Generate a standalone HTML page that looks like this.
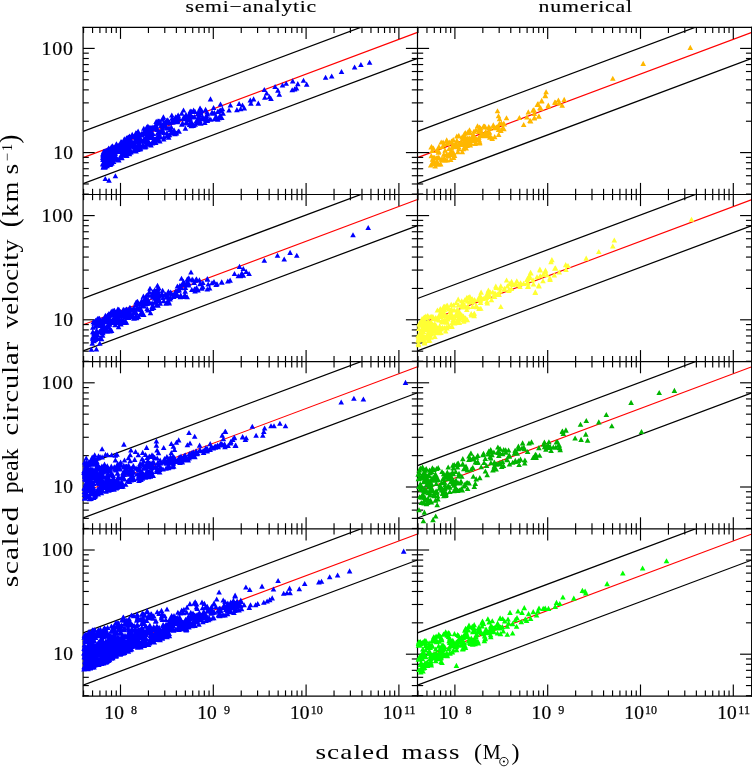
<!DOCTYPE html>
<html><head><meta charset="utf-8"><title>plot</title>
<style>html,body{margin:0;padding:0;background:#fff}svg{display:block;will-change:transform}</style></head>
<body>
<svg width="752" height="767" viewBox="0 0 752 767">
<rect width="752" height="767" fill="#fff"/>
<clipPath id="c00"><rect x="83.1" y="27.3" width="334.4" height="167.2"/></clipPath>
<g clip-path="url(#c00)">
<line x1="83.10" y1="131.30" x2="417.50" y2="6.07" stroke="#000" stroke-width="1.25"/>
<line x1="83.10" y1="183.60" x2="417.50" y2="58.37" stroke="#000" stroke-width="1.25"/>
<line x1="83.10" y1="157.60" x2="417.50" y2="32.37" stroke="#f00" stroke-width="1.15"/>
</g>
<clipPath id="c01"><rect x="417.5" y="27.3" width="334.4" height="167.2"/></clipPath>
<g clip-path="url(#c01)">
<line x1="417.50" y1="131.30" x2="751.90" y2="6.07" stroke="#000" stroke-width="1.25"/>
<line x1="417.50" y1="183.60" x2="751.90" y2="58.37" stroke="#000" stroke-width="1.25"/>
<line x1="417.50" y1="157.60" x2="751.90" y2="32.37" stroke="#f00" stroke-width="1.15"/>
</g>
<clipPath id="c10"><rect x="83.1" y="194.5" width="334.4" height="167.2"/></clipPath>
<g clip-path="url(#c10)">
<line x1="83.10" y1="298.50" x2="417.50" y2="173.27" stroke="#000" stroke-width="1.25"/>
<line x1="83.10" y1="350.80" x2="417.50" y2="225.57" stroke="#000" stroke-width="1.25"/>
<line x1="83.10" y1="324.80" x2="417.50" y2="199.57" stroke="#f00" stroke-width="1.15"/>
</g>
<clipPath id="c11"><rect x="417.5" y="194.5" width="334.4" height="167.2"/></clipPath>
<g clip-path="url(#c11)">
<line x1="417.50" y1="298.50" x2="751.90" y2="173.27" stroke="#000" stroke-width="1.25"/>
<line x1="417.50" y1="350.80" x2="751.90" y2="225.57" stroke="#000" stroke-width="1.25"/>
<line x1="417.50" y1="324.80" x2="751.90" y2="199.57" stroke="#f00" stroke-width="1.15"/>
</g>
<clipPath id="c20"><rect x="83.1" y="361.7" width="334.4" height="167.2"/></clipPath>
<g clip-path="url(#c20)">
<line x1="83.10" y1="465.70" x2="417.50" y2="340.47" stroke="#000" stroke-width="1.25"/>
<line x1="83.10" y1="518.00" x2="417.50" y2="392.77" stroke="#000" stroke-width="1.25"/>
<line x1="83.10" y1="492.00" x2="417.50" y2="366.77" stroke="#f00" stroke-width="1.15"/>
</g>
<clipPath id="c21"><rect x="417.5" y="361.7" width="334.4" height="167.2"/></clipPath>
<g clip-path="url(#c21)">
<line x1="417.50" y1="465.70" x2="751.90" y2="340.47" stroke="#000" stroke-width="1.25"/>
<line x1="417.50" y1="518.00" x2="751.90" y2="392.77" stroke="#000" stroke-width="1.25"/>
<line x1="417.50" y1="492.00" x2="751.90" y2="366.77" stroke="#f00" stroke-width="1.15"/>
</g>
<clipPath id="c30"><rect x="83.1" y="528.9" width="334.4" height="167.2"/></clipPath>
<g clip-path="url(#c30)">
<line x1="83.10" y1="632.90" x2="417.50" y2="507.67" stroke="#000" stroke-width="1.25"/>
<line x1="83.10" y1="685.20" x2="417.50" y2="559.97" stroke="#000" stroke-width="1.25"/>
<line x1="83.10" y1="659.20" x2="417.50" y2="533.97" stroke="#f00" stroke-width="1.15"/>
</g>
<clipPath id="c31"><rect x="417.5" y="528.9" width="334.4" height="167.2"/></clipPath>
<g clip-path="url(#c31)">
<line x1="417.50" y1="632.90" x2="751.90" y2="507.67" stroke="#000" stroke-width="1.25"/>
<line x1="417.50" y1="685.20" x2="751.90" y2="559.97" stroke="#000" stroke-width="1.25"/>
<line x1="417.50" y1="659.20" x2="751.90" y2="533.97" stroke="#f00" stroke-width="1.15"/>
</g>
<g stroke="#000" fill="none">
<line x1="82.50" y1="27.30" x2="752.00" y2="27.30" stroke="#000" stroke-width="1.2"/>
<line x1="82.50" y1="194.50" x2="752.00" y2="194.50" stroke="#000" stroke-width="1.2"/>
<line x1="82.50" y1="361.70" x2="752.00" y2="361.70" stroke="#000" stroke-width="1.2"/>
<line x1="82.50" y1="528.90" x2="752.00" y2="528.90" stroke="#000" stroke-width="1.2"/>
<line x1="82.50" y1="696.10" x2="752.00" y2="696.10" stroke="#000" stroke-width="1.2"/>
<line x1="83.10" y1="26.70" x2="83.10" y2="696.70" stroke="#000" stroke-width="1.2"/>
<line x1="417.50" y1="26.70" x2="417.50" y2="696.70" stroke="#000" stroke-width="1.2"/>
<line x1="751.65" y1="26.70" x2="751.65" y2="696.70" stroke="#000" stroke-width="1.2"/>
<line x1="120.50" y1="27.30" x2="120.50" y2="38.90" stroke="#000" stroke-width="1.15"/>
<line x1="213.30" y1="27.30" x2="213.30" y2="38.90" stroke="#000" stroke-width="1.15"/>
<line x1="306.10" y1="27.30" x2="306.10" y2="38.90" stroke="#000" stroke-width="1.15"/>
<line x1="398.90" y1="27.30" x2="398.90" y2="38.90" stroke="#000" stroke-width="1.15"/>
<line x1="83.57" y1="27.30" x2="83.57" y2="33.00" stroke="#000" stroke-width="1.15"/>
<line x1="92.56" y1="27.30" x2="92.56" y2="33.00" stroke="#000" stroke-width="1.15"/>
<line x1="99.91" y1="27.30" x2="99.91" y2="33.00" stroke="#000" stroke-width="1.15"/>
<line x1="106.13" y1="27.30" x2="106.13" y2="33.00" stroke="#000" stroke-width="1.15"/>
<line x1="111.51" y1="27.30" x2="111.51" y2="33.00" stroke="#000" stroke-width="1.15"/>
<line x1="116.25" y1="27.30" x2="116.25" y2="33.00" stroke="#000" stroke-width="1.15"/>
<line x1="148.44" y1="27.30" x2="148.44" y2="33.00" stroke="#000" stroke-width="1.15"/>
<line x1="164.78" y1="27.30" x2="164.78" y2="33.00" stroke="#000" stroke-width="1.15"/>
<line x1="176.37" y1="27.30" x2="176.37" y2="33.00" stroke="#000" stroke-width="1.15"/>
<line x1="185.36" y1="27.30" x2="185.36" y2="33.00" stroke="#000" stroke-width="1.15"/>
<line x1="192.71" y1="27.30" x2="192.71" y2="33.00" stroke="#000" stroke-width="1.15"/>
<line x1="198.93" y1="27.30" x2="198.93" y2="33.00" stroke="#000" stroke-width="1.15"/>
<line x1="204.31" y1="27.30" x2="204.31" y2="33.00" stroke="#000" stroke-width="1.15"/>
<line x1="209.05" y1="27.30" x2="209.05" y2="33.00" stroke="#000" stroke-width="1.15"/>
<line x1="241.24" y1="27.30" x2="241.24" y2="33.00" stroke="#000" stroke-width="1.15"/>
<line x1="257.58" y1="27.30" x2="257.58" y2="33.00" stroke="#000" stroke-width="1.15"/>
<line x1="269.17" y1="27.30" x2="269.17" y2="33.00" stroke="#000" stroke-width="1.15"/>
<line x1="278.16" y1="27.30" x2="278.16" y2="33.00" stroke="#000" stroke-width="1.15"/>
<line x1="285.51" y1="27.30" x2="285.51" y2="33.00" stroke="#000" stroke-width="1.15"/>
<line x1="291.73" y1="27.30" x2="291.73" y2="33.00" stroke="#000" stroke-width="1.15"/>
<line x1="297.11" y1="27.30" x2="297.11" y2="33.00" stroke="#000" stroke-width="1.15"/>
<line x1="301.85" y1="27.30" x2="301.85" y2="33.00" stroke="#000" stroke-width="1.15"/>
<line x1="334.04" y1="27.30" x2="334.04" y2="33.00" stroke="#000" stroke-width="1.15"/>
<line x1="350.38" y1="27.30" x2="350.38" y2="33.00" stroke="#000" stroke-width="1.15"/>
<line x1="361.97" y1="27.30" x2="361.97" y2="33.00" stroke="#000" stroke-width="1.15"/>
<line x1="370.96" y1="27.30" x2="370.96" y2="33.00" stroke="#000" stroke-width="1.15"/>
<line x1="378.31" y1="27.30" x2="378.31" y2="33.00" stroke="#000" stroke-width="1.15"/>
<line x1="384.53" y1="27.30" x2="384.53" y2="33.00" stroke="#000" stroke-width="1.15"/>
<line x1="389.91" y1="27.30" x2="389.91" y2="33.00" stroke="#000" stroke-width="1.15"/>
<line x1="394.65" y1="27.30" x2="394.65" y2="33.00" stroke="#000" stroke-width="1.15"/>
<line x1="454.90" y1="27.30" x2="454.90" y2="38.90" stroke="#000" stroke-width="1.15"/>
<line x1="547.70" y1="27.30" x2="547.70" y2="38.90" stroke="#000" stroke-width="1.15"/>
<line x1="640.50" y1="27.30" x2="640.50" y2="38.90" stroke="#000" stroke-width="1.15"/>
<line x1="733.30" y1="27.30" x2="733.30" y2="38.90" stroke="#000" stroke-width="1.15"/>
<line x1="417.97" y1="27.30" x2="417.97" y2="33.00" stroke="#000" stroke-width="1.15"/>
<line x1="426.96" y1="27.30" x2="426.96" y2="33.00" stroke="#000" stroke-width="1.15"/>
<line x1="434.31" y1="27.30" x2="434.31" y2="33.00" stroke="#000" stroke-width="1.15"/>
<line x1="440.53" y1="27.30" x2="440.53" y2="33.00" stroke="#000" stroke-width="1.15"/>
<line x1="445.91" y1="27.30" x2="445.91" y2="33.00" stroke="#000" stroke-width="1.15"/>
<line x1="450.65" y1="27.30" x2="450.65" y2="33.00" stroke="#000" stroke-width="1.15"/>
<line x1="482.84" y1="27.30" x2="482.84" y2="33.00" stroke="#000" stroke-width="1.15"/>
<line x1="499.18" y1="27.30" x2="499.18" y2="33.00" stroke="#000" stroke-width="1.15"/>
<line x1="510.77" y1="27.30" x2="510.77" y2="33.00" stroke="#000" stroke-width="1.15"/>
<line x1="519.76" y1="27.30" x2="519.76" y2="33.00" stroke="#000" stroke-width="1.15"/>
<line x1="527.11" y1="27.30" x2="527.11" y2="33.00" stroke="#000" stroke-width="1.15"/>
<line x1="533.33" y1="27.30" x2="533.33" y2="33.00" stroke="#000" stroke-width="1.15"/>
<line x1="538.71" y1="27.30" x2="538.71" y2="33.00" stroke="#000" stroke-width="1.15"/>
<line x1="543.45" y1="27.30" x2="543.45" y2="33.00" stroke="#000" stroke-width="1.15"/>
<line x1="575.64" y1="27.30" x2="575.64" y2="33.00" stroke="#000" stroke-width="1.15"/>
<line x1="591.98" y1="27.30" x2="591.98" y2="33.00" stroke="#000" stroke-width="1.15"/>
<line x1="603.57" y1="27.30" x2="603.57" y2="33.00" stroke="#000" stroke-width="1.15"/>
<line x1="612.56" y1="27.30" x2="612.56" y2="33.00" stroke="#000" stroke-width="1.15"/>
<line x1="619.91" y1="27.30" x2="619.91" y2="33.00" stroke="#000" stroke-width="1.15"/>
<line x1="626.13" y1="27.30" x2="626.13" y2="33.00" stroke="#000" stroke-width="1.15"/>
<line x1="631.51" y1="27.30" x2="631.51" y2="33.00" stroke="#000" stroke-width="1.15"/>
<line x1="636.25" y1="27.30" x2="636.25" y2="33.00" stroke="#000" stroke-width="1.15"/>
<line x1="668.44" y1="27.30" x2="668.44" y2="33.00" stroke="#000" stroke-width="1.15"/>
<line x1="684.78" y1="27.30" x2="684.78" y2="33.00" stroke="#000" stroke-width="1.15"/>
<line x1="696.37" y1="27.30" x2="696.37" y2="33.00" stroke="#000" stroke-width="1.15"/>
<line x1="705.36" y1="27.30" x2="705.36" y2="33.00" stroke="#000" stroke-width="1.15"/>
<line x1="712.71" y1="27.30" x2="712.71" y2="33.00" stroke="#000" stroke-width="1.15"/>
<line x1="718.93" y1="27.30" x2="718.93" y2="33.00" stroke="#000" stroke-width="1.15"/>
<line x1="724.31" y1="27.30" x2="724.31" y2="33.00" stroke="#000" stroke-width="1.15"/>
<line x1="729.05" y1="27.30" x2="729.05" y2="33.00" stroke="#000" stroke-width="1.15"/>
<line x1="120.50" y1="182.90" x2="120.50" y2="206.10" stroke="#000" stroke-width="1.15"/>
<line x1="213.30" y1="182.90" x2="213.30" y2="206.10" stroke="#000" stroke-width="1.15"/>
<line x1="306.10" y1="182.90" x2="306.10" y2="206.10" stroke="#000" stroke-width="1.15"/>
<line x1="398.90" y1="182.90" x2="398.90" y2="206.10" stroke="#000" stroke-width="1.15"/>
<line x1="83.57" y1="188.80" x2="83.57" y2="200.20" stroke="#000" stroke-width="1.15"/>
<line x1="92.56" y1="188.80" x2="92.56" y2="200.20" stroke="#000" stroke-width="1.15"/>
<line x1="99.91" y1="188.80" x2="99.91" y2="200.20" stroke="#000" stroke-width="1.15"/>
<line x1="106.13" y1="188.80" x2="106.13" y2="200.20" stroke="#000" stroke-width="1.15"/>
<line x1="111.51" y1="188.80" x2="111.51" y2="200.20" stroke="#000" stroke-width="1.15"/>
<line x1="116.25" y1="188.80" x2="116.25" y2="200.20" stroke="#000" stroke-width="1.15"/>
<line x1="148.44" y1="188.80" x2="148.44" y2="200.20" stroke="#000" stroke-width="1.15"/>
<line x1="164.78" y1="188.80" x2="164.78" y2="200.20" stroke="#000" stroke-width="1.15"/>
<line x1="176.37" y1="188.80" x2="176.37" y2="200.20" stroke="#000" stroke-width="1.15"/>
<line x1="185.36" y1="188.80" x2="185.36" y2="200.20" stroke="#000" stroke-width="1.15"/>
<line x1="192.71" y1="188.80" x2="192.71" y2="200.20" stroke="#000" stroke-width="1.15"/>
<line x1="198.93" y1="188.80" x2="198.93" y2="200.20" stroke="#000" stroke-width="1.15"/>
<line x1="204.31" y1="188.80" x2="204.31" y2="200.20" stroke="#000" stroke-width="1.15"/>
<line x1="209.05" y1="188.80" x2="209.05" y2="200.20" stroke="#000" stroke-width="1.15"/>
<line x1="241.24" y1="188.80" x2="241.24" y2="200.20" stroke="#000" stroke-width="1.15"/>
<line x1="257.58" y1="188.80" x2="257.58" y2="200.20" stroke="#000" stroke-width="1.15"/>
<line x1="269.17" y1="188.80" x2="269.17" y2="200.20" stroke="#000" stroke-width="1.15"/>
<line x1="278.16" y1="188.80" x2="278.16" y2="200.20" stroke="#000" stroke-width="1.15"/>
<line x1="285.51" y1="188.80" x2="285.51" y2="200.20" stroke="#000" stroke-width="1.15"/>
<line x1="291.73" y1="188.80" x2="291.73" y2="200.20" stroke="#000" stroke-width="1.15"/>
<line x1="297.11" y1="188.80" x2="297.11" y2="200.20" stroke="#000" stroke-width="1.15"/>
<line x1="301.85" y1="188.80" x2="301.85" y2="200.20" stroke="#000" stroke-width="1.15"/>
<line x1="334.04" y1="188.80" x2="334.04" y2="200.20" stroke="#000" stroke-width="1.15"/>
<line x1="350.38" y1="188.80" x2="350.38" y2="200.20" stroke="#000" stroke-width="1.15"/>
<line x1="361.97" y1="188.80" x2="361.97" y2="200.20" stroke="#000" stroke-width="1.15"/>
<line x1="370.96" y1="188.80" x2="370.96" y2="200.20" stroke="#000" stroke-width="1.15"/>
<line x1="378.31" y1="188.80" x2="378.31" y2="200.20" stroke="#000" stroke-width="1.15"/>
<line x1="384.53" y1="188.80" x2="384.53" y2="200.20" stroke="#000" stroke-width="1.15"/>
<line x1="389.91" y1="188.80" x2="389.91" y2="200.20" stroke="#000" stroke-width="1.15"/>
<line x1="394.65" y1="188.80" x2="394.65" y2="200.20" stroke="#000" stroke-width="1.15"/>
<line x1="454.90" y1="182.90" x2="454.90" y2="206.10" stroke="#000" stroke-width="1.15"/>
<line x1="547.70" y1="182.90" x2="547.70" y2="206.10" stroke="#000" stroke-width="1.15"/>
<line x1="640.50" y1="182.90" x2="640.50" y2="206.10" stroke="#000" stroke-width="1.15"/>
<line x1="733.30" y1="182.90" x2="733.30" y2="206.10" stroke="#000" stroke-width="1.15"/>
<line x1="417.97" y1="188.80" x2="417.97" y2="200.20" stroke="#000" stroke-width="1.15"/>
<line x1="426.96" y1="188.80" x2="426.96" y2="200.20" stroke="#000" stroke-width="1.15"/>
<line x1="434.31" y1="188.80" x2="434.31" y2="200.20" stroke="#000" stroke-width="1.15"/>
<line x1="440.53" y1="188.80" x2="440.53" y2="200.20" stroke="#000" stroke-width="1.15"/>
<line x1="445.91" y1="188.80" x2="445.91" y2="200.20" stroke="#000" stroke-width="1.15"/>
<line x1="450.65" y1="188.80" x2="450.65" y2="200.20" stroke="#000" stroke-width="1.15"/>
<line x1="482.84" y1="188.80" x2="482.84" y2="200.20" stroke="#000" stroke-width="1.15"/>
<line x1="499.18" y1="188.80" x2="499.18" y2="200.20" stroke="#000" stroke-width="1.15"/>
<line x1="510.77" y1="188.80" x2="510.77" y2="200.20" stroke="#000" stroke-width="1.15"/>
<line x1="519.76" y1="188.80" x2="519.76" y2="200.20" stroke="#000" stroke-width="1.15"/>
<line x1="527.11" y1="188.80" x2="527.11" y2="200.20" stroke="#000" stroke-width="1.15"/>
<line x1="533.33" y1="188.80" x2="533.33" y2="200.20" stroke="#000" stroke-width="1.15"/>
<line x1="538.71" y1="188.80" x2="538.71" y2="200.20" stroke="#000" stroke-width="1.15"/>
<line x1="543.45" y1="188.80" x2="543.45" y2="200.20" stroke="#000" stroke-width="1.15"/>
<line x1="575.64" y1="188.80" x2="575.64" y2="200.20" stroke="#000" stroke-width="1.15"/>
<line x1="591.98" y1="188.80" x2="591.98" y2="200.20" stroke="#000" stroke-width="1.15"/>
<line x1="603.57" y1="188.80" x2="603.57" y2="200.20" stroke="#000" stroke-width="1.15"/>
<line x1="612.56" y1="188.80" x2="612.56" y2="200.20" stroke="#000" stroke-width="1.15"/>
<line x1="619.91" y1="188.80" x2="619.91" y2="200.20" stroke="#000" stroke-width="1.15"/>
<line x1="626.13" y1="188.80" x2="626.13" y2="200.20" stroke="#000" stroke-width="1.15"/>
<line x1="631.51" y1="188.80" x2="631.51" y2="200.20" stroke="#000" stroke-width="1.15"/>
<line x1="636.25" y1="188.80" x2="636.25" y2="200.20" stroke="#000" stroke-width="1.15"/>
<line x1="668.44" y1="188.80" x2="668.44" y2="200.20" stroke="#000" stroke-width="1.15"/>
<line x1="684.78" y1="188.80" x2="684.78" y2="200.20" stroke="#000" stroke-width="1.15"/>
<line x1="696.37" y1="188.80" x2="696.37" y2="200.20" stroke="#000" stroke-width="1.15"/>
<line x1="705.36" y1="188.80" x2="705.36" y2="200.20" stroke="#000" stroke-width="1.15"/>
<line x1="712.71" y1="188.80" x2="712.71" y2="200.20" stroke="#000" stroke-width="1.15"/>
<line x1="718.93" y1="188.80" x2="718.93" y2="200.20" stroke="#000" stroke-width="1.15"/>
<line x1="724.31" y1="188.80" x2="724.31" y2="200.20" stroke="#000" stroke-width="1.15"/>
<line x1="729.05" y1="188.80" x2="729.05" y2="200.20" stroke="#000" stroke-width="1.15"/>
<line x1="120.50" y1="350.10" x2="120.50" y2="373.30" stroke="#000" stroke-width="1.15"/>
<line x1="213.30" y1="350.10" x2="213.30" y2="373.30" stroke="#000" stroke-width="1.15"/>
<line x1="306.10" y1="350.10" x2="306.10" y2="373.30" stroke="#000" stroke-width="1.15"/>
<line x1="398.90" y1="350.10" x2="398.90" y2="373.30" stroke="#000" stroke-width="1.15"/>
<line x1="83.57" y1="356.00" x2="83.57" y2="367.40" stroke="#000" stroke-width="1.15"/>
<line x1="92.56" y1="356.00" x2="92.56" y2="367.40" stroke="#000" stroke-width="1.15"/>
<line x1="99.91" y1="356.00" x2="99.91" y2="367.40" stroke="#000" stroke-width="1.15"/>
<line x1="106.13" y1="356.00" x2="106.13" y2="367.40" stroke="#000" stroke-width="1.15"/>
<line x1="111.51" y1="356.00" x2="111.51" y2="367.40" stroke="#000" stroke-width="1.15"/>
<line x1="116.25" y1="356.00" x2="116.25" y2="367.40" stroke="#000" stroke-width="1.15"/>
<line x1="148.44" y1="356.00" x2="148.44" y2="367.40" stroke="#000" stroke-width="1.15"/>
<line x1="164.78" y1="356.00" x2="164.78" y2="367.40" stroke="#000" stroke-width="1.15"/>
<line x1="176.37" y1="356.00" x2="176.37" y2="367.40" stroke="#000" stroke-width="1.15"/>
<line x1="185.36" y1="356.00" x2="185.36" y2="367.40" stroke="#000" stroke-width="1.15"/>
<line x1="192.71" y1="356.00" x2="192.71" y2="367.40" stroke="#000" stroke-width="1.15"/>
<line x1="198.93" y1="356.00" x2="198.93" y2="367.40" stroke="#000" stroke-width="1.15"/>
<line x1="204.31" y1="356.00" x2="204.31" y2="367.40" stroke="#000" stroke-width="1.15"/>
<line x1="209.05" y1="356.00" x2="209.05" y2="367.40" stroke="#000" stroke-width="1.15"/>
<line x1="241.24" y1="356.00" x2="241.24" y2="367.40" stroke="#000" stroke-width="1.15"/>
<line x1="257.58" y1="356.00" x2="257.58" y2="367.40" stroke="#000" stroke-width="1.15"/>
<line x1="269.17" y1="356.00" x2="269.17" y2="367.40" stroke="#000" stroke-width="1.15"/>
<line x1="278.16" y1="356.00" x2="278.16" y2="367.40" stroke="#000" stroke-width="1.15"/>
<line x1="285.51" y1="356.00" x2="285.51" y2="367.40" stroke="#000" stroke-width="1.15"/>
<line x1="291.73" y1="356.00" x2="291.73" y2="367.40" stroke="#000" stroke-width="1.15"/>
<line x1="297.11" y1="356.00" x2="297.11" y2="367.40" stroke="#000" stroke-width="1.15"/>
<line x1="301.85" y1="356.00" x2="301.85" y2="367.40" stroke="#000" stroke-width="1.15"/>
<line x1="334.04" y1="356.00" x2="334.04" y2="367.40" stroke="#000" stroke-width="1.15"/>
<line x1="350.38" y1="356.00" x2="350.38" y2="367.40" stroke="#000" stroke-width="1.15"/>
<line x1="361.97" y1="356.00" x2="361.97" y2="367.40" stroke="#000" stroke-width="1.15"/>
<line x1="370.96" y1="356.00" x2="370.96" y2="367.40" stroke="#000" stroke-width="1.15"/>
<line x1="378.31" y1="356.00" x2="378.31" y2="367.40" stroke="#000" stroke-width="1.15"/>
<line x1="384.53" y1="356.00" x2="384.53" y2="367.40" stroke="#000" stroke-width="1.15"/>
<line x1="389.91" y1="356.00" x2="389.91" y2="367.40" stroke="#000" stroke-width="1.15"/>
<line x1="394.65" y1="356.00" x2="394.65" y2="367.40" stroke="#000" stroke-width="1.15"/>
<line x1="454.90" y1="350.10" x2="454.90" y2="373.30" stroke="#000" stroke-width="1.15"/>
<line x1="547.70" y1="350.10" x2="547.70" y2="373.30" stroke="#000" stroke-width="1.15"/>
<line x1="640.50" y1="350.10" x2="640.50" y2="373.30" stroke="#000" stroke-width="1.15"/>
<line x1="733.30" y1="350.10" x2="733.30" y2="373.30" stroke="#000" stroke-width="1.15"/>
<line x1="417.97" y1="356.00" x2="417.97" y2="367.40" stroke="#000" stroke-width="1.15"/>
<line x1="426.96" y1="356.00" x2="426.96" y2="367.40" stroke="#000" stroke-width="1.15"/>
<line x1="434.31" y1="356.00" x2="434.31" y2="367.40" stroke="#000" stroke-width="1.15"/>
<line x1="440.53" y1="356.00" x2="440.53" y2="367.40" stroke="#000" stroke-width="1.15"/>
<line x1="445.91" y1="356.00" x2="445.91" y2="367.40" stroke="#000" stroke-width="1.15"/>
<line x1="450.65" y1="356.00" x2="450.65" y2="367.40" stroke="#000" stroke-width="1.15"/>
<line x1="482.84" y1="356.00" x2="482.84" y2="367.40" stroke="#000" stroke-width="1.15"/>
<line x1="499.18" y1="356.00" x2="499.18" y2="367.40" stroke="#000" stroke-width="1.15"/>
<line x1="510.77" y1="356.00" x2="510.77" y2="367.40" stroke="#000" stroke-width="1.15"/>
<line x1="519.76" y1="356.00" x2="519.76" y2="367.40" stroke="#000" stroke-width="1.15"/>
<line x1="527.11" y1="356.00" x2="527.11" y2="367.40" stroke="#000" stroke-width="1.15"/>
<line x1="533.33" y1="356.00" x2="533.33" y2="367.40" stroke="#000" stroke-width="1.15"/>
<line x1="538.71" y1="356.00" x2="538.71" y2="367.40" stroke="#000" stroke-width="1.15"/>
<line x1="543.45" y1="356.00" x2="543.45" y2="367.40" stroke="#000" stroke-width="1.15"/>
<line x1="575.64" y1="356.00" x2="575.64" y2="367.40" stroke="#000" stroke-width="1.15"/>
<line x1="591.98" y1="356.00" x2="591.98" y2="367.40" stroke="#000" stroke-width="1.15"/>
<line x1="603.57" y1="356.00" x2="603.57" y2="367.40" stroke="#000" stroke-width="1.15"/>
<line x1="612.56" y1="356.00" x2="612.56" y2="367.40" stroke="#000" stroke-width="1.15"/>
<line x1="619.91" y1="356.00" x2="619.91" y2="367.40" stroke="#000" stroke-width="1.15"/>
<line x1="626.13" y1="356.00" x2="626.13" y2="367.40" stroke="#000" stroke-width="1.15"/>
<line x1="631.51" y1="356.00" x2="631.51" y2="367.40" stroke="#000" stroke-width="1.15"/>
<line x1="636.25" y1="356.00" x2="636.25" y2="367.40" stroke="#000" stroke-width="1.15"/>
<line x1="668.44" y1="356.00" x2="668.44" y2="367.40" stroke="#000" stroke-width="1.15"/>
<line x1="684.78" y1="356.00" x2="684.78" y2="367.40" stroke="#000" stroke-width="1.15"/>
<line x1="696.37" y1="356.00" x2="696.37" y2="367.40" stroke="#000" stroke-width="1.15"/>
<line x1="705.36" y1="356.00" x2="705.36" y2="367.40" stroke="#000" stroke-width="1.15"/>
<line x1="712.71" y1="356.00" x2="712.71" y2="367.40" stroke="#000" stroke-width="1.15"/>
<line x1="718.93" y1="356.00" x2="718.93" y2="367.40" stroke="#000" stroke-width="1.15"/>
<line x1="724.31" y1="356.00" x2="724.31" y2="367.40" stroke="#000" stroke-width="1.15"/>
<line x1="729.05" y1="356.00" x2="729.05" y2="367.40" stroke="#000" stroke-width="1.15"/>
<line x1="120.50" y1="517.30" x2="120.50" y2="540.50" stroke="#000" stroke-width="1.15"/>
<line x1="213.30" y1="517.30" x2="213.30" y2="540.50" stroke="#000" stroke-width="1.15"/>
<line x1="306.10" y1="517.30" x2="306.10" y2="540.50" stroke="#000" stroke-width="1.15"/>
<line x1="398.90" y1="517.30" x2="398.90" y2="540.50" stroke="#000" stroke-width="1.15"/>
<line x1="83.57" y1="523.20" x2="83.57" y2="534.60" stroke="#000" stroke-width="1.15"/>
<line x1="92.56" y1="523.20" x2="92.56" y2="534.60" stroke="#000" stroke-width="1.15"/>
<line x1="99.91" y1="523.20" x2="99.91" y2="534.60" stroke="#000" stroke-width="1.15"/>
<line x1="106.13" y1="523.20" x2="106.13" y2="534.60" stroke="#000" stroke-width="1.15"/>
<line x1="111.51" y1="523.20" x2="111.51" y2="534.60" stroke="#000" stroke-width="1.15"/>
<line x1="116.25" y1="523.20" x2="116.25" y2="534.60" stroke="#000" stroke-width="1.15"/>
<line x1="148.44" y1="523.20" x2="148.44" y2="534.60" stroke="#000" stroke-width="1.15"/>
<line x1="164.78" y1="523.20" x2="164.78" y2="534.60" stroke="#000" stroke-width="1.15"/>
<line x1="176.37" y1="523.20" x2="176.37" y2="534.60" stroke="#000" stroke-width="1.15"/>
<line x1="185.36" y1="523.20" x2="185.36" y2="534.60" stroke="#000" stroke-width="1.15"/>
<line x1="192.71" y1="523.20" x2="192.71" y2="534.60" stroke="#000" stroke-width="1.15"/>
<line x1="198.93" y1="523.20" x2="198.93" y2="534.60" stroke="#000" stroke-width="1.15"/>
<line x1="204.31" y1="523.20" x2="204.31" y2="534.60" stroke="#000" stroke-width="1.15"/>
<line x1="209.05" y1="523.20" x2="209.05" y2="534.60" stroke="#000" stroke-width="1.15"/>
<line x1="241.24" y1="523.20" x2="241.24" y2="534.60" stroke="#000" stroke-width="1.15"/>
<line x1="257.58" y1="523.20" x2="257.58" y2="534.60" stroke="#000" stroke-width="1.15"/>
<line x1="269.17" y1="523.20" x2="269.17" y2="534.60" stroke="#000" stroke-width="1.15"/>
<line x1="278.16" y1="523.20" x2="278.16" y2="534.60" stroke="#000" stroke-width="1.15"/>
<line x1="285.51" y1="523.20" x2="285.51" y2="534.60" stroke="#000" stroke-width="1.15"/>
<line x1="291.73" y1="523.20" x2="291.73" y2="534.60" stroke="#000" stroke-width="1.15"/>
<line x1="297.11" y1="523.20" x2="297.11" y2="534.60" stroke="#000" stroke-width="1.15"/>
<line x1="301.85" y1="523.20" x2="301.85" y2="534.60" stroke="#000" stroke-width="1.15"/>
<line x1="334.04" y1="523.20" x2="334.04" y2="534.60" stroke="#000" stroke-width="1.15"/>
<line x1="350.38" y1="523.20" x2="350.38" y2="534.60" stroke="#000" stroke-width="1.15"/>
<line x1="361.97" y1="523.20" x2="361.97" y2="534.60" stroke="#000" stroke-width="1.15"/>
<line x1="370.96" y1="523.20" x2="370.96" y2="534.60" stroke="#000" stroke-width="1.15"/>
<line x1="378.31" y1="523.20" x2="378.31" y2="534.60" stroke="#000" stroke-width="1.15"/>
<line x1="384.53" y1="523.20" x2="384.53" y2="534.60" stroke="#000" stroke-width="1.15"/>
<line x1="389.91" y1="523.20" x2="389.91" y2="534.60" stroke="#000" stroke-width="1.15"/>
<line x1="394.65" y1="523.20" x2="394.65" y2="534.60" stroke="#000" stroke-width="1.15"/>
<line x1="454.90" y1="517.30" x2="454.90" y2="540.50" stroke="#000" stroke-width="1.15"/>
<line x1="547.70" y1="517.30" x2="547.70" y2="540.50" stroke="#000" stroke-width="1.15"/>
<line x1="640.50" y1="517.30" x2="640.50" y2="540.50" stroke="#000" stroke-width="1.15"/>
<line x1="733.30" y1="517.30" x2="733.30" y2="540.50" stroke="#000" stroke-width="1.15"/>
<line x1="417.97" y1="523.20" x2="417.97" y2="534.60" stroke="#000" stroke-width="1.15"/>
<line x1="426.96" y1="523.20" x2="426.96" y2="534.60" stroke="#000" stroke-width="1.15"/>
<line x1="434.31" y1="523.20" x2="434.31" y2="534.60" stroke="#000" stroke-width="1.15"/>
<line x1="440.53" y1="523.20" x2="440.53" y2="534.60" stroke="#000" stroke-width="1.15"/>
<line x1="445.91" y1="523.20" x2="445.91" y2="534.60" stroke="#000" stroke-width="1.15"/>
<line x1="450.65" y1="523.20" x2="450.65" y2="534.60" stroke="#000" stroke-width="1.15"/>
<line x1="482.84" y1="523.20" x2="482.84" y2="534.60" stroke="#000" stroke-width="1.15"/>
<line x1="499.18" y1="523.20" x2="499.18" y2="534.60" stroke="#000" stroke-width="1.15"/>
<line x1="510.77" y1="523.20" x2="510.77" y2="534.60" stroke="#000" stroke-width="1.15"/>
<line x1="519.76" y1="523.20" x2="519.76" y2="534.60" stroke="#000" stroke-width="1.15"/>
<line x1="527.11" y1="523.20" x2="527.11" y2="534.60" stroke="#000" stroke-width="1.15"/>
<line x1="533.33" y1="523.20" x2="533.33" y2="534.60" stroke="#000" stroke-width="1.15"/>
<line x1="538.71" y1="523.20" x2="538.71" y2="534.60" stroke="#000" stroke-width="1.15"/>
<line x1="543.45" y1="523.20" x2="543.45" y2="534.60" stroke="#000" stroke-width="1.15"/>
<line x1="575.64" y1="523.20" x2="575.64" y2="534.60" stroke="#000" stroke-width="1.15"/>
<line x1="591.98" y1="523.20" x2="591.98" y2="534.60" stroke="#000" stroke-width="1.15"/>
<line x1="603.57" y1="523.20" x2="603.57" y2="534.60" stroke="#000" stroke-width="1.15"/>
<line x1="612.56" y1="523.20" x2="612.56" y2="534.60" stroke="#000" stroke-width="1.15"/>
<line x1="619.91" y1="523.20" x2="619.91" y2="534.60" stroke="#000" stroke-width="1.15"/>
<line x1="626.13" y1="523.20" x2="626.13" y2="534.60" stroke="#000" stroke-width="1.15"/>
<line x1="631.51" y1="523.20" x2="631.51" y2="534.60" stroke="#000" stroke-width="1.15"/>
<line x1="636.25" y1="523.20" x2="636.25" y2="534.60" stroke="#000" stroke-width="1.15"/>
<line x1="668.44" y1="523.20" x2="668.44" y2="534.60" stroke="#000" stroke-width="1.15"/>
<line x1="684.78" y1="523.20" x2="684.78" y2="534.60" stroke="#000" stroke-width="1.15"/>
<line x1="696.37" y1="523.20" x2="696.37" y2="534.60" stroke="#000" stroke-width="1.15"/>
<line x1="705.36" y1="523.20" x2="705.36" y2="534.60" stroke="#000" stroke-width="1.15"/>
<line x1="712.71" y1="523.20" x2="712.71" y2="534.60" stroke="#000" stroke-width="1.15"/>
<line x1="718.93" y1="523.20" x2="718.93" y2="534.60" stroke="#000" stroke-width="1.15"/>
<line x1="724.31" y1="523.20" x2="724.31" y2="534.60" stroke="#000" stroke-width="1.15"/>
<line x1="729.05" y1="523.20" x2="729.05" y2="534.60" stroke="#000" stroke-width="1.15"/>
<line x1="120.50" y1="684.50" x2="120.50" y2="696.10" stroke="#000" stroke-width="1.15"/>
<line x1="213.30" y1="684.50" x2="213.30" y2="696.10" stroke="#000" stroke-width="1.15"/>
<line x1="306.10" y1="684.50" x2="306.10" y2="696.10" stroke="#000" stroke-width="1.15"/>
<line x1="398.90" y1="684.50" x2="398.90" y2="696.10" stroke="#000" stroke-width="1.15"/>
<line x1="83.57" y1="690.40" x2="83.57" y2="696.10" stroke="#000" stroke-width="1.15"/>
<line x1="92.56" y1="690.40" x2="92.56" y2="696.10" stroke="#000" stroke-width="1.15"/>
<line x1="99.91" y1="690.40" x2="99.91" y2="696.10" stroke="#000" stroke-width="1.15"/>
<line x1="106.13" y1="690.40" x2="106.13" y2="696.10" stroke="#000" stroke-width="1.15"/>
<line x1="111.51" y1="690.40" x2="111.51" y2="696.10" stroke="#000" stroke-width="1.15"/>
<line x1="116.25" y1="690.40" x2="116.25" y2="696.10" stroke="#000" stroke-width="1.15"/>
<line x1="148.44" y1="690.40" x2="148.44" y2="696.10" stroke="#000" stroke-width="1.15"/>
<line x1="164.78" y1="690.40" x2="164.78" y2="696.10" stroke="#000" stroke-width="1.15"/>
<line x1="176.37" y1="690.40" x2="176.37" y2="696.10" stroke="#000" stroke-width="1.15"/>
<line x1="185.36" y1="690.40" x2="185.36" y2="696.10" stroke="#000" stroke-width="1.15"/>
<line x1="192.71" y1="690.40" x2="192.71" y2="696.10" stroke="#000" stroke-width="1.15"/>
<line x1="198.93" y1="690.40" x2="198.93" y2="696.10" stroke="#000" stroke-width="1.15"/>
<line x1="204.31" y1="690.40" x2="204.31" y2="696.10" stroke="#000" stroke-width="1.15"/>
<line x1="209.05" y1="690.40" x2="209.05" y2="696.10" stroke="#000" stroke-width="1.15"/>
<line x1="241.24" y1="690.40" x2="241.24" y2="696.10" stroke="#000" stroke-width="1.15"/>
<line x1="257.58" y1="690.40" x2="257.58" y2="696.10" stroke="#000" stroke-width="1.15"/>
<line x1="269.17" y1="690.40" x2="269.17" y2="696.10" stroke="#000" stroke-width="1.15"/>
<line x1="278.16" y1="690.40" x2="278.16" y2="696.10" stroke="#000" stroke-width="1.15"/>
<line x1="285.51" y1="690.40" x2="285.51" y2="696.10" stroke="#000" stroke-width="1.15"/>
<line x1="291.73" y1="690.40" x2="291.73" y2="696.10" stroke="#000" stroke-width="1.15"/>
<line x1="297.11" y1="690.40" x2="297.11" y2="696.10" stroke="#000" stroke-width="1.15"/>
<line x1="301.85" y1="690.40" x2="301.85" y2="696.10" stroke="#000" stroke-width="1.15"/>
<line x1="334.04" y1="690.40" x2="334.04" y2="696.10" stroke="#000" stroke-width="1.15"/>
<line x1="350.38" y1="690.40" x2="350.38" y2="696.10" stroke="#000" stroke-width="1.15"/>
<line x1="361.97" y1="690.40" x2="361.97" y2="696.10" stroke="#000" stroke-width="1.15"/>
<line x1="370.96" y1="690.40" x2="370.96" y2="696.10" stroke="#000" stroke-width="1.15"/>
<line x1="378.31" y1="690.40" x2="378.31" y2="696.10" stroke="#000" stroke-width="1.15"/>
<line x1="384.53" y1="690.40" x2="384.53" y2="696.10" stroke="#000" stroke-width="1.15"/>
<line x1="389.91" y1="690.40" x2="389.91" y2="696.10" stroke="#000" stroke-width="1.15"/>
<line x1="394.65" y1="690.40" x2="394.65" y2="696.10" stroke="#000" stroke-width="1.15"/>
<line x1="454.90" y1="684.50" x2="454.90" y2="696.10" stroke="#000" stroke-width="1.15"/>
<line x1="547.70" y1="684.50" x2="547.70" y2="696.10" stroke="#000" stroke-width="1.15"/>
<line x1="640.50" y1="684.50" x2="640.50" y2="696.10" stroke="#000" stroke-width="1.15"/>
<line x1="733.30" y1="684.50" x2="733.30" y2="696.10" stroke="#000" stroke-width="1.15"/>
<line x1="417.97" y1="690.40" x2="417.97" y2="696.10" stroke="#000" stroke-width="1.15"/>
<line x1="426.96" y1="690.40" x2="426.96" y2="696.10" stroke="#000" stroke-width="1.15"/>
<line x1="434.31" y1="690.40" x2="434.31" y2="696.10" stroke="#000" stroke-width="1.15"/>
<line x1="440.53" y1="690.40" x2="440.53" y2="696.10" stroke="#000" stroke-width="1.15"/>
<line x1="445.91" y1="690.40" x2="445.91" y2="696.10" stroke="#000" stroke-width="1.15"/>
<line x1="450.65" y1="690.40" x2="450.65" y2="696.10" stroke="#000" stroke-width="1.15"/>
<line x1="482.84" y1="690.40" x2="482.84" y2="696.10" stroke="#000" stroke-width="1.15"/>
<line x1="499.18" y1="690.40" x2="499.18" y2="696.10" stroke="#000" stroke-width="1.15"/>
<line x1="510.77" y1="690.40" x2="510.77" y2="696.10" stroke="#000" stroke-width="1.15"/>
<line x1="519.76" y1="690.40" x2="519.76" y2="696.10" stroke="#000" stroke-width="1.15"/>
<line x1="527.11" y1="690.40" x2="527.11" y2="696.10" stroke="#000" stroke-width="1.15"/>
<line x1="533.33" y1="690.40" x2="533.33" y2="696.10" stroke="#000" stroke-width="1.15"/>
<line x1="538.71" y1="690.40" x2="538.71" y2="696.10" stroke="#000" stroke-width="1.15"/>
<line x1="543.45" y1="690.40" x2="543.45" y2="696.10" stroke="#000" stroke-width="1.15"/>
<line x1="575.64" y1="690.40" x2="575.64" y2="696.10" stroke="#000" stroke-width="1.15"/>
<line x1="591.98" y1="690.40" x2="591.98" y2="696.10" stroke="#000" stroke-width="1.15"/>
<line x1="603.57" y1="690.40" x2="603.57" y2="696.10" stroke="#000" stroke-width="1.15"/>
<line x1="612.56" y1="690.40" x2="612.56" y2="696.10" stroke="#000" stroke-width="1.15"/>
<line x1="619.91" y1="690.40" x2="619.91" y2="696.10" stroke="#000" stroke-width="1.15"/>
<line x1="626.13" y1="690.40" x2="626.13" y2="696.10" stroke="#000" stroke-width="1.15"/>
<line x1="631.51" y1="690.40" x2="631.51" y2="696.10" stroke="#000" stroke-width="1.15"/>
<line x1="636.25" y1="690.40" x2="636.25" y2="696.10" stroke="#000" stroke-width="1.15"/>
<line x1="668.44" y1="690.40" x2="668.44" y2="696.10" stroke="#000" stroke-width="1.15"/>
<line x1="684.78" y1="690.40" x2="684.78" y2="696.10" stroke="#000" stroke-width="1.15"/>
<line x1="696.37" y1="690.40" x2="696.37" y2="696.10" stroke="#000" stroke-width="1.15"/>
<line x1="705.36" y1="690.40" x2="705.36" y2="696.10" stroke="#000" stroke-width="1.15"/>
<line x1="712.71" y1="690.40" x2="712.71" y2="696.10" stroke="#000" stroke-width="1.15"/>
<line x1="718.93" y1="690.40" x2="718.93" y2="696.10" stroke="#000" stroke-width="1.15"/>
<line x1="724.31" y1="690.40" x2="724.31" y2="696.10" stroke="#000" stroke-width="1.15"/>
<line x1="729.05" y1="690.40" x2="729.05" y2="696.10" stroke="#000" stroke-width="1.15"/>
<line x1="83.10" y1="152.60" x2="94.70" y2="152.60" stroke="#000" stroke-width="1.15"/>
<line x1="83.10" y1="48.40" x2="94.70" y2="48.40" stroke="#000" stroke-width="1.15"/>
<line x1="83.10" y1="194.07" x2="88.80" y2="194.07" stroke="#000" stroke-width="1.15"/>
<line x1="83.10" y1="183.97" x2="88.80" y2="183.97" stroke="#000" stroke-width="1.15"/>
<line x1="83.10" y1="175.72" x2="88.80" y2="175.72" stroke="#000" stroke-width="1.15"/>
<line x1="83.10" y1="168.74" x2="88.80" y2="168.74" stroke="#000" stroke-width="1.15"/>
<line x1="83.10" y1="162.70" x2="88.80" y2="162.70" stroke="#000" stroke-width="1.15"/>
<line x1="83.10" y1="157.37" x2="88.80" y2="157.37" stroke="#000" stroke-width="1.15"/>
<line x1="83.10" y1="121.23" x2="88.80" y2="121.23" stroke="#000" stroke-width="1.15"/>
<line x1="83.10" y1="102.88" x2="88.80" y2="102.88" stroke="#000" stroke-width="1.15"/>
<line x1="83.10" y1="89.87" x2="88.80" y2="89.87" stroke="#000" stroke-width="1.15"/>
<line x1="83.10" y1="79.77" x2="88.80" y2="79.77" stroke="#000" stroke-width="1.15"/>
<line x1="83.10" y1="71.52" x2="88.80" y2="71.52" stroke="#000" stroke-width="1.15"/>
<line x1="83.10" y1="64.54" x2="88.80" y2="64.54" stroke="#000" stroke-width="1.15"/>
<line x1="83.10" y1="58.50" x2="88.80" y2="58.50" stroke="#000" stroke-width="1.15"/>
<line x1="83.10" y1="53.17" x2="88.80" y2="53.17" stroke="#000" stroke-width="1.15"/>
<line x1="83.10" y1="319.80" x2="94.70" y2="319.80" stroke="#000" stroke-width="1.15"/>
<line x1="83.10" y1="215.60" x2="94.70" y2="215.60" stroke="#000" stroke-width="1.15"/>
<line x1="83.10" y1="361.27" x2="88.80" y2="361.27" stroke="#000" stroke-width="1.15"/>
<line x1="83.10" y1="351.17" x2="88.80" y2="351.17" stroke="#000" stroke-width="1.15"/>
<line x1="83.10" y1="342.92" x2="88.80" y2="342.92" stroke="#000" stroke-width="1.15"/>
<line x1="83.10" y1="335.94" x2="88.80" y2="335.94" stroke="#000" stroke-width="1.15"/>
<line x1="83.10" y1="329.90" x2="88.80" y2="329.90" stroke="#000" stroke-width="1.15"/>
<line x1="83.10" y1="324.57" x2="88.80" y2="324.57" stroke="#000" stroke-width="1.15"/>
<line x1="83.10" y1="288.43" x2="88.80" y2="288.43" stroke="#000" stroke-width="1.15"/>
<line x1="83.10" y1="270.08" x2="88.80" y2="270.08" stroke="#000" stroke-width="1.15"/>
<line x1="83.10" y1="257.07" x2="88.80" y2="257.07" stroke="#000" stroke-width="1.15"/>
<line x1="83.10" y1="246.97" x2="88.80" y2="246.97" stroke="#000" stroke-width="1.15"/>
<line x1="83.10" y1="238.72" x2="88.80" y2="238.72" stroke="#000" stroke-width="1.15"/>
<line x1="83.10" y1="231.74" x2="88.80" y2="231.74" stroke="#000" stroke-width="1.15"/>
<line x1="83.10" y1="225.70" x2="88.80" y2="225.70" stroke="#000" stroke-width="1.15"/>
<line x1="83.10" y1="220.37" x2="88.80" y2="220.37" stroke="#000" stroke-width="1.15"/>
<line x1="83.10" y1="487.00" x2="94.70" y2="487.00" stroke="#000" stroke-width="1.15"/>
<line x1="83.10" y1="382.80" x2="94.70" y2="382.80" stroke="#000" stroke-width="1.15"/>
<line x1="83.10" y1="528.47" x2="88.80" y2="528.47" stroke="#000" stroke-width="1.15"/>
<line x1="83.10" y1="518.37" x2="88.80" y2="518.37" stroke="#000" stroke-width="1.15"/>
<line x1="83.10" y1="510.12" x2="88.80" y2="510.12" stroke="#000" stroke-width="1.15"/>
<line x1="83.10" y1="503.14" x2="88.80" y2="503.14" stroke="#000" stroke-width="1.15"/>
<line x1="83.10" y1="497.10" x2="88.80" y2="497.10" stroke="#000" stroke-width="1.15"/>
<line x1="83.10" y1="491.77" x2="88.80" y2="491.77" stroke="#000" stroke-width="1.15"/>
<line x1="83.10" y1="455.63" x2="88.80" y2="455.63" stroke="#000" stroke-width="1.15"/>
<line x1="83.10" y1="437.28" x2="88.80" y2="437.28" stroke="#000" stroke-width="1.15"/>
<line x1="83.10" y1="424.27" x2="88.80" y2="424.27" stroke="#000" stroke-width="1.15"/>
<line x1="83.10" y1="414.17" x2="88.80" y2="414.17" stroke="#000" stroke-width="1.15"/>
<line x1="83.10" y1="405.92" x2="88.80" y2="405.92" stroke="#000" stroke-width="1.15"/>
<line x1="83.10" y1="398.94" x2="88.80" y2="398.94" stroke="#000" stroke-width="1.15"/>
<line x1="83.10" y1="392.90" x2="88.80" y2="392.90" stroke="#000" stroke-width="1.15"/>
<line x1="83.10" y1="387.57" x2="88.80" y2="387.57" stroke="#000" stroke-width="1.15"/>
<line x1="83.10" y1="654.20" x2="94.70" y2="654.20" stroke="#000" stroke-width="1.15"/>
<line x1="83.10" y1="550.00" x2="94.70" y2="550.00" stroke="#000" stroke-width="1.15"/>
<line x1="83.10" y1="695.67" x2="88.80" y2="695.67" stroke="#000" stroke-width="1.15"/>
<line x1="83.10" y1="685.57" x2="88.80" y2="685.57" stroke="#000" stroke-width="1.15"/>
<line x1="83.10" y1="677.32" x2="88.80" y2="677.32" stroke="#000" stroke-width="1.15"/>
<line x1="83.10" y1="670.34" x2="88.80" y2="670.34" stroke="#000" stroke-width="1.15"/>
<line x1="83.10" y1="664.30" x2="88.80" y2="664.30" stroke="#000" stroke-width="1.15"/>
<line x1="83.10" y1="658.97" x2="88.80" y2="658.97" stroke="#000" stroke-width="1.15"/>
<line x1="83.10" y1="622.83" x2="88.80" y2="622.83" stroke="#000" stroke-width="1.15"/>
<line x1="83.10" y1="604.48" x2="88.80" y2="604.48" stroke="#000" stroke-width="1.15"/>
<line x1="83.10" y1="591.47" x2="88.80" y2="591.47" stroke="#000" stroke-width="1.15"/>
<line x1="83.10" y1="581.37" x2="88.80" y2="581.37" stroke="#000" stroke-width="1.15"/>
<line x1="83.10" y1="573.12" x2="88.80" y2="573.12" stroke="#000" stroke-width="1.15"/>
<line x1="83.10" y1="566.14" x2="88.80" y2="566.14" stroke="#000" stroke-width="1.15"/>
<line x1="83.10" y1="560.10" x2="88.80" y2="560.10" stroke="#000" stroke-width="1.15"/>
<line x1="83.10" y1="554.77" x2="88.80" y2="554.77" stroke="#000" stroke-width="1.15"/>
<line x1="405.90" y1="152.60" x2="429.10" y2="152.60" stroke="#000" stroke-width="1.15"/>
<line x1="405.90" y1="48.40" x2="429.10" y2="48.40" stroke="#000" stroke-width="1.15"/>
<line x1="411.80" y1="194.07" x2="423.20" y2="194.07" stroke="#000" stroke-width="1.15"/>
<line x1="411.80" y1="183.97" x2="423.20" y2="183.97" stroke="#000" stroke-width="1.15"/>
<line x1="411.80" y1="175.72" x2="423.20" y2="175.72" stroke="#000" stroke-width="1.15"/>
<line x1="411.80" y1="168.74" x2="423.20" y2="168.74" stroke="#000" stroke-width="1.15"/>
<line x1="411.80" y1="162.70" x2="423.20" y2="162.70" stroke="#000" stroke-width="1.15"/>
<line x1="411.80" y1="157.37" x2="423.20" y2="157.37" stroke="#000" stroke-width="1.15"/>
<line x1="411.80" y1="121.23" x2="423.20" y2="121.23" stroke="#000" stroke-width="1.15"/>
<line x1="411.80" y1="102.88" x2="423.20" y2="102.88" stroke="#000" stroke-width="1.15"/>
<line x1="411.80" y1="89.87" x2="423.20" y2="89.87" stroke="#000" stroke-width="1.15"/>
<line x1="411.80" y1="79.77" x2="423.20" y2="79.77" stroke="#000" stroke-width="1.15"/>
<line x1="411.80" y1="71.52" x2="423.20" y2="71.52" stroke="#000" stroke-width="1.15"/>
<line x1="411.80" y1="64.54" x2="423.20" y2="64.54" stroke="#000" stroke-width="1.15"/>
<line x1="411.80" y1="58.50" x2="423.20" y2="58.50" stroke="#000" stroke-width="1.15"/>
<line x1="411.80" y1="53.17" x2="423.20" y2="53.17" stroke="#000" stroke-width="1.15"/>
<line x1="405.90" y1="319.80" x2="429.10" y2="319.80" stroke="#000" stroke-width="1.15"/>
<line x1="405.90" y1="215.60" x2="429.10" y2="215.60" stroke="#000" stroke-width="1.15"/>
<line x1="411.80" y1="361.27" x2="423.20" y2="361.27" stroke="#000" stroke-width="1.15"/>
<line x1="411.80" y1="351.17" x2="423.20" y2="351.17" stroke="#000" stroke-width="1.15"/>
<line x1="411.80" y1="342.92" x2="423.20" y2="342.92" stroke="#000" stroke-width="1.15"/>
<line x1="411.80" y1="335.94" x2="423.20" y2="335.94" stroke="#000" stroke-width="1.15"/>
<line x1="411.80" y1="329.90" x2="423.20" y2="329.90" stroke="#000" stroke-width="1.15"/>
<line x1="411.80" y1="324.57" x2="423.20" y2="324.57" stroke="#000" stroke-width="1.15"/>
<line x1="411.80" y1="288.43" x2="423.20" y2="288.43" stroke="#000" stroke-width="1.15"/>
<line x1="411.80" y1="270.08" x2="423.20" y2="270.08" stroke="#000" stroke-width="1.15"/>
<line x1="411.80" y1="257.07" x2="423.20" y2="257.07" stroke="#000" stroke-width="1.15"/>
<line x1="411.80" y1="246.97" x2="423.20" y2="246.97" stroke="#000" stroke-width="1.15"/>
<line x1="411.80" y1="238.72" x2="423.20" y2="238.72" stroke="#000" stroke-width="1.15"/>
<line x1="411.80" y1="231.74" x2="423.20" y2="231.74" stroke="#000" stroke-width="1.15"/>
<line x1="411.80" y1="225.70" x2="423.20" y2="225.70" stroke="#000" stroke-width="1.15"/>
<line x1="411.80" y1="220.37" x2="423.20" y2="220.37" stroke="#000" stroke-width="1.15"/>
<line x1="405.90" y1="487.00" x2="429.10" y2="487.00" stroke="#000" stroke-width="1.15"/>
<line x1="405.90" y1="382.80" x2="429.10" y2="382.80" stroke="#000" stroke-width="1.15"/>
<line x1="411.80" y1="528.47" x2="423.20" y2="528.47" stroke="#000" stroke-width="1.15"/>
<line x1="411.80" y1="518.37" x2="423.20" y2="518.37" stroke="#000" stroke-width="1.15"/>
<line x1="411.80" y1="510.12" x2="423.20" y2="510.12" stroke="#000" stroke-width="1.15"/>
<line x1="411.80" y1="503.14" x2="423.20" y2="503.14" stroke="#000" stroke-width="1.15"/>
<line x1="411.80" y1="497.10" x2="423.20" y2="497.10" stroke="#000" stroke-width="1.15"/>
<line x1="411.80" y1="491.77" x2="423.20" y2="491.77" stroke="#000" stroke-width="1.15"/>
<line x1="411.80" y1="455.63" x2="423.20" y2="455.63" stroke="#000" stroke-width="1.15"/>
<line x1="411.80" y1="437.28" x2="423.20" y2="437.28" stroke="#000" stroke-width="1.15"/>
<line x1="411.80" y1="424.27" x2="423.20" y2="424.27" stroke="#000" stroke-width="1.15"/>
<line x1="411.80" y1="414.17" x2="423.20" y2="414.17" stroke="#000" stroke-width="1.15"/>
<line x1="411.80" y1="405.92" x2="423.20" y2="405.92" stroke="#000" stroke-width="1.15"/>
<line x1="411.80" y1="398.94" x2="423.20" y2="398.94" stroke="#000" stroke-width="1.15"/>
<line x1="411.80" y1="392.90" x2="423.20" y2="392.90" stroke="#000" stroke-width="1.15"/>
<line x1="411.80" y1="387.57" x2="423.20" y2="387.57" stroke="#000" stroke-width="1.15"/>
<line x1="405.90" y1="654.20" x2="429.10" y2="654.20" stroke="#000" stroke-width="1.15"/>
<line x1="405.90" y1="550.00" x2="429.10" y2="550.00" stroke="#000" stroke-width="1.15"/>
<line x1="411.80" y1="695.67" x2="423.20" y2="695.67" stroke="#000" stroke-width="1.15"/>
<line x1="411.80" y1="685.57" x2="423.20" y2="685.57" stroke="#000" stroke-width="1.15"/>
<line x1="411.80" y1="677.32" x2="423.20" y2="677.32" stroke="#000" stroke-width="1.15"/>
<line x1="411.80" y1="670.34" x2="423.20" y2="670.34" stroke="#000" stroke-width="1.15"/>
<line x1="411.80" y1="664.30" x2="423.20" y2="664.30" stroke="#000" stroke-width="1.15"/>
<line x1="411.80" y1="658.97" x2="423.20" y2="658.97" stroke="#000" stroke-width="1.15"/>
<line x1="411.80" y1="622.83" x2="423.20" y2="622.83" stroke="#000" stroke-width="1.15"/>
<line x1="411.80" y1="604.48" x2="423.20" y2="604.48" stroke="#000" stroke-width="1.15"/>
<line x1="411.80" y1="591.47" x2="423.20" y2="591.47" stroke="#000" stroke-width="1.15"/>
<line x1="411.80" y1="581.37" x2="423.20" y2="581.37" stroke="#000" stroke-width="1.15"/>
<line x1="411.80" y1="573.12" x2="423.20" y2="573.12" stroke="#000" stroke-width="1.15"/>
<line x1="411.80" y1="566.14" x2="423.20" y2="566.14" stroke="#000" stroke-width="1.15"/>
<line x1="411.80" y1="560.10" x2="423.20" y2="560.10" stroke="#000" stroke-width="1.15"/>
<line x1="411.80" y1="554.77" x2="423.20" y2="554.77" stroke="#000" stroke-width="1.15"/>
<line x1="740.05" y1="152.60" x2="751.65" y2="152.60" stroke="#000" stroke-width="1.15"/>
<line x1="740.05" y1="48.40" x2="751.65" y2="48.40" stroke="#000" stroke-width="1.15"/>
<line x1="745.95" y1="194.07" x2="751.65" y2="194.07" stroke="#000" stroke-width="1.15"/>
<line x1="745.95" y1="183.97" x2="751.65" y2="183.97" stroke="#000" stroke-width="1.15"/>
<line x1="745.95" y1="175.72" x2="751.65" y2="175.72" stroke="#000" stroke-width="1.15"/>
<line x1="745.95" y1="168.74" x2="751.65" y2="168.74" stroke="#000" stroke-width="1.15"/>
<line x1="745.95" y1="162.70" x2="751.65" y2="162.70" stroke="#000" stroke-width="1.15"/>
<line x1="745.95" y1="157.37" x2="751.65" y2="157.37" stroke="#000" stroke-width="1.15"/>
<line x1="745.95" y1="121.23" x2="751.65" y2="121.23" stroke="#000" stroke-width="1.15"/>
<line x1="745.95" y1="102.88" x2="751.65" y2="102.88" stroke="#000" stroke-width="1.15"/>
<line x1="745.95" y1="89.87" x2="751.65" y2="89.87" stroke="#000" stroke-width="1.15"/>
<line x1="745.95" y1="79.77" x2="751.65" y2="79.77" stroke="#000" stroke-width="1.15"/>
<line x1="745.95" y1="71.52" x2="751.65" y2="71.52" stroke="#000" stroke-width="1.15"/>
<line x1="745.95" y1="64.54" x2="751.65" y2="64.54" stroke="#000" stroke-width="1.15"/>
<line x1="745.95" y1="58.50" x2="751.65" y2="58.50" stroke="#000" stroke-width="1.15"/>
<line x1="745.95" y1="53.17" x2="751.65" y2="53.17" stroke="#000" stroke-width="1.15"/>
<line x1="740.05" y1="319.80" x2="751.65" y2="319.80" stroke="#000" stroke-width="1.15"/>
<line x1="740.05" y1="215.60" x2="751.65" y2="215.60" stroke="#000" stroke-width="1.15"/>
<line x1="745.95" y1="361.27" x2="751.65" y2="361.27" stroke="#000" stroke-width="1.15"/>
<line x1="745.95" y1="351.17" x2="751.65" y2="351.17" stroke="#000" stroke-width="1.15"/>
<line x1="745.95" y1="342.92" x2="751.65" y2="342.92" stroke="#000" stroke-width="1.15"/>
<line x1="745.95" y1="335.94" x2="751.65" y2="335.94" stroke="#000" stroke-width="1.15"/>
<line x1="745.95" y1="329.90" x2="751.65" y2="329.90" stroke="#000" stroke-width="1.15"/>
<line x1="745.95" y1="324.57" x2="751.65" y2="324.57" stroke="#000" stroke-width="1.15"/>
<line x1="745.95" y1="288.43" x2="751.65" y2="288.43" stroke="#000" stroke-width="1.15"/>
<line x1="745.95" y1="270.08" x2="751.65" y2="270.08" stroke="#000" stroke-width="1.15"/>
<line x1="745.95" y1="257.07" x2="751.65" y2="257.07" stroke="#000" stroke-width="1.15"/>
<line x1="745.95" y1="246.97" x2="751.65" y2="246.97" stroke="#000" stroke-width="1.15"/>
<line x1="745.95" y1="238.72" x2="751.65" y2="238.72" stroke="#000" stroke-width="1.15"/>
<line x1="745.95" y1="231.74" x2="751.65" y2="231.74" stroke="#000" stroke-width="1.15"/>
<line x1="745.95" y1="225.70" x2="751.65" y2="225.70" stroke="#000" stroke-width="1.15"/>
<line x1="745.95" y1="220.37" x2="751.65" y2="220.37" stroke="#000" stroke-width="1.15"/>
<line x1="740.05" y1="487.00" x2="751.65" y2="487.00" stroke="#000" stroke-width="1.15"/>
<line x1="740.05" y1="382.80" x2="751.65" y2="382.80" stroke="#000" stroke-width="1.15"/>
<line x1="745.95" y1="528.47" x2="751.65" y2="528.47" stroke="#000" stroke-width="1.15"/>
<line x1="745.95" y1="518.37" x2="751.65" y2="518.37" stroke="#000" stroke-width="1.15"/>
<line x1="745.95" y1="510.12" x2="751.65" y2="510.12" stroke="#000" stroke-width="1.15"/>
<line x1="745.95" y1="503.14" x2="751.65" y2="503.14" stroke="#000" stroke-width="1.15"/>
<line x1="745.95" y1="497.10" x2="751.65" y2="497.10" stroke="#000" stroke-width="1.15"/>
<line x1="745.95" y1="491.77" x2="751.65" y2="491.77" stroke="#000" stroke-width="1.15"/>
<line x1="745.95" y1="455.63" x2="751.65" y2="455.63" stroke="#000" stroke-width="1.15"/>
<line x1="745.95" y1="437.28" x2="751.65" y2="437.28" stroke="#000" stroke-width="1.15"/>
<line x1="745.95" y1="424.27" x2="751.65" y2="424.27" stroke="#000" stroke-width="1.15"/>
<line x1="745.95" y1="414.17" x2="751.65" y2="414.17" stroke="#000" stroke-width="1.15"/>
<line x1="745.95" y1="405.92" x2="751.65" y2="405.92" stroke="#000" stroke-width="1.15"/>
<line x1="745.95" y1="398.94" x2="751.65" y2="398.94" stroke="#000" stroke-width="1.15"/>
<line x1="745.95" y1="392.90" x2="751.65" y2="392.90" stroke="#000" stroke-width="1.15"/>
<line x1="745.95" y1="387.57" x2="751.65" y2="387.57" stroke="#000" stroke-width="1.15"/>
<line x1="740.05" y1="654.20" x2="751.65" y2="654.20" stroke="#000" stroke-width="1.15"/>
<line x1="740.05" y1="550.00" x2="751.65" y2="550.00" stroke="#000" stroke-width="1.15"/>
<line x1="745.95" y1="695.67" x2="751.65" y2="695.67" stroke="#000" stroke-width="1.15"/>
<line x1="745.95" y1="685.57" x2="751.65" y2="685.57" stroke="#000" stroke-width="1.15"/>
<line x1="745.95" y1="677.32" x2="751.65" y2="677.32" stroke="#000" stroke-width="1.15"/>
<line x1="745.95" y1="670.34" x2="751.65" y2="670.34" stroke="#000" stroke-width="1.15"/>
<line x1="745.95" y1="664.30" x2="751.65" y2="664.30" stroke="#000" stroke-width="1.15"/>
<line x1="745.95" y1="658.97" x2="751.65" y2="658.97" stroke="#000" stroke-width="1.15"/>
<line x1="745.95" y1="622.83" x2="751.65" y2="622.83" stroke="#000" stroke-width="1.15"/>
<line x1="745.95" y1="604.48" x2="751.65" y2="604.48" stroke="#000" stroke-width="1.15"/>
<line x1="745.95" y1="591.47" x2="751.65" y2="591.47" stroke="#000" stroke-width="1.15"/>
<line x1="745.95" y1="581.37" x2="751.65" y2="581.37" stroke="#000" stroke-width="1.15"/>
<line x1="745.95" y1="573.12" x2="751.65" y2="573.12" stroke="#000" stroke-width="1.15"/>
<line x1="745.95" y1="566.14" x2="751.65" y2="566.14" stroke="#000" stroke-width="1.15"/>
<line x1="745.95" y1="560.10" x2="751.65" y2="560.10" stroke="#000" stroke-width="1.15"/>
<line x1="745.95" y1="554.77" x2="751.65" y2="554.77" stroke="#000" stroke-width="1.15"/>
</g>
<path d="M112.5 149.3h5.6l-2.8-5.1zM133.7 135.6h5.6l-2.8-5.1zM124.6 146.4h5.6l-2.8-5.1zM101.9 161.7h5.6l-2.8-5.1zM101.2 160.8h5.6l-2.8-5.1zM102.3 154.3h5.6l-2.8-5.1zM117.7 158.5h5.6l-2.8-5.1zM104.2 155.5h5.6l-2.8-5.1zM131.6 153.6h5.6l-2.8-5.1zM127.5 145.3h5.6l-2.8-5.1zM101.5 168.0h5.6l-2.8-5.1zM110.9 150.1h5.6l-2.8-5.1zM104.0 157.1h5.6l-2.8-5.1zM106.4 160.4h5.6l-2.8-5.1zM132.6 142.0h5.6l-2.8-5.1zM125.4 140.3h5.6l-2.8-5.1zM102.0 156.5h5.6l-2.8-5.1zM136.5 141.0h5.6l-2.8-5.1zM112.1 157.2h5.6l-2.8-5.1zM119.3 148.1h5.6l-2.8-5.1zM138.4 136.5h5.6l-2.8-5.1zM127.3 147.8h5.6l-2.8-5.1zM141.8 135.7h5.6l-2.8-5.1zM104.0 158.9h5.6l-2.8-5.1zM145.3 131.3h5.6l-2.8-5.1zM121.5 142.1h5.6l-2.8-5.1zM135.3 148.2h5.6l-2.8-5.1zM127.2 154.5h5.6l-2.8-5.1zM112.0 159.1h5.6l-2.8-5.1zM128.9 148.0h5.6l-2.8-5.1zM119.5 157.8h5.6l-2.8-5.1zM120.6 154.0h5.6l-2.8-5.1zM102.0 165.0h5.6l-2.8-5.1zM133.3 153.6h5.6l-2.8-5.1zM110.7 154.5h5.6l-2.8-5.1zM135.3 133.7h5.6l-2.8-5.1zM119.8 145.4h5.6l-2.8-5.1zM104.0 152.8h5.6l-2.8-5.1zM146.8 130.1h5.6l-2.8-5.1zM109.1 155.5h5.6l-2.8-5.1zM102.7 160.3h5.6l-2.8-5.1zM125.5 155.5h5.6l-2.8-5.1zM110.4 155.2h5.6l-2.8-5.1zM114.2 161.3h5.6l-2.8-5.1zM105.2 154.0h5.6l-2.8-5.1zM108.4 153.2h5.6l-2.8-5.1zM121.2 152.3h5.6l-2.8-5.1zM109.8 148.4h5.6l-2.8-5.1zM117.4 150.4h5.6l-2.8-5.1zM126.7 156.2h5.6l-2.8-5.1zM137.5 142.2h5.6l-2.8-5.1zM130.8 148.9h5.6l-2.8-5.1zM101.8 168.6h5.6l-2.8-5.1zM115.9 151.8h5.6l-2.8-5.1zM103.5 163.0h5.6l-2.8-5.1zM102.1 154.0h5.6l-2.8-5.1zM107.5 152.5h5.6l-2.8-5.1zM113.3 147.2h5.6l-2.8-5.1zM100.0 156.4h5.6l-2.8-5.1zM103.4 158.4h5.6l-2.8-5.1zM100.8 168.5h5.6l-2.8-5.1zM130.5 138.9h5.6l-2.8-5.1zM109.3 154.6h5.6l-2.8-5.1zM114.5 147.7h5.6l-2.8-5.1zM120.1 151.0h5.6l-2.8-5.1zM102.9 154.2h5.6l-2.8-5.1zM113.4 150.8h5.6l-2.8-5.1zM105.6 151.2h5.6l-2.8-5.1zM124.0 142.6h5.6l-2.8-5.1zM125.1 139.8h5.6l-2.8-5.1zM124.0 158.0h5.6l-2.8-5.1zM138.1 137.0h5.6l-2.8-5.1zM114.6 148.4h5.6l-2.8-5.1zM124.3 154.2h5.6l-2.8-5.1zM112.8 150.4h5.6l-2.8-5.1zM143.1 133.9h5.6l-2.8-5.1zM123.3 146.9h5.6l-2.8-5.1zM100.9 154.0h5.6l-2.8-5.1zM110.5 152.4h5.6l-2.8-5.1zM137.7 150.7h5.6l-2.8-5.1zM119.0 159.8h5.6l-2.8-5.1zM114.5 149.4h5.6l-2.8-5.1zM108.2 152.6h5.6l-2.8-5.1zM107.3 160.6h5.6l-2.8-5.1zM120.9 153.7h5.6l-2.8-5.1zM102.8 163.8h5.6l-2.8-5.1zM144.4 138.2h5.6l-2.8-5.1zM106.3 164.1h5.6l-2.8-5.1zM112.9 160.5h5.6l-2.8-5.1zM116.1 151.7h5.6l-2.8-5.1zM141.3 133.6h5.6l-2.8-5.1zM104.3 154.1h5.6l-2.8-5.1zM105.1 165.4h5.6l-2.8-5.1zM134.3 140.7h5.6l-2.8-5.1zM125.5 141.5h5.6l-2.8-5.1zM100.5 169.7h5.6l-2.8-5.1zM133.6 144.5h5.6l-2.8-5.1zM118.2 159.0h5.6l-2.8-5.1zM107.6 154.0h5.6l-2.8-5.1zM111.1 151.7h5.6l-2.8-5.1zM128.3 142.3h5.6l-2.8-5.1zM117.4 146.2h5.6l-2.8-5.1zM114.0 153.9h5.6l-2.8-5.1zM128.0 154.6h5.6l-2.8-5.1zM117.5 160.2h5.6l-2.8-5.1zM122.3 150.7h5.6l-2.8-5.1zM123.7 140.4h5.6l-2.8-5.1zM118.6 146.4h5.6l-2.8-5.1zM100.1 166.5h5.6l-2.8-5.1zM106.1 158.7h5.6l-2.8-5.1zM141.3 141.2h5.6l-2.8-5.1zM112.6 155.7h5.6l-2.8-5.1zM125.9 153.4h5.6l-2.8-5.1zM103.6 161.7h5.6l-2.8-5.1zM109.1 153.5h5.6l-2.8-5.1zM122.7 151.0h5.6l-2.8-5.1zM145.7 146.3h5.6l-2.8-5.1zM118.7 154.1h5.6l-2.8-5.1zM122.5 150.2h5.6l-2.8-5.1zM137.8 140.9h5.6l-2.8-5.1zM124.4 148.6h5.6l-2.8-5.1zM138.4 148.8h5.6l-2.8-5.1zM109.6 158.1h5.6l-2.8-5.1zM104.7 153.4h5.6l-2.8-5.1zM118.7 144.4h5.6l-2.8-5.1zM108.8 150.2h5.6l-2.8-5.1zM135.4 148.5h5.6l-2.8-5.1zM105.4 163.3h5.6l-2.8-5.1zM134.5 136.5h5.6l-2.8-5.1zM107.9 166.0h5.6l-2.8-5.1zM116.3 153.2h5.6l-2.8-5.1zM105.6 158.2h5.6l-2.8-5.1zM123.2 146.6h5.6l-2.8-5.1zM107.0 155.5h5.6l-2.8-5.1zM141.0 130.8h5.6l-2.8-5.1zM125.8 147.1h5.6l-2.8-5.1zM100.6 159.2h5.6l-2.8-5.1zM131.3 145.4h5.6l-2.8-5.1zM102.1 169.8h5.6l-2.8-5.1zM103.5 156.6h5.6l-2.8-5.1zM101.3 166.8h5.6l-2.8-5.1zM110.1 150.4h5.6l-2.8-5.1zM117.6 160.1h5.6l-2.8-5.1zM109.6 151.0h5.6l-2.8-5.1zM127.1 151.3h5.6l-2.8-5.1zM103.0 153.3h5.6l-2.8-5.1zM137.3 140.6h5.6l-2.8-5.1zM102.4 168.9h5.6l-2.8-5.1zM132.2 150.5h5.6l-2.8-5.1zM102.8 167.2h5.6l-2.8-5.1zM102.2 167.7h5.6l-2.8-5.1zM119.4 148.8h5.6l-2.8-5.1zM125.8 156.2h5.6l-2.8-5.1zM110.0 150.4h5.6l-2.8-5.1zM124.0 144.4h5.6l-2.8-5.1zM103.7 154.7h5.6l-2.8-5.1zM101.7 156.6h5.6l-2.8-5.1zM112.0 152.3h5.6l-2.8-5.1zM145.6 133.9h5.6l-2.8-5.1zM122.2 144.2h5.6l-2.8-5.1zM113.6 146.3h5.6l-2.8-5.1zM109.2 148.9h5.6l-2.8-5.1zM142.3 140.7h5.6l-2.8-5.1zM106.7 158.4h5.6l-2.8-5.1zM103.6 166.1h5.6l-2.8-5.1zM118.1 152.3h5.6l-2.8-5.1zM116.0 153.7h5.6l-2.8-5.1zM137.2 151.4h5.6l-2.8-5.1zM113.4 160.8h5.6l-2.8-5.1zM139.3 143.7h5.6l-2.8-5.1zM116.6 150.5h5.6l-2.8-5.1zM101.8 155.3h5.6l-2.8-5.1zM102.3 165.5h5.6l-2.8-5.1zM109.4 151.3h5.6l-2.8-5.1zM102.8 167.0h5.6l-2.8-5.1zM135.5 138.7h5.6l-2.8-5.1zM108.9 153.9h5.6l-2.8-5.1zM119.7 145.3h5.6l-2.8-5.1zM118.9 147.7h5.6l-2.8-5.1zM125.3 143.7h5.6l-2.8-5.1zM111.9 153.3h5.6l-2.8-5.1zM100.0 160.0h5.6l-2.8-5.1zM120.6 151.1h5.6l-2.8-5.1zM107.2 158.6h5.6l-2.8-5.1zM100.2 158.2h5.6l-2.8-5.1zM103.0 159.2h5.6l-2.8-5.1zM101.4 153.7h5.6l-2.8-5.1zM111.6 151.3h5.6l-2.8-5.1zM128.2 147.4h5.6l-2.8-5.1zM144.4 141.8h5.6l-2.8-5.1zM140.3 148.0h5.6l-2.8-5.1zM115.8 150.6h5.6l-2.8-5.1zM105.2 163.6h5.6l-2.8-5.1zM133.0 135.4h5.6l-2.8-5.1zM131.6 149.5h5.6l-2.8-5.1zM104.8 160.3h5.6l-2.8-5.1zM122.5 156.2h5.6l-2.8-5.1zM128.1 154.4h5.6l-2.8-5.1zM136.8 146.1h5.6l-2.8-5.1zM108.4 149.7h5.6l-2.8-5.1zM104.6 157.6h5.6l-2.8-5.1zM103.5 166.4h5.6l-2.8-5.1zM126.2 150.4h5.6l-2.8-5.1zM131.5 148.5h5.6l-2.8-5.1zM121.5 141.4h5.6l-2.8-5.1zM144.1 138.8h5.6l-2.8-5.1zM124.5 151.9h5.6l-2.8-5.1zM102.2 165.5h5.6l-2.8-5.1zM109.3 149.9h5.6l-2.8-5.1zM109.9 161.0h5.6l-2.8-5.1zM107.3 162.6h5.6l-2.8-5.1zM121.8 148.2h5.6l-2.8-5.1zM120.9 154.2h5.6l-2.8-5.1zM146.6 140.0h5.6l-2.8-5.1zM132.9 136.1h5.6l-2.8-5.1zM105.1 155.5h5.6l-2.8-5.1zM143.5 135.2h5.6l-2.8-5.1zM126.8 138.5h5.6l-2.8-5.1zM102.0 157.5h5.6l-2.8-5.1zM135.7 146.6h5.6l-2.8-5.1zM136.0 138.6h5.6l-2.8-5.1zM123.3 148.9h5.6l-2.8-5.1zM120.1 144.4h5.6l-2.8-5.1zM107.1 166.9h5.6l-2.8-5.1zM100.6 161.4h5.6l-2.8-5.1zM119.1 147.7h5.6l-2.8-5.1zM107.5 166.1h5.6l-2.8-5.1zM107.6 159.7h5.6l-2.8-5.1zM104.9 160.3h5.6l-2.8-5.1zM104.6 165.6h5.6l-2.8-5.1zM122.7 157.0h5.6l-2.8-5.1zM138.9 136.0h5.6l-2.8-5.1zM121.3 142.0h5.6l-2.8-5.1zM100.1 161.7h5.6l-2.8-5.1zM119.2 148.2h5.6l-2.8-5.1zM104.9 157.2h5.6l-2.8-5.1zM112.2 161.6h5.6l-2.8-5.1zM100.1 165.7h5.6l-2.8-5.1zM104.1 167.7h5.6l-2.8-5.1zM139.9 148.6h5.6l-2.8-5.1zM111.0 154.1h5.6l-2.8-5.1zM116.0 162.4h5.6l-2.8-5.1zM128.5 144.1h5.6l-2.8-5.1zM117.9 148.5h5.6l-2.8-5.1zM101.6 154.9h5.6l-2.8-5.1zM110.8 164.0h5.6l-2.8-5.1zM109.2 153.3h5.6l-2.8-5.1zM122.9 144.1h5.6l-2.8-5.1zM115.0 162.2h5.6l-2.8-5.1zM131.9 152.8h5.6l-2.8-5.1zM125.5 152.5h5.6l-2.8-5.1zM101.6 165.8h5.6l-2.8-5.1zM119.2 156.4h5.6l-2.8-5.1zM133.1 140.1h5.6l-2.8-5.1zM101.6 169.1h5.6l-2.8-5.1zM104.4 159.7h5.6l-2.8-5.1zM113.5 151.4h5.6l-2.8-5.1zM143.0 148.7h5.6l-2.8-5.1zM109.6 159.8h5.6l-2.8-5.1zM111.5 157.0h5.6l-2.8-5.1zM116.0 147.6h5.6l-2.8-5.1zM105.6 154.4h5.6l-2.8-5.1zM122.0 145.1h5.6l-2.8-5.1zM119.1 145.3h5.6l-2.8-5.1zM106.8 151.6h5.6l-2.8-5.1zM113.4 147.8h5.6l-2.8-5.1zM108.7 153.4h5.6l-2.8-5.1zM127.0 154.8h5.6l-2.8-5.1zM144.3 137.0h5.6l-2.8-5.1zM117.1 153.4h5.6l-2.8-5.1zM115.1 151.1h5.6l-2.8-5.1zM102.1 157.7h5.6l-2.8-5.1zM104.3 160.3h5.6l-2.8-5.1zM131.8 151.9h5.6l-2.8-5.1zM107.8 154.2h5.6l-2.8-5.1zM109.1 155.6h5.6l-2.8-5.1zM118.9 160.2h5.6l-2.8-5.1zM100.7 154.2h5.6l-2.8-5.1zM139.6 148.6h5.6l-2.8-5.1zM120.5 152.7h5.6l-2.8-5.1zM100.0 160.1h5.6l-2.8-5.1zM109.1 150.6h5.6l-2.8-5.1zM105.4 160.0h5.6l-2.8-5.1zM136.7 150.9h5.6l-2.8-5.1zM140.9 143.2h5.6l-2.8-5.1zM146.3 136.9h5.6l-2.8-5.1zM125.7 139.7h5.6l-2.8-5.1zM108.5 165.1h5.6l-2.8-5.1zM133.2 140.4h5.6l-2.8-5.1zM104.4 155.9h5.6l-2.8-5.1zM132.4 148.4h5.6l-2.8-5.1zM103.8 153.1h5.6l-2.8-5.1zM123.8 150.8h5.6l-2.8-5.1zM115.7 148.8h5.6l-2.8-5.1zM129.4 136.9h5.6l-2.8-5.1zM111.5 155.3h5.6l-2.8-5.1zM133.1 151.6h5.6l-2.8-5.1zM120.6 146.2h5.6l-2.8-5.1zM109.1 165.4h5.6l-2.8-5.1zM139.0 137.4h5.6l-2.8-5.1zM100.7 162.1h5.6l-2.8-5.1zM135.9 141.2h5.6l-2.8-5.1zM109.5 160.1h5.6l-2.8-5.1zM108.2 149.8h5.6l-2.8-5.1zM113.2 153.7h5.6l-2.8-5.1zM136.7 136.4h5.6l-2.8-5.1zM143.0 139.4h5.6l-2.8-5.1zM107.4 166.6h5.6l-2.8-5.1zM112.0 161.3h5.6l-2.8-5.1zM108.4 153.0h5.6l-2.8-5.1zM145.7 133.9h5.6l-2.8-5.1zM121.9 144.6h5.6l-2.8-5.1zM108.1 156.6h5.6l-2.8-5.1zM135.0 151.9h5.6l-2.8-5.1zM105.1 157.9h5.6l-2.8-5.1zM107.7 166.5h5.6l-2.8-5.1zM104.9 152.1h5.6l-2.8-5.1zM102.0 159.7h5.6l-2.8-5.1zM142.2 149.5h5.6l-2.8-5.1zM112.8 149.8h5.6l-2.8-5.1zM143.9 129.6h5.6l-2.8-5.1zM134.9 140.8h5.6l-2.8-5.1zM115.0 151.1h5.6l-2.8-5.1zM105.9 150.6h5.6l-2.8-5.1zM110.5 154.0h5.6l-2.8-5.1zM104.2 168.3h5.6l-2.8-5.1zM107.4 155.9h5.6l-2.8-5.1zM118.1 144.3h5.6l-2.8-5.1zM120.5 148.8h5.6l-2.8-5.1zM106.9 156.4h5.6l-2.8-5.1zM144.6 136.7h5.6l-2.8-5.1zM145.1 128.6h5.6l-2.8-5.1zM146.1 146.7h5.6l-2.8-5.1zM156.6 138.4h5.6l-2.8-5.1zM161.8 125.6h5.6l-2.8-5.1zM186.4 117.3h5.6l-2.8-5.1zM160.3 126.3h5.6l-2.8-5.1zM143.4 144.5h5.6l-2.8-5.1zM188.4 128.2h5.6l-2.8-5.1zM144.3 133.1h5.6l-2.8-5.1zM172.2 136.3h5.6l-2.8-5.1zM165.2 125.0h5.6l-2.8-5.1zM168.5 129.4h5.6l-2.8-5.1zM152.3 141.5h5.6l-2.8-5.1zM185.3 118.7h5.6l-2.8-5.1zM160.5 128.1h5.6l-2.8-5.1zM146.9 131.1h5.6l-2.8-5.1zM156.0 123.8h5.6l-2.8-5.1zM144.8 139.6h5.6l-2.8-5.1zM160.9 141.6h5.6l-2.8-5.1zM157.0 123.7h5.6l-2.8-5.1zM147.8 137.1h5.6l-2.8-5.1zM169.9 124.4h5.6l-2.8-5.1zM167.5 132.0h5.6l-2.8-5.1zM193.7 122.9h5.6l-2.8-5.1zM192.3 114.0h5.6l-2.8-5.1zM158.9 133.4h5.6l-2.8-5.1zM164.2 135.2h5.6l-2.8-5.1zM153.2 129.1h5.6l-2.8-5.1zM155.9 125.8h5.6l-2.8-5.1zM182.1 119.4h5.6l-2.8-5.1zM165.9 139.7h5.6l-2.8-5.1zM175.1 121.3h5.6l-2.8-5.1zM190.9 127.8h5.6l-2.8-5.1zM148.1 136.4h5.6l-2.8-5.1zM145.1 134.0h5.6l-2.8-5.1zM148.9 130.0h5.6l-2.8-5.1zM182.6 130.7h5.6l-2.8-5.1zM164.2 137.9h5.6l-2.8-5.1zM170.0 124.8h5.6l-2.8-5.1zM148.2 138.9h5.6l-2.8-5.1zM186.7 116.5h5.6l-2.8-5.1zM163.9 122.8h5.6l-2.8-5.1zM153.5 129.2h5.6l-2.8-5.1zM184.4 124.8h5.6l-2.8-5.1zM153.4 123.9h5.6l-2.8-5.1zM161.0 134.9h5.6l-2.8-5.1zM152.4 130.9h5.6l-2.8-5.1zM153.4 140.9h5.6l-2.8-5.1zM178.9 115.7h5.6l-2.8-5.1zM148.0 134.8h5.6l-2.8-5.1zM179.1 126.7h5.6l-2.8-5.1zM147.5 130.1h5.6l-2.8-5.1zM196.7 117.2h5.6l-2.8-5.1zM158.2 128.1h5.6l-2.8-5.1zM160.1 132.9h5.6l-2.8-5.1zM163.1 128.7h5.6l-2.8-5.1zM163.5 124.0h5.6l-2.8-5.1zM153.4 123.8h5.6l-2.8-5.1zM168.0 135.6h5.6l-2.8-5.1zM166.7 137.3h5.6l-2.8-5.1zM171.0 122.4h5.6l-2.8-5.1zM143.9 140.0h5.6l-2.8-5.1zM189.3 127.3h5.6l-2.8-5.1zM147.4 139.9h5.6l-2.8-5.1zM164.1 130.4h5.6l-2.8-5.1zM150.3 131.3h5.6l-2.8-5.1zM176.3 133.8h5.6l-2.8-5.1zM148.4 136.6h5.6l-2.8-5.1zM153.1 126.6h5.6l-2.8-5.1zM172.9 119.3h5.6l-2.8-5.1zM165.3 138.2h5.6l-2.8-5.1zM186.8 126.9h5.6l-2.8-5.1zM151.1 141.7h5.6l-2.8-5.1zM154.5 131.9h5.6l-2.8-5.1zM152.3 129.0h5.6l-2.8-5.1zM166.2 130.3h5.6l-2.8-5.1zM165.0 122.4h5.6l-2.8-5.1zM156.0 138.2h5.6l-2.8-5.1zM145.1 139.7h5.6l-2.8-5.1zM144.9 145.5h5.6l-2.8-5.1zM148.8 138.7h5.6l-2.8-5.1zM179.1 126.5h5.6l-2.8-5.1zM159.7 129.8h5.6l-2.8-5.1zM182.5 121.2h5.6l-2.8-5.1zM191.6 119.1h5.6l-2.8-5.1zM169.2 120.8h5.6l-2.8-5.1zM186.6 121.2h5.6l-2.8-5.1zM155.3 139.4h5.6l-2.8-5.1zM170.8 122.9h5.6l-2.8-5.1zM172.0 120.8h5.6l-2.8-5.1zM149.4 134.9h5.6l-2.8-5.1zM147.5 136.0h5.6l-2.8-5.1zM175.3 117.5h5.6l-2.8-5.1zM188.7 113.9h5.6l-2.8-5.1zM175.4 117.7h5.6l-2.8-5.1zM174.7 124.2h5.6l-2.8-5.1zM149.8 143.8h5.6l-2.8-5.1zM152.9 145.1h5.6l-2.8-5.1zM173.7 135.6h5.6l-2.8-5.1zM151.3 141.7h5.6l-2.8-5.1zM146.2 134.7h5.6l-2.8-5.1zM151.0 144.1h5.6l-2.8-5.1zM157.7 139.4h5.6l-2.8-5.1zM150.2 136.1h5.6l-2.8-5.1zM153.7 129.2h5.6l-2.8-5.1zM174.9 123.0h5.6l-2.8-5.1zM144.9 131.8h5.6l-2.8-5.1zM151.1 144.9h5.6l-2.8-5.1zM194.4 124.7h5.6l-2.8-5.1zM151.5 141.5h5.6l-2.8-5.1zM148.7 137.3h5.6l-2.8-5.1zM188.7 118.5h5.6l-2.8-5.1zM179.7 125.3h5.6l-2.8-5.1zM148.2 147.4h5.6l-2.8-5.1zM187.9 119.2h5.6l-2.8-5.1zM157.0 143.5h5.6l-2.8-5.1zM182.0 120.1h5.6l-2.8-5.1zM169.5 123.5h5.6l-2.8-5.1zM145.4 144.9h5.6l-2.8-5.1zM156.4 136.2h5.6l-2.8-5.1zM182.9 125.6h5.6l-2.8-5.1zM160.1 120.4h5.6l-2.8-5.1zM144.7 131.2h5.6l-2.8-5.1zM186.3 120.3h5.6l-2.8-5.1zM175.5 133.6h5.6l-2.8-5.1zM149.6 130.5h5.6l-2.8-5.1zM190.8 112.7h5.6l-2.8-5.1zM143.3 136.1h5.6l-2.8-5.1zM148.3 133.9h5.6l-2.8-5.1zM154.6 135.8h5.6l-2.8-5.1zM183.2 116.9h5.6l-2.8-5.1zM187.2 120.8h5.6l-2.8-5.1zM149.7 145.5h5.6l-2.8-5.1zM155.8 125.8h5.6l-2.8-5.1zM147.7 140.1h5.6l-2.8-5.1zM166.3 125.3h5.6l-2.8-5.1zM143.7 142.0h5.6l-2.8-5.1zM180.4 120.4h5.6l-2.8-5.1zM189.9 119.5h5.6l-2.8-5.1zM156.1 142.1h5.6l-2.8-5.1zM145.2 138.9h5.6l-2.8-5.1zM166.6 124.7h5.6l-2.8-5.1zM145.9 143.8h5.6l-2.8-5.1zM143.8 140.0h5.6l-2.8-5.1zM150.1 129.6h5.6l-2.8-5.1zM185.4 121.9h5.6l-2.8-5.1zM189.4 125.6h5.6l-2.8-5.1zM151.8 131.1h5.6l-2.8-5.1zM159.3 121.8h5.6l-2.8-5.1zM143.5 146.3h5.6l-2.8-5.1zM171.4 132.7h5.6l-2.8-5.1zM170.3 124.0h5.6l-2.8-5.1zM148.2 131.2h5.6l-2.8-5.1zM145.0 134.9h5.6l-2.8-5.1zM196.7 123.0h5.6l-2.8-5.1zM157.1 134.0h5.6l-2.8-5.1zM169.0 134.7h5.6l-2.8-5.1zM176.5 121.0h5.6l-2.8-5.1zM189.4 128.1h5.6l-2.8-5.1zM154.2 142.4h5.6l-2.8-5.1zM143.9 133.9h5.6l-2.8-5.1zM155.3 138.9h5.6l-2.8-5.1zM161.0 139.4h5.6l-2.8-5.1zM161.1 125.1h5.6l-2.8-5.1zM188.0 124.2h5.6l-2.8-5.1zM192.4 126.8h5.6l-2.8-5.1zM171.7 134.3h5.6l-2.8-5.1zM197.0 123.0h5.6l-2.8-5.1zM169.1 133.5h5.6l-2.8-5.1zM210.0 115.7h5.6l-2.8-5.1zM200.7 121.0h5.6l-2.8-5.1zM197.2 125.6h5.6l-2.8-5.1zM199.0 113.1h5.6l-2.8-5.1zM198.0 125.7h5.6l-2.8-5.1zM204.2 114.3h5.6l-2.8-5.1zM195.9 113.6h5.6l-2.8-5.1zM213.2 118.7h5.6l-2.8-5.1zM213.3 119.7h5.6l-2.8-5.1zM196.9 121.2h5.6l-2.8-5.1zM204.6 122.7h5.6l-2.8-5.1zM216.5 120.3h5.6l-2.8-5.1zM196.9 125.1h5.6l-2.8-5.1zM219.0 120.0h5.6l-2.8-5.1zM198.0 115.7h5.6l-2.8-5.1zM198.1 113.3h5.6l-2.8-5.1zM217.2 119.3h5.6l-2.8-5.1zM211.7 121.2h5.6l-2.8-5.1zM211.6 115.2h5.6l-2.8-5.1zM197.8 114.2h5.6l-2.8-5.1zM214.9 113.9h5.6l-2.8-5.1zM203.5 117.9h5.6l-2.8-5.1zM195.7 116.6h5.6l-2.8-5.1zM202.5 121.8h5.6l-2.8-5.1zM204.8 116.4h5.6l-2.8-5.1zM220.3 115.7h5.6l-2.8-5.1zM217.3 117.5h5.6l-2.8-5.1zM196.0 118.8h5.6l-2.8-5.1zM206.5 121.8h5.6l-2.8-5.1zM204.2 121.4h5.6l-2.8-5.1zM209.2 114.7h5.6l-2.8-5.1zM217.6 112.5h5.6l-2.8-5.1zM216.5 113.3h5.6l-2.8-5.1zM195.2 115.9h5.6l-2.8-5.1zM215.0 121.7h5.6l-2.8-5.1zM195.3 120.0h5.6l-2.8-5.1zM208.0 121.8h5.6l-2.8-5.1zM200.0 119.4h5.6l-2.8-5.1zM204.2 123.0h5.6l-2.8-5.1zM202.0 124.9h5.6l-2.8-5.1zM102.5 181.1h5.6l-2.8-5.1zM106.2 182.7h5.6l-2.8-5.1zM112.6 178.3h5.6l-2.8-5.1zM160.6 119.3h5.6l-2.8-5.1zM169.0 117.6h5.6l-2.8-5.1zM180.7 112.6h5.6l-2.8-5.1zM187.4 113.6h5.6l-2.8-5.1zM197.5 110.9h5.6l-2.8-5.1zM173.2 121.3h5.6l-2.8-5.1zM155.2 123.3h5.6l-2.8-5.1zM207.7 101.4h5.6l-2.8-5.1zM197.2 110.7h5.6l-2.8-5.1zM202.8 111.9h5.6l-2.8-5.1zM210.8 110.0h5.6l-2.8-5.1zM217.7 106.6h5.6l-2.8-5.1zM219.6 111.3h5.6l-2.8-5.1zM227.6 107.6h5.6l-2.8-5.1zM226.2 112.6h5.6l-2.8-5.1zM236.3 106.1h5.6l-2.8-5.1zM239.7 107.6h5.6l-2.8-5.1zM234.1 112.2h5.6l-2.8-5.1zM237.8 111.3h5.6l-2.8-5.1zM241.5 110.4h5.6l-2.8-5.1zM247.5 102.5h5.6l-2.8-5.1zM250.8 101.4h5.6l-2.8-5.1zM248.1 105.7h5.6l-2.8-5.1zM255.5 105.7h5.6l-2.8-5.1zM261.5 92.1h5.6l-2.8-5.1zM263.9 95.5h5.6l-2.8-5.1zM262.0 99.8h5.6l-2.8-5.1zM266.7 99.2h5.6l-2.8-5.1zM268.2 101.1h5.6l-2.8-5.1zM272.3 89.0h5.6l-2.8-5.1zM275.1 92.7h5.6l-2.8-5.1zM276.5 96.8h5.6l-2.8-5.1zM279.7 87.6h5.6l-2.8-5.1zM283.4 85.8h5.6l-2.8-5.1zM289.9 83.4h5.6l-2.8-5.1zM295.0 86.2h5.6l-2.8-5.1zM293.7 90.4h5.6l-2.8-5.1zM289.4 92.3h5.6l-2.8-5.1zM291.8 91.4h5.6l-2.8-5.1zM300.7 82.8h5.6l-2.8-5.1zM303.9 86.7h5.6l-2.8-5.1zM322.8 79.8h5.6l-2.8-5.1zM328.9 78.5h5.6l-2.8-5.1zM338.7 74.0h5.6l-2.8-5.1zM351.8 69.5h5.6l-2.8-5.1zM358.1 67.1h5.6l-2.8-5.1zM366.8 64.8h5.6l-2.8-5.1z" fill="#0000ff"/>
<path d="M454.1 142.8h5.6l-2.8-5.1zM482.6 129.4h5.6l-2.8-5.1zM434.1 163.7h5.6l-2.8-5.1zM462.6 141.5h5.6l-2.8-5.1zM467.5 147.5h5.6l-2.8-5.1zM434.6 165.7h5.6l-2.8-5.1zM429.4 153.1h5.6l-2.8-5.1zM451.8 157.9h5.6l-2.8-5.1zM483.0 133.9h5.6l-2.8-5.1zM448.7 150.6h5.6l-2.8-5.1zM488.1 139.4h5.6l-2.8-5.1zM461.7 140.6h5.6l-2.8-5.1zM440.9 162.2h5.6l-2.8-5.1zM442.3 152.7h5.6l-2.8-5.1zM496.6 126.0h5.6l-2.8-5.1zM477.0 144.4h5.6l-2.8-5.1zM449.1 144.5h5.6l-2.8-5.1zM456.1 151.2h5.6l-2.8-5.1zM440.8 146.9h5.6l-2.8-5.1zM450.2 146.9h5.6l-2.8-5.1zM486.5 130.0h5.6l-2.8-5.1zM459.2 139.6h5.6l-2.8-5.1zM436.0 166.8h5.6l-2.8-5.1zM436.0 153.8h5.6l-2.8-5.1zM473.1 132.3h5.6l-2.8-5.1zM436.4 149.6h5.6l-2.8-5.1zM466.7 132.3h5.6l-2.8-5.1zM468.1 145.5h5.6l-2.8-5.1zM482.9 138.2h5.6l-2.8-5.1zM477.2 130.5h5.6l-2.8-5.1zM501.4 126.4h5.6l-2.8-5.1zM472.4 139.9h5.6l-2.8-5.1zM471.1 133.8h5.6l-2.8-5.1zM475.8 133.9h5.6l-2.8-5.1zM435.6 154.8h5.6l-2.8-5.1zM450.4 148.8h5.6l-2.8-5.1zM476.0 139.8h5.6l-2.8-5.1zM469.5 142.9h5.6l-2.8-5.1zM443.6 157.0h5.6l-2.8-5.1zM466.8 140.5h5.6l-2.8-5.1zM430.5 159.9h5.6l-2.8-5.1zM441.4 160.6h5.6l-2.8-5.1zM486.0 129.0h5.6l-2.8-5.1zM495.8 132.0h5.6l-2.8-5.1zM484.8 138.0h5.6l-2.8-5.1zM486.4 134.0h5.6l-2.8-5.1zM446.3 156.6h5.6l-2.8-5.1zM467.3 145.3h5.6l-2.8-5.1zM437.8 166.6h5.6l-2.8-5.1zM462.5 135.2h5.6l-2.8-5.1zM453.1 147.0h5.6l-2.8-5.1zM428.5 158.2h5.6l-2.8-5.1zM471.1 142.7h5.6l-2.8-5.1zM462.1 139.2h5.6l-2.8-5.1zM447.7 157.3h5.6l-2.8-5.1zM487.3 130.8h5.6l-2.8-5.1zM467.2 135.3h5.6l-2.8-5.1zM438.5 161.7h5.6l-2.8-5.1zM478.1 138.1h5.6l-2.8-5.1zM447.9 162.1h5.6l-2.8-5.1zM462.2 146.0h5.6l-2.8-5.1zM477.9 133.3h5.6l-2.8-5.1zM491.0 128.4h5.6l-2.8-5.1zM462.4 149.8h5.6l-2.8-5.1zM452.3 146.9h5.6l-2.8-5.1zM450.8 148.7h5.6l-2.8-5.1zM443.9 142.4h5.6l-2.8-5.1zM453.8 143.5h5.6l-2.8-5.1zM456.1 146.9h5.6l-2.8-5.1zM472.2 141.2h5.6l-2.8-5.1zM463.4 150.6h5.6l-2.8-5.1zM432.1 165.4h5.6l-2.8-5.1zM439.5 162.5h5.6l-2.8-5.1zM428.6 149.4h5.6l-2.8-5.1zM450.4 142.0h5.6l-2.8-5.1zM439.7 149.0h5.6l-2.8-5.1zM461.4 137.6h5.6l-2.8-5.1zM442.1 162.8h5.6l-2.8-5.1zM445.0 157.3h5.6l-2.8-5.1zM487.9 139.2h5.6l-2.8-5.1zM473.6 145.4h5.6l-2.8-5.1zM492.2 130.3h5.6l-2.8-5.1zM448.7 143.5h5.6l-2.8-5.1zM481.8 128.6h5.6l-2.8-5.1zM477.8 130.5h5.6l-2.8-5.1zM481.5 136.2h5.6l-2.8-5.1zM489.4 140.9h5.6l-2.8-5.1zM427.9 167.5h5.6l-2.8-5.1zM477.9 138.2h5.6l-2.8-5.1zM465.0 140.3h5.6l-2.8-5.1zM433.7 160.5h5.6l-2.8-5.1zM429.7 161.7h5.6l-2.8-5.1zM459.5 154.2h5.6l-2.8-5.1zM484.6 135.5h5.6l-2.8-5.1zM430.2 163.9h5.6l-2.8-5.1zM460.5 151.3h5.6l-2.8-5.1zM463.9 142.0h5.6l-2.8-5.1zM487.0 139.8h5.6l-2.8-5.1zM446.3 151.0h5.6l-2.8-5.1zM471.3 139.9h5.6l-2.8-5.1zM455.1 154.2h5.6l-2.8-5.1zM468.8 140.0h5.6l-2.8-5.1zM452.8 149.3h5.6l-2.8-5.1zM459.5 141.8h5.6l-2.8-5.1zM455.8 149.1h5.6l-2.8-5.1zM430.7 163.8h5.6l-2.8-5.1zM490.5 127.4h5.6l-2.8-5.1zM456.0 137.9h5.6l-2.8-5.1zM444.3 162.6h5.6l-2.8-5.1zM500.0 130.0h5.6l-2.8-5.1zM446.5 156.1h5.6l-2.8-5.1zM476.4 142.3h5.6l-2.8-5.1zM435.9 149.3h5.6l-2.8-5.1zM430.4 165.0h5.6l-2.8-5.1zM464.2 148.1h5.6l-2.8-5.1zM493.5 129.5h5.6l-2.8-5.1zM456.2 145.8h5.6l-2.8-5.1zM458.1 144.8h5.6l-2.8-5.1zM431.9 159.8h5.6l-2.8-5.1zM430.6 150.6h5.6l-2.8-5.1zM495.9 136.9h5.6l-2.8-5.1zM474.7 128.3h5.6l-2.8-5.1zM466.6 142.5h5.6l-2.8-5.1zM479.0 135.2h5.6l-2.8-5.1zM436.0 159.7h5.6l-2.8-5.1zM446.5 144.7h5.6l-2.8-5.1zM428.7 149.2h5.6l-2.8-5.1zM437.8 166.2h5.6l-2.8-5.1zM434.8 165.2h5.6l-2.8-5.1zM438.4 144.6h5.6l-2.8-5.1zM449.6 155.9h5.6l-2.8-5.1zM444.0 143.4h5.6l-2.8-5.1zM434.4 160.0h5.6l-2.8-5.1zM476.8 145.4h5.6l-2.8-5.1zM450.8 160.0h5.6l-2.8-5.1zM428.3 149.6h5.6l-2.8-5.1zM434.0 153.1h5.6l-2.8-5.1zM441.9 162.2h5.6l-2.8-5.1zM480.7 128.7h5.6l-2.8-5.1zM464.1 143.7h5.6l-2.8-5.1zM473.6 141.4h5.6l-2.8-5.1zM439.9 161.6h5.6l-2.8-5.1zM463.5 145.3h5.6l-2.8-5.1zM470.7 137.0h5.6l-2.8-5.1zM494.3 129.5h5.6l-2.8-5.1zM432.4 168.5h5.6l-2.8-5.1zM459.7 147.1h5.6l-2.8-5.1zM500.9 125.8h5.6l-2.8-5.1zM472.2 146.0h5.6l-2.8-5.1zM465.2 144.9h5.6l-2.8-5.1zM501.1 131.3h5.6l-2.8-5.1zM454.0 138.5h5.6l-2.8-5.1zM451.8 148.1h5.6l-2.8-5.1zM498.1 133.1h5.6l-2.8-5.1zM430.9 166.1h5.6l-2.8-5.1zM495.3 128.7h5.6l-2.8-5.1zM461.5 136.3h5.6l-2.8-5.1zM491.9 139.2h5.6l-2.8-5.1zM445.3 158.4h5.6l-2.8-5.1zM448.7 153.7h5.6l-2.8-5.1zM477.5 131.7h5.6l-2.8-5.1zM450.9 155.4h5.6l-2.8-5.1zM476.7 129.6h5.6l-2.8-5.1zM448.6 153.2h5.6l-2.8-5.1zM486.4 135.1h5.6l-2.8-5.1zM498.6 125.7h5.6l-2.8-5.1zM444.5 146.1h5.6l-2.8-5.1zM463.5 143.9h5.6l-2.8-5.1zM468.6 140.3h5.6l-2.8-5.1zM440.3 144.6h5.6l-2.8-5.1zM464.9 134.7h5.6l-2.8-5.1zM441.0 156.7h5.6l-2.8-5.1zM461.2 144.5h5.6l-2.8-5.1zM429.1 149.6h5.6l-2.8-5.1zM480.7 137.6h5.6l-2.8-5.1zM494.7 113.3h5.6l-2.8-5.1zM495.7 118.3h5.6l-2.8-5.1zM496.7 121.3h5.6l-2.8-5.1zM503.7 120.3h5.6l-2.8-5.1zM516.6 120.0h5.6l-2.8-5.1zM520.9 127.1h5.6l-2.8-5.1zM524.1 119.6h5.6l-2.8-5.1zM525.5 114.4h5.6l-2.8-5.1zM527.8 123.4h5.6l-2.8-5.1zM531.1 112.2h5.6l-2.8-5.1zM531.5 115.9h5.6l-2.8-5.1zM531.5 120.6h5.6l-2.8-5.1zM536.2 118.7h5.6l-2.8-5.1zM535.2 106.2h5.6l-2.8-5.1zM537.1 110.3h5.6l-2.8-5.1zM538.9 102.9h5.6l-2.8-5.1zM542.7 98.2h5.6l-2.8-5.1zM545.5 107.5h5.6l-2.8-5.1zM552.0 104.7h5.6l-2.8-5.1zM543.3 94.3h5.6l-2.8-5.1zM542.4 98.1h5.6l-2.8-5.1zM538.9 103.4h5.6l-2.8-5.1zM534.5 106.9h5.6l-2.8-5.1zM538.0 110.7h5.6l-2.8-5.1zM545.6 108.4h5.6l-2.8-5.1zM552.9 104.9h5.6l-2.8-5.1zM555.6 102.5h5.6l-2.8-5.1zM561.4 101.9h5.6l-2.8-5.1zM559.4 107.8h5.6l-2.8-5.1zM556.5 105.4h5.6l-2.8-5.1zM530.1 112.8h5.6l-2.8-5.1zM536.0 118.6h5.6l-2.8-5.1zM531.6 120.1h5.6l-2.8-5.1zM527.2 123.0h5.6l-2.8-5.1zM610.0 80.8h5.6l-2.8-5.1zM640.4 65.9h5.6l-2.8-5.1zM687.5 49.9h5.6l-2.8-5.1z" fill="#ffb700"/>
<path d="M112.4 327.2h5.6l-2.8-5.1zM131.3 320.8h5.6l-2.8-5.1zM199.0 290.5h5.6l-2.8-5.1zM111.7 312.8h5.6l-2.8-5.1zM106.5 317.9h5.6l-2.8-5.1zM96.3 321.3h5.6l-2.8-5.1zM150.8 310.1h5.6l-2.8-5.1zM135.7 319.1h5.6l-2.8-5.1zM94.7 334.3h5.6l-2.8-5.1zM127.7 310.4h5.6l-2.8-5.1zM112.0 323.2h5.6l-2.8-5.1zM166.5 305.6h5.6l-2.8-5.1zM172.8 296.1h5.6l-2.8-5.1zM134.3 304.9h5.6l-2.8-5.1zM108.5 313.9h5.6l-2.8-5.1zM111.9 319.0h5.6l-2.8-5.1zM93.3 338.8h5.6l-2.8-5.1zM182.4 293.7h5.6l-2.8-5.1zM94.0 324.5h5.6l-2.8-5.1zM195.2 292.4h5.6l-2.8-5.1zM174.4 293.1h5.6l-2.8-5.1zM156.8 302.9h5.6l-2.8-5.1zM98.1 326.6h5.6l-2.8-5.1zM112.0 314.4h5.6l-2.8-5.1zM138.9 302.9h5.6l-2.8-5.1zM110.1 315.5h5.6l-2.8-5.1zM174.6 288.5h5.6l-2.8-5.1zM184.4 284.5h5.6l-2.8-5.1zM92.5 342.1h5.6l-2.8-5.1zM108.4 332.6h5.6l-2.8-5.1zM101.0 327.4h5.6l-2.8-5.1zM97.4 341.0h5.6l-2.8-5.1zM163.9 299.1h5.6l-2.8-5.1zM120.8 323.6h5.6l-2.8-5.1zM138.4 312.0h5.6l-2.8-5.1zM101.3 322.2h5.6l-2.8-5.1zM94.1 337.0h5.6l-2.8-5.1zM150.2 294.0h5.6l-2.8-5.1zM112.9 319.7h5.6l-2.8-5.1zM102.4 322.5h5.6l-2.8-5.1zM120.2 312.4h5.6l-2.8-5.1zM140.3 304.9h5.6l-2.8-5.1zM98.8 341.2h5.6l-2.8-5.1zM94.1 341.0h5.6l-2.8-5.1zM172.5 294.0h5.6l-2.8-5.1zM138.4 305.4h5.6l-2.8-5.1zM112.1 315.9h5.6l-2.8-5.1zM123.7 324.8h5.6l-2.8-5.1zM97.4 326.2h5.6l-2.8-5.1zM94.1 337.3h5.6l-2.8-5.1zM115.8 329.3h5.6l-2.8-5.1zM90.9 340.0h5.6l-2.8-5.1zM121.0 311.8h5.6l-2.8-5.1zM89.8 340.8h5.6l-2.8-5.1zM145.8 297.5h5.6l-2.8-5.1zM132.6 319.7h5.6l-2.8-5.1zM108.2 325.1h5.6l-2.8-5.1zM100.8 321.5h5.6l-2.8-5.1zM200.1 289.3h5.6l-2.8-5.1zM106.1 316.0h5.6l-2.8-5.1zM96.6 333.8h5.6l-2.8-5.1zM141.0 303.5h5.6l-2.8-5.1zM107.0 326.7h5.6l-2.8-5.1zM182.0 297.0h5.6l-2.8-5.1zM155.3 293.2h5.6l-2.8-5.1zM94.8 337.2h5.6l-2.8-5.1zM129.0 318.5h5.6l-2.8-5.1zM94.0 339.2h5.6l-2.8-5.1zM120.3 324.2h5.6l-2.8-5.1zM140.6 298.7h5.6l-2.8-5.1zM138.3 316.8h5.6l-2.8-5.1zM112.9 315.3h5.6l-2.8-5.1zM124.0 311.6h5.6l-2.8-5.1zM124.5 318.2h5.6l-2.8-5.1zM90.0 334.2h5.6l-2.8-5.1zM134.0 311.8h5.6l-2.8-5.1zM99.4 334.7h5.6l-2.8-5.1zM118.7 322.6h5.6l-2.8-5.1zM125.7 320.0h5.6l-2.8-5.1zM94.4 340.4h5.6l-2.8-5.1zM140.9 308.4h5.6l-2.8-5.1zM146.4 305.1h5.6l-2.8-5.1zM91.3 343.2h5.6l-2.8-5.1zM108.7 316.8h5.6l-2.8-5.1zM97.8 325.1h5.6l-2.8-5.1zM92.0 324.5h5.6l-2.8-5.1zM179.7 286.0h5.6l-2.8-5.1zM91.0 335.5h5.6l-2.8-5.1zM154.1 299.9h5.6l-2.8-5.1zM180.7 283.9h5.6l-2.8-5.1zM184.4 281.7h5.6l-2.8-5.1zM99.5 329.5h5.6l-2.8-5.1zM141.8 303.0h5.6l-2.8-5.1zM99.5 327.5h5.6l-2.8-5.1zM100.7 330.8h5.6l-2.8-5.1zM101.6 329.7h5.6l-2.8-5.1zM192.7 282.7h5.6l-2.8-5.1zM126.6 314.9h5.6l-2.8-5.1zM145.6 302.4h5.6l-2.8-5.1zM120.7 313.5h5.6l-2.8-5.1zM120.3 317.0h5.6l-2.8-5.1zM93.8 332.8h5.6l-2.8-5.1zM111.2 320.7h5.6l-2.8-5.1zM164.8 298.0h5.6l-2.8-5.1zM146.5 294.2h5.6l-2.8-5.1zM132.3 313.4h5.6l-2.8-5.1zM91.3 325.8h5.6l-2.8-5.1zM164.9 303.6h5.6l-2.8-5.1zM92.3 336.0h5.6l-2.8-5.1zM112.9 325.0h5.6l-2.8-5.1zM113.7 322.0h5.6l-2.8-5.1zM162.5 296.6h5.6l-2.8-5.1zM144.8 303.9h5.6l-2.8-5.1zM115.1 316.7h5.6l-2.8-5.1zM167.9 294.6h5.6l-2.8-5.1zM157.4 305.7h5.6l-2.8-5.1zM143.8 301.0h5.6l-2.8-5.1zM136.8 310.9h5.6l-2.8-5.1zM101.7 319.7h5.6l-2.8-5.1zM100.3 324.4h5.6l-2.8-5.1zM128.8 312.6h5.6l-2.8-5.1zM110.6 314.2h5.6l-2.8-5.1zM149.0 311.0h5.6l-2.8-5.1zM160.3 300.0h5.6l-2.8-5.1zM168.5 295.6h5.6l-2.8-5.1zM182.6 290.1h5.6l-2.8-5.1zM149.3 305.4h5.6l-2.8-5.1zM137.2 306.5h5.6l-2.8-5.1zM110.5 316.9h5.6l-2.8-5.1zM143.6 303.7h5.6l-2.8-5.1zM155.8 289.9h5.6l-2.8-5.1zM122.3 323.5h5.6l-2.8-5.1zM110.1 323.9h5.6l-2.8-5.1zM140.4 304.2h5.6l-2.8-5.1zM116.0 325.2h5.6l-2.8-5.1zM102.6 317.9h5.6l-2.8-5.1zM133.2 304.8h5.6l-2.8-5.1zM126.5 315.2h5.6l-2.8-5.1zM189.4 281.7h5.6l-2.8-5.1zM108.8 332.9h5.6l-2.8-5.1zM190.3 282.5h5.6l-2.8-5.1zM120.5 315.5h5.6l-2.8-5.1zM174.1 298.1h5.6l-2.8-5.1zM144.4 310.9h5.6l-2.8-5.1zM191.7 291.4h5.6l-2.8-5.1zM138.1 315.2h5.6l-2.8-5.1zM182.2 298.9h5.6l-2.8-5.1zM99.9 337.8h5.6l-2.8-5.1zM90.0 339.3h5.6l-2.8-5.1zM155.8 298.8h5.6l-2.8-5.1zM153.3 298.3h5.6l-2.8-5.1zM159.8 297.2h5.6l-2.8-5.1zM134.8 310.3h5.6l-2.8-5.1zM186.0 285.8h5.6l-2.8-5.1zM126.9 316.7h5.6l-2.8-5.1zM126.1 313.6h5.6l-2.8-5.1zM141.6 306.5h5.6l-2.8-5.1zM105.0 321.5h5.6l-2.8-5.1zM101.4 329.9h5.6l-2.8-5.1zM155.0 290.9h5.6l-2.8-5.1zM119.1 324.9h5.6l-2.8-5.1zM106.8 322.9h5.6l-2.8-5.1zM90.5 324.2h5.6l-2.8-5.1zM152.1 300.8h5.6l-2.8-5.1zM147.7 315.2h5.6l-2.8-5.1zM144.3 306.1h5.6l-2.8-5.1zM176.4 292.5h5.6l-2.8-5.1zM122.9 318.8h5.6l-2.8-5.1zM122.1 325.0h5.6l-2.8-5.1zM174.3 296.6h5.6l-2.8-5.1zM97.5 328.1h5.6l-2.8-5.1zM128.1 316.5h5.6l-2.8-5.1zM153.7 307.6h5.6l-2.8-5.1zM139.7 307.8h5.6l-2.8-5.1zM163.2 305.8h5.6l-2.8-5.1zM121.2 318.4h5.6l-2.8-5.1zM103.7 322.6h5.6l-2.8-5.1zM143.6 297.8h5.6l-2.8-5.1zM177.5 299.2h5.6l-2.8-5.1zM130.7 310.3h5.6l-2.8-5.1zM115.4 320.6h5.6l-2.8-5.1zM142.4 300.5h5.6l-2.8-5.1zM104.8 328.6h5.6l-2.8-5.1zM159.0 296.5h5.6l-2.8-5.1zM165.6 293.8h5.6l-2.8-5.1zM129.5 319.3h5.6l-2.8-5.1zM117.2 323.1h5.6l-2.8-5.1zM90.0 329.8h5.6l-2.8-5.1zM155.9 301.9h5.6l-2.8-5.1zM106.1 324.8h5.6l-2.8-5.1zM150.1 296.8h5.6l-2.8-5.1zM167.8 300.1h5.6l-2.8-5.1zM153.8 297.8h5.6l-2.8-5.1zM99.4 321.9h5.6l-2.8-5.1zM196.6 282.4h5.6l-2.8-5.1zM97.6 323.3h5.6l-2.8-5.1zM145.1 312.4h5.6l-2.8-5.1zM160.9 303.2h5.6l-2.8-5.1zM94.5 321.3h5.6l-2.8-5.1zM200.1 285.1h5.6l-2.8-5.1zM184.0 287.6h5.6l-2.8-5.1zM103.6 321.6h5.6l-2.8-5.1zM97.6 340.3h5.6l-2.8-5.1zM155.2 296.0h5.6l-2.8-5.1zM134.5 309.0h5.6l-2.8-5.1zM93.9 341.0h5.6l-2.8-5.1zM155.2 307.8h5.6l-2.8-5.1zM133.1 314.5h5.6l-2.8-5.1zM111.2 313.1h5.6l-2.8-5.1zM118.1 326.4h5.6l-2.8-5.1zM116.8 321.6h5.6l-2.8-5.1zM141.0 317.1h5.6l-2.8-5.1zM110.6 320.3h5.6l-2.8-5.1zM184.8 284.9h5.6l-2.8-5.1zM117.4 326.4h5.6l-2.8-5.1zM139.4 314.8h5.6l-2.8-5.1zM110.6 315.9h5.6l-2.8-5.1zM123.0 312.2h5.6l-2.8-5.1zM115.5 321.5h5.6l-2.8-5.1zM98.9 330.9h5.6l-2.8-5.1zM126.2 314.7h5.6l-2.8-5.1zM94.8 323.7h5.6l-2.8-5.1zM122.2 313.3h5.6l-2.8-5.1zM105.6 320.7h5.6l-2.8-5.1zM110.0 313.3h5.6l-2.8-5.1zM171.6 296.7h5.6l-2.8-5.1zM102.4 332.1h5.6l-2.8-5.1zM97.0 325.9h5.6l-2.8-5.1zM100.0 328.1h5.6l-2.8-5.1zM102.7 324.1h5.6l-2.8-5.1zM185.8 287.4h5.6l-2.8-5.1zM107.2 333.6h5.6l-2.8-5.1zM142.4 301.3h5.6l-2.8-5.1zM134.9 304.1h5.6l-2.8-5.1zM181.6 286.7h5.6l-2.8-5.1zM156.1 296.4h5.6l-2.8-5.1zM110.9 324.6h5.6l-2.8-5.1zM107.6 331.8h5.6l-2.8-5.1zM99.5 330.0h5.6l-2.8-5.1zM148.4 297.8h5.6l-2.8-5.1zM126.1 318.5h5.6l-2.8-5.1zM152.6 296.4h5.6l-2.8-5.1zM126.8 310.1h5.6l-2.8-5.1zM104.3 333.7h5.6l-2.8-5.1zM118.7 321.8h5.6l-2.8-5.1zM98.4 331.9h5.6l-2.8-5.1zM123.3 317.1h5.6l-2.8-5.1zM116.1 311.8h5.6l-2.8-5.1zM117.7 314.2h5.6l-2.8-5.1zM99.8 334.4h5.6l-2.8-5.1zM114.6 318.8h5.6l-2.8-5.1zM100.3 324.0h5.6l-2.8-5.1zM92.0 336.9h5.6l-2.8-5.1zM171.4 297.0h5.6l-2.8-5.1zM129.6 317.5h5.6l-2.8-5.1zM179.8 287.0h5.6l-2.8-5.1zM122.3 319.6h5.6l-2.8-5.1zM104.7 317.6h5.6l-2.8-5.1zM189.0 292.0h5.6l-2.8-5.1zM92.8 322.8h5.6l-2.8-5.1zM103.0 320.5h5.6l-2.8-5.1zM116.8 317.5h5.6l-2.8-5.1zM92.7 328.7h5.6l-2.8-5.1zM166.0 295.5h5.6l-2.8-5.1zM153.0 304.8h5.6l-2.8-5.1zM111.7 320.7h5.6l-2.8-5.1zM176.2 292.0h5.6l-2.8-5.1zM89.8 340.8h5.6l-2.8-5.1zM115.0 311.7h5.6l-2.8-5.1zM159.8 292.8h5.6l-2.8-5.1zM110.7 314.6h5.6l-2.8-5.1zM107.4 332.8h5.6l-2.8-5.1zM193.5 281.7h5.6l-2.8-5.1zM178.7 290.3h5.6l-2.8-5.1zM192.9 291.6h5.6l-2.8-5.1zM114.5 312.8h5.6l-2.8-5.1zM131.1 320.7h5.6l-2.8-5.1zM177.9 297.4h5.6l-2.8-5.1zM163.9 299.1h5.6l-2.8-5.1zM93.9 336.7h5.6l-2.8-5.1zM131.6 314.2h5.6l-2.8-5.1zM99.9 335.3h5.6l-2.8-5.1zM93.1 337.1h5.6l-2.8-5.1zM112.4 322.6h5.6l-2.8-5.1zM165.8 300.2h5.6l-2.8-5.1zM111.2 313.4h5.6l-2.8-5.1zM122.9 315.8h5.6l-2.8-5.1zM106.6 320.6h5.6l-2.8-5.1zM100.7 333.5h5.6l-2.8-5.1zM172.9 293.9h5.6l-2.8-5.1zM110.5 322.9h5.6l-2.8-5.1zM133.9 319.6h5.6l-2.8-5.1zM122.2 314.2h5.6l-2.8-5.1zM101.2 329.9h5.6l-2.8-5.1zM120.1 323.8h5.6l-2.8-5.1zM149.3 308.9h5.6l-2.8-5.1zM103.6 330.3h5.6l-2.8-5.1zM158.2 297.8h5.6l-2.8-5.1zM198.7 290.7h5.6l-2.8-5.1zM98.8 325.3h5.6l-2.8-5.1zM123.2 312.5h5.6l-2.8-5.1zM94.4 327.3h5.6l-2.8-5.1zM106.2 329.1h5.6l-2.8-5.1zM134.3 304.1h5.6l-2.8-5.1zM119.1 318.0h5.6l-2.8-5.1zM123.5 311.8h5.6l-2.8-5.1zM95.3 320.9h5.6l-2.8-5.1zM193.8 281.7h5.6l-2.8-5.1zM184.4 299.3h5.6l-2.8-5.1zM151.9 292.4h5.6l-2.8-5.1zM140.0 307.4h5.6l-2.8-5.1zM105.5 326.2h5.6l-2.8-5.1zM90.3 342.5h5.6l-2.8-5.1zM167.3 301.4h5.6l-2.8-5.1zM169.0 296.2h5.6l-2.8-5.1zM110.9 315.1h5.6l-2.8-5.1zM91.8 339.0h5.6l-2.8-5.1zM116.1 314.1h5.6l-2.8-5.1zM165.9 304.1h5.6l-2.8-5.1zM103.5 332.9h5.6l-2.8-5.1zM191.4 285.1h5.6l-2.8-5.1zM105.0 332.6h5.6l-2.8-5.1zM118.6 316.4h5.6l-2.8-5.1zM149.8 299.4h5.6l-2.8-5.1zM110.2 313.3h5.6l-2.8-5.1zM152.5 303.3h5.6l-2.8-5.1zM181.4 299.0h5.6l-2.8-5.1zM140.8 308.1h5.6l-2.8-5.1zM102.6 323.0h5.6l-2.8-5.1zM155.0 290.7h5.6l-2.8-5.1zM177.1 287.9h5.6l-2.8-5.1zM133.6 320.3h5.6l-2.8-5.1zM96.7 320.8h5.6l-2.8-5.1zM133.1 307.2h5.6l-2.8-5.1zM186.0 280.4h5.6l-2.8-5.1zM131.3 311.2h5.6l-2.8-5.1zM171.0 299.0h5.6l-2.8-5.1zM130.7 312.8h5.6l-2.8-5.1zM133.0 315.4h5.6l-2.8-5.1zM103.2 322.5h5.6l-2.8-5.1zM88.6 351.8h5.6l-2.8-5.1zM93.6 351.4h5.6l-2.8-5.1zM97.0 345.7h5.6l-2.8-5.1zM89.5 345.7h5.6l-2.8-5.1zM188.2 274.5h5.6l-2.8-5.1zM178.7 280.8h5.6l-2.8-5.1zM185.2 281.3h5.6l-2.8-5.1zM147.2 290.8h5.6l-2.8-5.1zM154.7 287.8h5.6l-2.8-5.1zM204.9 281.8h5.6l-2.8-5.1zM209.2 285.3h5.6l-2.8-5.1zM214.2 286.3h5.6l-2.8-5.1zM218.9 284.3h5.6l-2.8-5.1zM365.4 230.0h5.6l-2.8-5.1zM350.2 237.3h5.6l-2.8-5.1zM294.0 257.8h5.6l-2.8-5.1zM287.3 254.9h5.6l-2.8-5.1zM281.4 261.6h5.6l-2.8-5.1zM274.7 257.8h5.6l-2.8-5.1zM261.5 262.8h5.6l-2.8-5.1zM236.7 268.9h5.6l-2.8-5.1zM240.5 271.0h5.6l-2.8-5.1zM243.4 273.9h5.6l-2.8-5.1zM246.3 276.0h5.6l-2.8-5.1zM239.0 275.4h5.6l-2.8-5.1zM235.5 278.3h5.6l-2.8-5.1zM231.7 276.0h5.6l-2.8-5.1zM237.5 278.3h5.6l-2.8-5.1zM240.5 277.7h5.6l-2.8-5.1zM227.3 282.7h5.6l-2.8-5.1zM225.0 283.6h5.6l-2.8-5.1zM219.1 284.7h5.6l-2.8-5.1zM211.2 284.1h5.6l-2.8-5.1zM213.3 287.1h5.6l-2.8-5.1zM204.5 281.2h5.6l-2.8-5.1zM205.4 286.5h5.6l-2.8-5.1zM206.8 290.6h5.6l-2.8-5.1zM204.5 291.5h5.6l-2.8-5.1zM197.2 286.2h5.6l-2.8-5.1zM193.7 290.0h5.6l-2.8-5.1zM192.2 293.5h5.6l-2.8-5.1z" fill="#0000ff"/>
<path d="M447.4 319.3h5.6l-2.8-5.1zM438.7 315.1h5.6l-2.8-5.1zM420.1 328.6h5.6l-2.8-5.1zM449.1 328.6h5.6l-2.8-5.1zM525.5 288.5h5.6l-2.8-5.1zM468.4 316.1h5.6l-2.8-5.1zM418.6 338.9h5.6l-2.8-5.1zM466.9 304.5h5.6l-2.8-5.1zM461.8 322.5h5.6l-2.8-5.1zM451.2 319.5h5.6l-2.8-5.1zM434.8 321.4h5.6l-2.8-5.1zM416.8 326.4h5.6l-2.8-5.1zM477.6 302.8h5.6l-2.8-5.1zM420.1 337.7h5.6l-2.8-5.1zM440.8 324.1h5.6l-2.8-5.1zM444.8 320.2h5.6l-2.8-5.1zM461.0 309.4h5.6l-2.8-5.1zM421.9 324.0h5.6l-2.8-5.1zM458.9 303.3h5.6l-2.8-5.1zM524.2 281.9h5.6l-2.8-5.1zM420.7 333.9h5.6l-2.8-5.1zM431.1 327.4h5.6l-2.8-5.1zM459.6 305.8h5.6l-2.8-5.1zM462.0 302.3h5.6l-2.8-5.1zM454.8 316.5h5.6l-2.8-5.1zM419.8 331.0h5.6l-2.8-5.1zM419.4 332.0h5.6l-2.8-5.1zM524.7 284.6h5.6l-2.8-5.1zM484.2 303.8h5.6l-2.8-5.1zM421.9 345.6h5.6l-2.8-5.1zM485.5 293.5h5.6l-2.8-5.1zM512.7 286.1h5.6l-2.8-5.1zM425.5 343.0h5.6l-2.8-5.1zM460.7 318.7h5.6l-2.8-5.1zM423.3 339.0h5.6l-2.8-5.1zM418.5 327.0h5.6l-2.8-5.1zM440.8 309.1h5.6l-2.8-5.1zM464.8 303.6h5.6l-2.8-5.1zM434.8 331.5h5.6l-2.8-5.1zM445.7 328.7h5.6l-2.8-5.1zM468.6 317.5h5.6l-2.8-5.1zM460.7 322.1h5.6l-2.8-5.1zM425.3 337.3h5.6l-2.8-5.1zM438.2 330.8h5.6l-2.8-5.1zM478.0 310.8h5.6l-2.8-5.1zM422.4 328.8h5.6l-2.8-5.1zM488.7 302.3h5.6l-2.8-5.1zM485.6 292.6h5.6l-2.8-5.1zM466.1 300.2h5.6l-2.8-5.1zM459.0 320.1h5.6l-2.8-5.1zM421.8 343.9h5.6l-2.8-5.1zM477.1 298.8h5.6l-2.8-5.1zM427.0 328.3h5.6l-2.8-5.1zM515.4 287.3h5.6l-2.8-5.1zM421.8 319.7h5.6l-2.8-5.1zM421.6 340.6h5.6l-2.8-5.1zM426.5 331.5h5.6l-2.8-5.1zM434.0 331.5h5.6l-2.8-5.1zM441.6 312.2h5.6l-2.8-5.1zM457.7 317.8h5.6l-2.8-5.1zM506.0 292.9h5.6l-2.8-5.1zM416.0 331.0h5.6l-2.8-5.1zM424.2 331.2h5.6l-2.8-5.1zM503.8 282.5h5.6l-2.8-5.1zM426.3 338.8h5.6l-2.8-5.1zM477.8 301.5h5.6l-2.8-5.1zM450.7 307.4h5.6l-2.8-5.1zM517.8 285.3h5.6l-2.8-5.1zM467.1 299.0h5.6l-2.8-5.1zM437.2 316.5h5.6l-2.8-5.1zM464.1 299.9h5.6l-2.8-5.1zM425.4 326.8h5.6l-2.8-5.1zM449.9 318.4h5.6l-2.8-5.1zM442.2 317.3h5.6l-2.8-5.1zM415.5 337.8h5.6l-2.8-5.1zM437.5 311.0h5.6l-2.8-5.1zM449.0 329.1h5.6l-2.8-5.1zM417.8 324.8h5.6l-2.8-5.1zM476.3 299.6h5.6l-2.8-5.1zM432.8 327.0h5.6l-2.8-5.1zM431.9 329.3h5.6l-2.8-5.1zM456.5 324.9h5.6l-2.8-5.1zM417.1 336.4h5.6l-2.8-5.1zM496.3 297.1h5.6l-2.8-5.1zM497.1 293.7h5.6l-2.8-5.1zM470.6 304.3h5.6l-2.8-5.1zM433.4 335.0h5.6l-2.8-5.1zM478.1 299.4h5.6l-2.8-5.1zM494.5 296.5h5.6l-2.8-5.1zM454.3 317.8h5.6l-2.8-5.1zM438.9 324.5h5.6l-2.8-5.1zM443.8 308.7h5.6l-2.8-5.1zM437.8 319.0h5.6l-2.8-5.1zM451.3 312.4h5.6l-2.8-5.1zM430.5 320.6h5.6l-2.8-5.1zM438.8 313.4h5.6l-2.8-5.1zM415.6 345.9h5.6l-2.8-5.1zM448.4 315.8h5.6l-2.8-5.1zM461.5 307.0h5.6l-2.8-5.1zM425.4 318.8h5.6l-2.8-5.1zM434.9 320.3h5.6l-2.8-5.1zM486.5 299.0h5.6l-2.8-5.1zM438.1 335.1h5.6l-2.8-5.1zM463.4 301.1h5.6l-2.8-5.1zM426.0 332.5h5.6l-2.8-5.1zM439.5 330.1h5.6l-2.8-5.1zM445.9 328.0h5.6l-2.8-5.1zM419.1 333.4h5.6l-2.8-5.1zM433.0 320.0h5.6l-2.8-5.1zM416.5 325.8h5.6l-2.8-5.1zM432.4 333.0h5.6l-2.8-5.1zM428.7 326.1h5.6l-2.8-5.1zM427.5 332.4h5.6l-2.8-5.1zM525.0 285.4h5.6l-2.8-5.1zM427.2 336.1h5.6l-2.8-5.1zM465.7 299.9h5.6l-2.8-5.1zM506.4 291.9h5.6l-2.8-5.1zM438.2 313.8h5.6l-2.8-5.1zM426.7 331.0h5.6l-2.8-5.1zM471.4 318.3h5.6l-2.8-5.1zM428.3 324.3h5.6l-2.8-5.1zM491.3 297.1h5.6l-2.8-5.1zM443.8 324.7h5.6l-2.8-5.1zM437.9 311.8h5.6l-2.8-5.1zM444.6 307.9h5.6l-2.8-5.1zM469.3 304.1h5.6l-2.8-5.1zM452.7 317.5h5.6l-2.8-5.1zM431.5 326.5h5.6l-2.8-5.1zM416.0 347.2h5.6l-2.8-5.1zM460.9 323.7h5.6l-2.8-5.1zM418.4 337.3h5.6l-2.8-5.1zM486.0 296.4h5.6l-2.8-5.1zM420.6 323.9h5.6l-2.8-5.1zM423.7 338.6h5.6l-2.8-5.1zM420.4 341.7h5.6l-2.8-5.1zM445.5 320.0h5.6l-2.8-5.1zM464.0 312.1h5.6l-2.8-5.1zM474.1 309.2h5.6l-2.8-5.1zM437.3 330.8h5.6l-2.8-5.1zM431.6 333.5h5.6l-2.8-5.1zM494.5 296.9h5.6l-2.8-5.1zM435.5 332.8h5.6l-2.8-5.1zM448.4 311.6h5.6l-2.8-5.1zM456.0 324.8h5.6l-2.8-5.1zM423.0 318.7h5.6l-2.8-5.1zM450.7 319.9h5.6l-2.8-5.1zM497.0 290.5h5.6l-2.8-5.1zM429.4 335.7h5.6l-2.8-5.1zM420.4 320.5h5.6l-2.8-5.1zM423.1 320.0h5.6l-2.8-5.1zM453.5 316.1h5.6l-2.8-5.1zM426.2 342.2h5.6l-2.8-5.1zM440.2 313.0h5.6l-2.8-5.1zM425.9 336.8h5.6l-2.8-5.1zM424.9 318.1h5.6l-2.8-5.1zM498.0 288.4h5.6l-2.8-5.1zM453.2 318.3h5.6l-2.8-5.1zM438.4 331.6h5.6l-2.8-5.1zM449.1 312.4h5.6l-2.8-5.1zM421.5 338.9h5.6l-2.8-5.1zM418.9 337.9h5.6l-2.8-5.1zM443.5 329.7h5.6l-2.8-5.1zM418.6 335.8h5.6l-2.8-5.1zM444.2 330.5h5.6l-2.8-5.1zM469.5 301.4h5.6l-2.8-5.1zM431.2 321.0h5.6l-2.8-5.1zM446.5 311.5h5.6l-2.8-5.1zM427.7 336.6h5.6l-2.8-5.1zM471.8 302.1h5.6l-2.8-5.1zM428.6 330.9h5.6l-2.8-5.1zM424.6 340.8h5.6l-2.8-5.1zM527.1 280.0h5.6l-2.8-5.1zM491.8 299.0h5.6l-2.8-5.1zM433.5 321.8h5.6l-2.8-5.1zM451.8 325.4h5.6l-2.8-5.1zM424.9 335.8h5.6l-2.8-5.1zM465.3 309.1h5.6l-2.8-5.1zM462.8 320.4h5.6l-2.8-5.1zM428.2 339.8h5.6l-2.8-5.1zM439.8 330.1h5.6l-2.8-5.1zM524.7 280.9h5.6l-2.8-5.1zM524.9 289.0h5.6l-2.8-5.1zM434.6 312.6h5.6l-2.8-5.1zM421.7 345.2h5.6l-2.8-5.1zM415.7 347.0h5.6l-2.8-5.1zM424.2 337.5h5.6l-2.8-5.1zM420.8 324.1h5.6l-2.8-5.1zM478.3 294.7h5.6l-2.8-5.1zM438.0 335.1h5.6l-2.8-5.1zM484.5 305.4h5.6l-2.8-5.1zM417.0 327.5h5.6l-2.8-5.1zM501.6 291.8h5.6l-2.8-5.1zM417.3 334.8h5.6l-2.8-5.1zM429.7 326.5h5.6l-2.8-5.1zM421.3 319.9h5.6l-2.8-5.1zM436.1 335.3h5.6l-2.8-5.1zM422.3 331.9h5.6l-2.8-5.1zM423.2 329.8h5.6l-2.8-5.1zM426.0 335.3h5.6l-2.8-5.1zM424.0 337.7h5.6l-2.8-5.1zM453.4 305.0h5.6l-2.8-5.1zM439.2 322.9h5.6l-2.8-5.1zM438.8 315.5h5.6l-2.8-5.1zM487.5 294.6h5.6l-2.8-5.1zM425.9 323.9h5.6l-2.8-5.1zM419.1 321.4h5.6l-2.8-5.1zM454.3 312.2h5.6l-2.8-5.1zM459.9 309.0h5.6l-2.8-5.1zM415.8 340.7h5.6l-2.8-5.1zM473.4 307.9h5.6l-2.8-5.1zM459.0 317.3h5.6l-2.8-5.1zM484.8 298.2h5.6l-2.8-5.1zM436.3 322.6h5.6l-2.8-5.1zM442.1 318.1h5.6l-2.8-5.1zM444.2 310.6h5.6l-2.8-5.1zM415.5 338.6h5.6l-2.8-5.1zM431.4 330.8h5.6l-2.8-5.1zM441.2 314.9h5.6l-2.8-5.1zM427.4 319.1h5.6l-2.8-5.1zM517.1 288.9h5.6l-2.8-5.1zM418.0 339.7h5.6l-2.8-5.1zM436.8 328.5h5.6l-2.8-5.1zM459.0 308.2h5.6l-2.8-5.1zM415.3 342.7h5.6l-2.8-5.1zM520.8 285.9h5.6l-2.8-5.1zM464.5 322.2h5.6l-2.8-5.1zM429.9 332.0h5.6l-2.8-5.1zM490.0 294.5h5.6l-2.8-5.1zM483.7 298.5h5.6l-2.8-5.1zM456.3 316.5h5.6l-2.8-5.1zM477.4 300.2h5.6l-2.8-5.1zM469.7 309.1h5.6l-2.8-5.1zM429.1 331.9h5.6l-2.8-5.1zM432.1 338.9h5.6l-2.8-5.1zM450.5 321.7h5.6l-2.8-5.1zM455.8 313.3h5.6l-2.8-5.1zM429.0 318.9h5.6l-2.8-5.1zM456.6 314.2h5.6l-2.8-5.1zM456.4 321.4h5.6l-2.8-5.1zM430.2 319.0h5.6l-2.8-5.1zM510.1 287.0h5.6l-2.8-5.1zM471.5 315.8h5.6l-2.8-5.1zM526.5 278.0h5.6l-2.8-5.1zM441.6 330.2h5.6l-2.8-5.1zM508.8 283.9h5.6l-2.8-5.1zM424.4 324.4h5.6l-2.8-5.1zM421.2 329.0h5.6l-2.8-5.1zM504.6 288.4h5.6l-2.8-5.1zM448.4 306.9h5.6l-2.8-5.1zM442.9 333.5h5.6l-2.8-5.1zM480.5 301.0h5.6l-2.8-5.1zM451.0 323.4h5.6l-2.8-5.1zM493.4 289.9h5.6l-2.8-5.1zM477.9 300.9h5.6l-2.8-5.1zM455.6 307.4h5.6l-2.8-5.1zM440.7 317.8h5.6l-2.8-5.1zM441.6 308.8h5.6l-2.8-5.1zM427.5 331.5h5.6l-2.8-5.1zM418.5 325.4h5.6l-2.8-5.1zM484.9 296.3h5.6l-2.8-5.1zM436.7 317.4h5.6l-2.8-5.1zM514.0 283.3h5.6l-2.8-5.1zM470.8 316.8h5.6l-2.8-5.1zM427.6 327.4h5.6l-2.8-5.1zM501.6 290.9h5.6l-2.8-5.1zM440.8 309.9h5.6l-2.8-5.1zM447.3 314.4h5.6l-2.8-5.1zM483.8 297.0h5.6l-2.8-5.1zM444.0 323.7h5.6l-2.8-5.1zM506.8 286.2h5.6l-2.8-5.1zM442.0 323.3h5.6l-2.8-5.1zM426.9 342.8h5.6l-2.8-5.1zM483.6 298.2h5.6l-2.8-5.1zM475.4 301.5h5.6l-2.8-5.1zM419.2 340.7h5.6l-2.8-5.1zM441.4 322.2h5.6l-2.8-5.1zM453.0 325.1h5.6l-2.8-5.1zM493.0 288.6h5.6l-2.8-5.1zM464.6 309.6h5.6l-2.8-5.1zM449.3 325.2h5.6l-2.8-5.1zM444.7 318.8h5.6l-2.8-5.1zM447.1 317.7h5.6l-2.8-5.1zM454.6 322.5h5.6l-2.8-5.1zM476.2 311.0h5.6l-2.8-5.1zM443.4 308.4h5.6l-2.8-5.1zM477.8 305.0h5.6l-2.8-5.1zM495.8 296.1h5.6l-2.8-5.1zM422.1 324.9h5.6l-2.8-5.1zM419.6 342.2h5.6l-2.8-5.1zM421.1 321.9h5.6l-2.8-5.1zM492.2 295.6h5.6l-2.8-5.1zM418.3 339.1h5.6l-2.8-5.1zM483.5 300.0h5.6l-2.8-5.1zM418.3 339.4h5.6l-2.8-5.1zM445.0 321.4h5.6l-2.8-5.1zM508.6 291.0h5.6l-2.8-5.1zM423.8 326.9h5.6l-2.8-5.1zM455.4 301.7h5.6l-2.8-5.1zM432.9 320.2h5.6l-2.8-5.1zM435.9 318.3h5.6l-2.8-5.1zM498.0 309.0h5.6l-2.8-5.1zM532.4 295.0h5.6l-2.8-5.1zM537.1 271.7h5.6l-2.8-5.1zM542.7 272.7h5.6l-2.8-5.1zM548.2 264.3h5.6l-2.8-5.1zM552.0 270.8h5.6l-2.8-5.1zM536.2 288.5h5.6l-2.8-5.1zM547.3 282.0h5.6l-2.8-5.1zM527.8 274.8h5.6l-2.8-5.1zM530.2 282.3h5.6l-2.8-5.1zM534.2 279.3h5.6l-2.8-5.1zM540.2 283.3h5.6l-2.8-5.1zM544.2 277.3h5.6l-2.8-5.1zM688.7 221.8h5.6l-2.8-5.1zM611.5 242.6h5.6l-2.8-5.1zM610.0 248.5h5.6l-2.8-5.1zM596.0 254.0h5.6l-2.8-5.1zM583.4 260.7h5.6l-2.8-5.1zM549.1 262.2h5.6l-2.8-5.1zM562.9 267.2h5.6l-2.8-5.1zM565.2 268.1h5.6l-2.8-5.1zM563.2 271.9h5.6l-2.8-5.1zM552.7 270.4h5.6l-2.8-5.1zM556.5 274.5h5.6l-2.8-5.1zM551.5 277.4h5.6l-2.8-5.1zM547.1 280.6h5.6l-2.8-5.1zM542.4 274.5h5.6l-2.8-5.1zM537.4 272.4h5.6l-2.8-5.1zM537.4 278.3h5.6l-2.8-5.1zM540.4 276.8h5.6l-2.8-5.1zM528.1 275.4h5.6l-2.8-5.1zM530.7 286.5h5.6l-2.8-5.1zM536.0 287.7h5.6l-2.8-5.1zM532.5 294.4h5.6l-2.8-5.1z" fill="#ffff33"/>
<path d="M188.9 458.7h5.6l-2.8-5.1zM120.5 476.4h5.6l-2.8-5.1zM84.1 479.1h5.6l-2.8-5.1zM192.1 459.2h5.6l-2.8-5.1zM188.0 456.7h5.6l-2.8-5.1zM93.6 470.2h5.6l-2.8-5.1zM123.5 474.8h5.6l-2.8-5.1zM115.5 478.9h5.6l-2.8-5.1zM129.4 473.3h5.6l-2.8-5.1zM170.1 461.1h5.6l-2.8-5.1zM219.7 447.1h5.6l-2.8-5.1zM84.1 479.5h5.6l-2.8-5.1zM123.1 475.6h5.6l-2.8-5.1zM127.0 473.0h5.6l-2.8-5.1zM98.8 490.7h5.6l-2.8-5.1zM100.2 487.5h5.6l-2.8-5.1zM170.4 465.1h5.6l-2.8-5.1zM114.5 489.7h5.6l-2.8-5.1zM113.6 488.7h5.6l-2.8-5.1zM84.5 483.4h5.6l-2.8-5.1zM137.3 465.9h5.6l-2.8-5.1zM190.4 454.4h5.6l-2.8-5.1zM131.1 469.3h5.6l-2.8-5.1zM221.8 446.5h5.6l-2.8-5.1zM169.9 464.2h5.6l-2.8-5.1zM142.8 475.6h5.6l-2.8-5.1zM100.4 473.9h5.6l-2.8-5.1zM181.4 458.0h5.6l-2.8-5.1zM218.7 446.4h5.6l-2.8-5.1zM87.0 472.0h5.6l-2.8-5.1zM165.6 470.3h5.6l-2.8-5.1zM110.7 484.1h5.6l-2.8-5.1zM97.6 494.6h5.6l-2.8-5.1zM144.9 467.0h5.6l-2.8-5.1zM84.4 492.1h5.6l-2.8-5.1zM83.5 496.9h5.6l-2.8-5.1zM100.3 474.5h5.6l-2.8-5.1zM129.2 472.4h5.6l-2.8-5.1zM126.4 469.7h5.6l-2.8-5.1zM214.8 447.7h5.6l-2.8-5.1zM182.4 457.7h5.6l-2.8-5.1zM169.5 469.3h5.6l-2.8-5.1zM108.5 468.7h5.6l-2.8-5.1zM107.5 484.1h5.6l-2.8-5.1zM95.1 485.2h5.6l-2.8-5.1zM86.6 484.2h5.6l-2.8-5.1zM152.9 469.4h5.6l-2.8-5.1zM143.7 466.5h5.6l-2.8-5.1zM178.2 458.7h5.6l-2.8-5.1zM222.4 447.5h5.6l-2.8-5.1zM122.3 473.3h5.6l-2.8-5.1zM104.7 487.3h5.6l-2.8-5.1zM118.9 488.0h5.6l-2.8-5.1zM86.6 484.9h5.6l-2.8-5.1zM190.9 458.2h5.6l-2.8-5.1zM124.0 468.8h5.6l-2.8-5.1zM89.5 477.6h5.6l-2.8-5.1zM204.2 453.4h5.6l-2.8-5.1zM95.4 496.6h5.6l-2.8-5.1zM83.0 489.0h5.6l-2.8-5.1zM104.4 492.4h5.6l-2.8-5.1zM140.0 465.7h5.6l-2.8-5.1zM103.5 479.7h5.6l-2.8-5.1zM96.8 490.3h5.6l-2.8-5.1zM92.0 494.0h5.6l-2.8-5.1zM100.7 470.1h5.6l-2.8-5.1zM126.3 468.6h5.6l-2.8-5.1zM125.3 482.8h5.6l-2.8-5.1zM131.0 474.7h5.6l-2.8-5.1zM83.1 486.2h5.6l-2.8-5.1zM86.8 490.2h5.6l-2.8-5.1zM89.0 487.6h5.6l-2.8-5.1zM105.1 477.6h5.6l-2.8-5.1zM141.0 467.6h5.6l-2.8-5.1zM91.4 499.1h5.6l-2.8-5.1zM103.4 489.9h5.6l-2.8-5.1zM194.9 455.5h5.6l-2.8-5.1zM90.1 471.8h5.6l-2.8-5.1zM197.4 452.3h5.6l-2.8-5.1zM118.9 479.3h5.6l-2.8-5.1zM88.1 484.1h5.6l-2.8-5.1zM91.1 486.0h5.6l-2.8-5.1zM120.1 475.3h5.6l-2.8-5.1zM93.3 481.5h5.6l-2.8-5.1zM93.7 472.6h5.6l-2.8-5.1zM96.3 494.4h5.6l-2.8-5.1zM119.5 486.9h5.6l-2.8-5.1zM82.0 500.7h5.6l-2.8-5.1zM118.1 485.2h5.6l-2.8-5.1zM127.7 480.1h5.6l-2.8-5.1zM95.5 491.2h5.6l-2.8-5.1zM90.4 477.3h5.6l-2.8-5.1zM82.9 482.2h5.6l-2.8-5.1zM121.4 473.5h5.6l-2.8-5.1zM202.9 450.4h5.6l-2.8-5.1zM128.7 470.9h5.6l-2.8-5.1zM131.0 480.9h5.6l-2.8-5.1zM149.4 465.1h5.6l-2.8-5.1zM96.7 486.1h5.6l-2.8-5.1zM83.5 489.6h5.6l-2.8-5.1zM145.9 476.9h5.6l-2.8-5.1zM104.2 489.0h5.6l-2.8-5.1zM115.3 489.1h5.6l-2.8-5.1zM81.8 500.6h5.6l-2.8-5.1zM110.4 477.9h5.6l-2.8-5.1zM86.3 477.0h5.6l-2.8-5.1zM154.0 472.3h5.6l-2.8-5.1zM90.2 479.9h5.6l-2.8-5.1zM89.5 475.2h5.6l-2.8-5.1zM94.8 478.7h5.6l-2.8-5.1zM167.5 464.7h5.6l-2.8-5.1zM119.0 484.6h5.6l-2.8-5.1zM212.5 449.8h5.6l-2.8-5.1zM136.8 468.7h5.6l-2.8-5.1zM135.2 480.7h5.6l-2.8-5.1zM166.2 461.0h5.6l-2.8-5.1zM150.7 468.9h5.6l-2.8-5.1zM90.9 499.9h5.6l-2.8-5.1zM142.6 476.8h5.6l-2.8-5.1zM89.2 495.8h5.6l-2.8-5.1zM210.5 450.5h5.6l-2.8-5.1zM179.5 464.4h5.6l-2.8-5.1zM130.3 474.4h5.6l-2.8-5.1zM177.1 465.0h5.6l-2.8-5.1zM193.8 454.8h5.6l-2.8-5.1zM122.9 486.8h5.6l-2.8-5.1zM88.0 500.5h5.6l-2.8-5.1zM166.4 462.6h5.6l-2.8-5.1zM181.4 458.8h5.6l-2.8-5.1zM93.3 483.2h5.6l-2.8-5.1zM96.1 483.2h5.6l-2.8-5.1zM212.5 449.6h5.6l-2.8-5.1zM149.4 469.8h5.6l-2.8-5.1zM165.4 468.6h5.6l-2.8-5.1zM144.4 479.3h5.6l-2.8-5.1zM177.3 461.5h5.6l-2.8-5.1zM86.2 490.4h5.6l-2.8-5.1zM180.7 459.9h5.6l-2.8-5.1zM130.9 482.0h5.6l-2.8-5.1zM167.8 459.6h5.6l-2.8-5.1zM118.1 467.8h5.6l-2.8-5.1zM87.6 495.5h5.6l-2.8-5.1zM111.0 482.7h5.6l-2.8-5.1zM114.8 475.5h5.6l-2.8-5.1zM94.4 479.5h5.6l-2.8-5.1zM183.6 461.2h5.6l-2.8-5.1zM100.2 470.6h5.6l-2.8-5.1zM98.6 488.1h5.6l-2.8-5.1zM113.3 483.6h5.6l-2.8-5.1zM171.7 460.0h5.6l-2.8-5.1zM144.4 465.3h5.6l-2.8-5.1zM176.4 459.6h5.6l-2.8-5.1zM98.6 495.3h5.6l-2.8-5.1zM106.0 473.7h5.6l-2.8-5.1zM202.5 452.9h5.6l-2.8-5.1zM204.6 451.2h5.6l-2.8-5.1zM119.3 488.4h5.6l-2.8-5.1zM120.1 488.8h5.6l-2.8-5.1zM92.8 495.3h5.6l-2.8-5.1zM90.9 485.8h5.6l-2.8-5.1zM81.2 475.0h5.6l-2.8-5.1zM114.5 486.7h5.6l-2.8-5.1zM97.1 478.7h5.6l-2.8-5.1zM87.1 487.0h5.6l-2.8-5.1zM190.2 457.9h5.6l-2.8-5.1zM107.2 491.4h5.6l-2.8-5.1zM204.5 452.4h5.6l-2.8-5.1zM85.5 489.6h5.6l-2.8-5.1zM113.5 490.6h5.6l-2.8-5.1zM105.9 484.8h5.6l-2.8-5.1zM136.2 471.9h5.6l-2.8-5.1zM121.8 481.5h5.6l-2.8-5.1zM211.9 449.1h5.6l-2.8-5.1zM106.1 492.8h5.6l-2.8-5.1zM84.4 496.7h5.6l-2.8-5.1zM144.5 473.3h5.6l-2.8-5.1zM113.9 485.6h5.6l-2.8-5.1zM203.2 453.2h5.6l-2.8-5.1zM157.4 462.7h5.6l-2.8-5.1zM102.8 471.7h5.6l-2.8-5.1zM203.3 450.5h5.6l-2.8-5.1zM129.9 477.3h5.6l-2.8-5.1zM83.8 482.1h5.6l-2.8-5.1zM156.9 470.5h5.6l-2.8-5.1zM99.3 489.4h5.6l-2.8-5.1zM100.1 483.0h5.6l-2.8-5.1zM111.2 491.8h5.6l-2.8-5.1zM138.8 478.9h5.6l-2.8-5.1zM143.3 470.8h5.6l-2.8-5.1zM149.2 474.1h5.6l-2.8-5.1zM99.1 472.8h5.6l-2.8-5.1zM128.3 482.6h5.6l-2.8-5.1zM168.0 463.2h5.6l-2.8-5.1zM89.5 485.6h5.6l-2.8-5.1zM196.6 452.9h5.6l-2.8-5.1zM154.9 465.2h5.6l-2.8-5.1zM101.8 469.6h5.6l-2.8-5.1zM100.6 478.5h5.6l-2.8-5.1zM92.6 478.6h5.6l-2.8-5.1zM93.3 478.8h5.6l-2.8-5.1zM112.9 470.3h5.6l-2.8-5.1zM97.8 479.7h5.6l-2.8-5.1zM108.0 492.1h5.6l-2.8-5.1zM98.3 474.2h5.6l-2.8-5.1zM212.9 448.7h5.6l-2.8-5.1zM181.0 462.4h5.6l-2.8-5.1zM164.1 463.9h5.6l-2.8-5.1zM90.3 493.3h5.6l-2.8-5.1zM116.1 480.4h5.6l-2.8-5.1zM142.3 477.0h5.6l-2.8-5.1zM98.9 478.5h5.6l-2.8-5.1zM218.4 447.4h5.6l-2.8-5.1zM99.9 485.5h5.6l-2.8-5.1zM97.7 490.6h5.6l-2.8-5.1zM83.5 496.6h5.6l-2.8-5.1zM127.2 473.6h5.6l-2.8-5.1zM98.2 475.3h5.6l-2.8-5.1zM85.2 487.1h5.6l-2.8-5.1zM158.3 470.4h5.6l-2.8-5.1zM110.5 487.8h5.6l-2.8-5.1zM87.7 478.9h5.6l-2.8-5.1zM138.1 481.9h5.6l-2.8-5.1zM136.5 477.6h5.6l-2.8-5.1zM163.1 465.1h5.6l-2.8-5.1zM155.8 467.1h5.6l-2.8-5.1zM108.6 488.1h5.6l-2.8-5.1zM104.9 472.8h5.6l-2.8-5.1zM194.1 456.2h5.6l-2.8-5.1zM121.7 481.4h5.6l-2.8-5.1zM208.7 448.8h5.6l-2.8-5.1zM103.9 469.8h5.6l-2.8-5.1zM110.5 480.2h5.6l-2.8-5.1zM186.3 460.6h5.6l-2.8-5.1zM128.6 474.2h5.6l-2.8-5.1zM128.1 471.8h5.6l-2.8-5.1zM183.7 462.6h5.6l-2.8-5.1zM181.4 458.1h5.6l-2.8-5.1zM142.4 477.0h5.6l-2.8-5.1zM119.4 487.1h5.6l-2.8-5.1zM207.2 451.7h5.6l-2.8-5.1zM175.8 464.1h5.6l-2.8-5.1zM197.2 452.5h5.6l-2.8-5.1zM148.2 474.6h5.6l-2.8-5.1zM133.3 470.7h5.6l-2.8-5.1zM85.0 488.9h5.6l-2.8-5.1zM176.8 460.4h5.6l-2.8-5.1zM94.4 475.5h5.6l-2.8-5.1zM86.6 491.1h5.6l-2.8-5.1zM170.3 462.7h5.6l-2.8-5.1zM147.3 465.5h5.6l-2.8-5.1zM181.5 459.5h5.6l-2.8-5.1zM81.4 490.3h5.6l-2.8-5.1zM89.4 477.7h5.6l-2.8-5.1zM84.6 483.8h5.6l-2.8-5.1zM125.7 483.1h5.6l-2.8-5.1zM83.4 496.6h5.6l-2.8-5.1zM87.6 476.2h5.6l-2.8-5.1zM135.8 471.4h5.6l-2.8-5.1zM103.3 482.8h5.6l-2.8-5.1zM94.7 493.0h5.6l-2.8-5.1zM94.1 494.9h5.6l-2.8-5.1zM172.2 464.0h5.6l-2.8-5.1zM82.9 495.0h5.6l-2.8-5.1zM82.8 485.9h5.6l-2.8-5.1zM111.5 469.3h5.6l-2.8-5.1zM135.9 478.3h5.6l-2.8-5.1zM129.6 473.9h5.6l-2.8-5.1zM120.7 480.0h5.6l-2.8-5.1zM95.3 495.0h5.6l-2.8-5.1zM170.9 468.7h5.6l-2.8-5.1zM103.2 493.7h5.6l-2.8-5.1zM85.3 484.8h5.6l-2.8-5.1zM89.1 483.6h5.6l-2.8-5.1zM144.3 475.7h5.6l-2.8-5.1zM114.5 475.7h5.6l-2.8-5.1zM92.8 481.6h5.6l-2.8-5.1zM99.5 473.7h5.6l-2.8-5.1zM154.4 469.9h5.6l-2.8-5.1zM113.0 472.4h5.6l-2.8-5.1zM148.1 467.2h5.6l-2.8-5.1zM98.2 484.3h5.6l-2.8-5.1zM147.6 478.7h5.6l-2.8-5.1zM156.9 474.4h5.6l-2.8-5.1zM220.1 447.4h5.6l-2.8-5.1zM151.1 464.9h5.6l-2.8-5.1zM93.9 469.0h5.6l-2.8-5.1zM190.8 459.3h5.6l-2.8-5.1zM135.9 470.0h5.6l-2.8-5.1zM105.4 472.2h5.6l-2.8-5.1zM136.2 483.0h5.6l-2.8-5.1zM101.3 469.4h5.6l-2.8-5.1zM91.8 480.1h5.6l-2.8-5.1zM207.3 451.9h5.6l-2.8-5.1zM114.6 470.0h5.6l-2.8-5.1zM87.4 473.9h5.6l-2.8-5.1zM163.8 465.8h5.6l-2.8-5.1zM214.7 449.2h5.6l-2.8-5.1zM116.8 486.3h5.6l-2.8-5.1zM88.8 472.4h5.6l-2.8-5.1zM126.8 476.7h5.6l-2.8-5.1zM94.1 476.4h5.6l-2.8-5.1zM82.4 499.5h5.6l-2.8-5.1zM149.3 477.7h5.6l-2.8-5.1zM112.8 485.4h5.6l-2.8-5.1zM107.9 488.3h5.6l-2.8-5.1zM182.5 457.6h5.6l-2.8-5.1zM81.9 476.3h5.6l-2.8-5.1zM129.6 473.5h5.6l-2.8-5.1zM81.7 497.0h5.6l-2.8-5.1zM166.0 465.0h5.6l-2.8-5.1zM83.6 498.6h5.6l-2.8-5.1zM123.2 468.6h5.6l-2.8-5.1zM102.7 484.4h5.6l-2.8-5.1zM200.3 453.2h5.6l-2.8-5.1zM137.3 468.7h5.6l-2.8-5.1zM96.5 495.3h5.6l-2.8-5.1zM107.7 470.5h5.6l-2.8-5.1zM130.4 468.4h5.6l-2.8-5.1zM93.5 483.1h5.6l-2.8-5.1zM129.6 478.5h5.6l-2.8-5.1zM148.7 470.6h5.6l-2.8-5.1zM85.0 492.9h5.6l-2.8-5.1zM84.2 484.6h5.6l-2.8-5.1zM109.3 484.6h5.6l-2.8-5.1zM150.0 467.6h5.6l-2.8-5.1zM138.9 476.9h5.6l-2.8-5.1zM116.3 470.8h5.6l-2.8-5.1zM213.0 449.1h5.6l-2.8-5.1zM84.8 476.9h5.6l-2.8-5.1zM95.5 480.4h5.6l-2.8-5.1zM166.5 468.6h5.6l-2.8-5.1zM136.5 478.5h5.6l-2.8-5.1zM83.3 472.2h5.6l-2.8-5.1zM170.5 459.4h5.6l-2.8-5.1zM83.9 477.0h5.6l-2.8-5.1zM228.0 443.9h5.6l-2.8-5.1zM142.5 479.8h5.6l-2.8-5.1zM137.2 481.4h5.6l-2.8-5.1zM98.0 472.8h5.6l-2.8-5.1zM82.2 494.4h5.6l-2.8-5.1zM87.2 500.8h5.6l-2.8-5.1zM149.3 466.9h5.6l-2.8-5.1zM171.7 460.4h5.6l-2.8-5.1zM120.7 469.6h5.6l-2.8-5.1zM166.2 469.4h5.6l-2.8-5.1zM217.7 446.0h5.6l-2.8-5.1zM186.1 459.8h5.6l-2.8-5.1zM175.9 462.7h5.6l-2.8-5.1zM134.4 476.4h5.6l-2.8-5.1zM169.6 460.0h5.6l-2.8-5.1zM84.3 487.1h5.6l-2.8-5.1zM100.1 479.0h5.6l-2.8-5.1zM81.6 494.1h5.6l-2.8-5.1zM82.5 496.8h5.6l-2.8-5.1zM173.0 463.0h5.6l-2.8-5.1zM88.4 490.1h5.6l-2.8-5.1zM94.0 482.0h5.6l-2.8-5.1zM87.6 500.9h5.6l-2.8-5.1zM124.6 474.1h5.6l-2.8-5.1zM86.6 492.9h5.6l-2.8-5.1zM185.4 462.4h5.6l-2.8-5.1zM87.1 480.9h5.6l-2.8-5.1zM101.0 488.4h5.6l-2.8-5.1zM90.0 488.4h5.6l-2.8-5.1zM161.7 461.1h5.6l-2.8-5.1zM85.5 472.7h5.6l-2.8-5.1zM146.1 473.6h5.6l-2.8-5.1zM121.6 476.9h5.6l-2.8-5.1zM110.0 483.0h5.6l-2.8-5.1zM138.7 480.8h5.6l-2.8-5.1zM153.8 473.9h5.6l-2.8-5.1zM215.4 449.2h5.6l-2.8-5.1zM150.6 464.6h5.6l-2.8-5.1zM144.0 478.0h5.6l-2.8-5.1zM112.2 489.2h5.6l-2.8-5.1zM92.1 499.0h5.6l-2.8-5.1zM113.3 484.7h5.6l-2.8-5.1zM97.2 477.2h5.6l-2.8-5.1zM104.8 476.4h5.6l-2.8-5.1zM86.7 483.5h5.6l-2.8-5.1zM139.6 480.8h5.6l-2.8-5.1zM160.2 471.5h5.6l-2.8-5.1zM158.0 465.5h5.6l-2.8-5.1zM97.0 480.5h5.6l-2.8-5.1zM82.4 476.8h5.6l-2.8-5.1zM200.8 455.1h5.6l-2.8-5.1zM103.1 488.1h5.6l-2.8-5.1zM163.2 470.7h5.6l-2.8-5.1zM168.3 465.0h5.6l-2.8-5.1zM87.3 496.0h5.6l-2.8-5.1zM101.9 484.6h5.6l-2.8-5.1zM106.4 481.6h5.6l-2.8-5.1zM90.9 485.9h5.6l-2.8-5.1zM138.9 474.3h5.6l-2.8-5.1zM110.0 490.5h5.6l-2.8-5.1zM145.6 479.3h5.6l-2.8-5.1zM86.4 475.9h5.6l-2.8-5.1zM99.8 493.1h5.6l-2.8-5.1zM82.0 477.8h5.6l-2.8-5.1zM150.4 477.9h5.6l-2.8-5.1zM91.9 482.8h5.6l-2.8-5.1zM145.1 475.2h5.6l-2.8-5.1zM156.6 472.1h5.6l-2.8-5.1zM96.9 476.0h5.6l-2.8-5.1zM82.7 492.2h5.6l-2.8-5.1zM94.1 476.7h5.6l-2.8-5.1zM137.9 475.4h5.6l-2.8-5.1zM139.9 475.0h5.6l-2.8-5.1zM146.5 469.0h5.6l-2.8-5.1zM84.8 471.2h5.6l-2.8-5.1zM82.0 481.2h5.6l-2.8-5.1zM89.6 472.4h5.6l-2.8-5.1zM118.6 489.0h5.6l-2.8-5.1zM145.2 468.8h5.6l-2.8-5.1zM161.9 463.1h5.6l-2.8-5.1zM87.0 478.8h5.6l-2.8-5.1zM110.1 484.9h5.6l-2.8-5.1zM113.6 485.1h5.6l-2.8-5.1zM86.7 499.6h5.6l-2.8-5.1zM104.2 489.5h5.6l-2.8-5.1zM82.9 496.7h5.6l-2.8-5.1zM95.3 494.6h5.6l-2.8-5.1zM170.5 465.8h5.6l-2.8-5.1zM99.1 468.6h5.6l-2.8-5.1zM92.8 497.7h5.6l-2.8-5.1zM90.7 490.1h5.6l-2.8-5.1zM129.8 478.9h5.6l-2.8-5.1zM92.2 473.3h5.6l-2.8-5.1zM86.8 501.2h5.6l-2.8-5.1zM107.8 484.3h5.6l-2.8-5.1zM127.6 470.9h5.6l-2.8-5.1zM84.9 469.5h5.6l-2.8-5.1zM186.5 456.2h5.6l-2.8-5.1zM106.1 486.4h5.6l-2.8-5.1zM89.4 494.4h5.6l-2.8-5.1zM97.1 479.1h5.6l-2.8-5.1zM121.9 469.6h5.6l-2.8-5.1zM96.9 491.8h5.6l-2.8-5.1zM99.7 478.7h5.6l-2.8-5.1zM160.8 463.9h5.6l-2.8-5.1zM93.1 475.6h5.6l-2.8-5.1zM107.9 477.1h5.6l-2.8-5.1zM137.6 473.4h5.6l-2.8-5.1zM193.3 453.3h5.6l-2.8-5.1zM141.1 478.7h5.6l-2.8-5.1zM95.9 469.3h5.6l-2.8-5.1zM112.9 470.5h5.6l-2.8-5.1zM115.1 484.3h5.6l-2.8-5.1zM86.6 472.8h5.6l-2.8-5.1zM117.1 471.4h5.6l-2.8-5.1zM95.6 481.8h5.6l-2.8-5.1zM88.1 471.0h5.6l-2.8-5.1zM105.8 480.0h5.6l-2.8-5.1zM125.7 468.2h5.6l-2.8-5.1zM95.0 491.3h5.6l-2.8-5.1zM126.7 484.0h5.6l-2.8-5.1zM188.5 455.3h5.6l-2.8-5.1zM122.1 472.3h5.6l-2.8-5.1zM91.5 496.6h5.6l-2.8-5.1zM94.3 471.1h5.6l-2.8-5.1zM98.2 494.7h5.6l-2.8-5.1zM115.2 484.7h5.6l-2.8-5.1zM85.5 483.9h5.6l-2.8-5.1zM102.2 473.5h5.6l-2.8-5.1zM141.0 470.8h5.6l-2.8-5.1zM88.2 501.0h5.6l-2.8-5.1zM117.3 471.5h5.6l-2.8-5.1zM81.8 491.0h5.6l-2.8-5.1zM121.0 467.8h5.6l-2.8-5.1zM116.1 484.6h5.6l-2.8-5.1zM127.4 463.3h5.6l-2.8-5.1zM122.7 469.0h5.6l-2.8-5.1zM144.4 460.0h5.6l-2.8-5.1zM162.1 461.8h5.6l-2.8-5.1zM108.7 475.2h5.6l-2.8-5.1zM93.2 466.3h5.6l-2.8-5.1zM135.9 469.4h5.6l-2.8-5.1zM86.3 466.5h5.6l-2.8-5.1zM83.4 470.4h5.6l-2.8-5.1zM90.3 465.9h5.6l-2.8-5.1zM164.1 459.1h5.6l-2.8-5.1zM112.0 471.4h5.6l-2.8-5.1zM82.0 479.0h5.6l-2.8-5.1zM97.1 470.0h5.6l-2.8-5.1zM124.2 473.0h5.6l-2.8-5.1zM121.8 474.1h5.6l-2.8-5.1zM139.4 461.2h5.6l-2.8-5.1zM94.7 478.6h5.6l-2.8-5.1zM117.8 464.5h5.6l-2.8-5.1zM104.5 468.3h5.6l-2.8-5.1zM106.4 472.1h5.6l-2.8-5.1zM82.6 469.3h5.6l-2.8-5.1zM91.8 476.1h5.6l-2.8-5.1zM81.2 473.3h5.6l-2.8-5.1zM99.1 469.5h5.6l-2.8-5.1zM130.7 468.4h5.6l-2.8-5.1zM90.1 466.7h5.6l-2.8-5.1zM88.9 478.5h5.6l-2.8-5.1zM90.9 464.9h5.6l-2.8-5.1zM125.5 468.0h5.6l-2.8-5.1zM84.7 466.9h5.6l-2.8-5.1zM92.2 472.1h5.6l-2.8-5.1zM117.3 467.0h5.6l-2.8-5.1zM146.2 466.4h5.6l-2.8-5.1zM100.0 477.2h5.6l-2.8-5.1zM112.6 462.4h5.6l-2.8-5.1zM87.8 463.1h5.6l-2.8-5.1zM101.7 466.7h5.6l-2.8-5.1zM113.9 469.1h5.6l-2.8-5.1zM144.8 463.4h5.6l-2.8-5.1zM88.6 466.8h5.6l-2.8-5.1zM145.6 464.0h5.6l-2.8-5.1zM94.0 463.8h5.6l-2.8-5.1zM131.9 461.9h5.6l-2.8-5.1zM151.9 459.9h5.6l-2.8-5.1zM97.4 459.4h5.6l-2.8-5.1zM125.7 460.2h5.6l-2.8-5.1zM85.8 466.6h5.6l-2.8-5.1zM139.9 454.9h5.6l-2.8-5.1zM148.1 459.0h5.6l-2.8-5.1zM81.8 464.5h5.6l-2.8-5.1zM149.2 457.4h5.6l-2.8-5.1zM143.8 449.9h5.6l-2.8-5.1zM173.6 444.8h5.6l-2.8-5.1zM115.0 466.1h5.6l-2.8-5.1zM95.1 460.5h5.6l-2.8-5.1zM219.4 437.7h5.6l-2.8-5.1zM160.9 450.0h5.6l-2.8-5.1zM146.5 458.7h5.6l-2.8-5.1zM89.4 459.7h5.6l-2.8-5.1zM95.7 458.4h5.6l-2.8-5.1zM83.4 460.5h5.6l-2.8-5.1zM112.5 457.8h5.6l-2.8-5.1zM86.1 464.7h5.6l-2.8-5.1zM132.8 454.0h5.6l-2.8-5.1zM154.3 452.5h5.6l-2.8-5.1zM92.8 462.1h5.6l-2.8-5.1zM82.3 466.5h5.6l-2.8-5.1zM91.7 460.9h5.6l-2.8-5.1zM168.5 455.2h5.6l-2.8-5.1zM142.8 457.1h5.6l-2.8-5.1zM154.4 460.5h5.6l-2.8-5.1zM94.3 465.5h5.6l-2.8-5.1zM102.7 456.9h5.6l-2.8-5.1zM184.6 447.3h5.6l-2.8-5.1zM84.0 464.7h5.6l-2.8-5.1zM88.7 463.0h5.6l-2.8-5.1zM91.9 457.3h5.6l-2.8-5.1zM99.3 451.3h5.6l-2.8-5.1zM99.3 459.4h5.6l-2.8-5.1zM104.7 457.3h5.6l-2.8-5.1zM108.9 457.3h5.6l-2.8-5.1zM114.2 456.7h5.6l-2.8-5.1zM121.1 446.7h5.6l-2.8-5.1zM121.7 462.6h5.6l-2.8-5.1zM128.1 452.6h5.6l-2.8-5.1zM127.4 457.3h5.6l-2.8-5.1zM135.5 457.3h5.6l-2.8-5.1zM140.8 463.3h5.6l-2.8-5.1zM150.4 458.4h5.6l-2.8-5.1zM153.6 443.5h5.6l-2.8-5.1zM153.6 447.7h5.6l-2.8-5.1zM155.7 455.2h5.6l-2.8-5.1zM168.5 446.0h5.6l-2.8-5.1zM170.6 448.8h5.6l-2.8-5.1zM171.7 452.0h5.6l-2.8-5.1zM175.9 442.4h5.6l-2.8-5.1zM186.2 435.0h5.6l-2.8-5.1zM187.2 445.6h5.6l-2.8-5.1zM191.9 438.8h5.6l-2.8-5.1zM196.8 447.7h5.6l-2.8-5.1zM207.4 446.2h5.6l-2.8-5.1zM220.6 441.3h5.6l-2.8-5.1zM222.7 433.9h5.6l-2.8-5.1zM231.2 440.3h5.6l-2.8-5.1zM233.0 447.7h5.6l-2.8-5.1zM239.8 439.2h5.6l-2.8-5.1zM402.7 384.9h5.6l-2.8-5.1zM360.6 401.5h5.6l-2.8-5.1zM351.1 400.8h5.6l-2.8-5.1zM338.4 404.6h5.6l-2.8-5.1zM282.7 428.3h5.6l-2.8-5.1zM277.1 425.8h5.6l-2.8-5.1zM271.2 428.3h5.6l-2.8-5.1zM268.2 428.3h5.6l-2.8-5.1zM261.8 430.6h5.6l-2.8-5.1zM261.0 434.0h5.6l-2.8-5.1zM260.0 437.8h5.6l-2.8-5.1zM253.3 437.8h5.6l-2.8-5.1zM249.5 428.8h5.6l-2.8-5.1zM243.4 440.3h5.6l-2.8-5.1zM240.1 439.6h5.6l-2.8-5.1zM242.6 442.1h5.6l-2.8-5.1zM231.6 439.8h5.6l-2.8-5.1zM229.9 442.1h5.6l-2.8-5.1zM232.4 448.0h5.6l-2.8-5.1zM227.8 445.4h5.6l-2.8-5.1zM225.3 448.0h5.6l-2.8-5.1zM222.2 449.3h5.6l-2.8-5.1zM222.2 434.0h5.6l-2.8-5.1z" fill="#0000ff"/>
<path d="M532.7 459.9h5.6l-2.8-5.1zM470.3 461.6h5.6l-2.8-5.1zM416.1 489.0h5.6l-2.8-5.1zM495.4 455.1h5.6l-2.8-5.1zM419.7 469.4h5.6l-2.8-5.1zM427.0 495.1h5.6l-2.8-5.1zM415.4 476.7h5.6l-2.8-5.1zM434.3 494.4h5.6l-2.8-5.1zM416.4 472.4h5.6l-2.8-5.1zM425.2 482.2h5.6l-2.8-5.1zM461.0 471.3h5.6l-2.8-5.1zM448.7 479.3h5.6l-2.8-5.1zM433.7 471.0h5.6l-2.8-5.1zM420.6 475.6h5.6l-2.8-5.1zM421.1 492.9h5.6l-2.8-5.1zM489.2 457.2h5.6l-2.8-5.1zM512.5 462.9h5.6l-2.8-5.1zM441.1 483.9h5.6l-2.8-5.1zM428.1 503.5h5.6l-2.8-5.1zM466.2 458.6h5.6l-2.8-5.1zM425.6 495.2h5.6l-2.8-5.1zM445.4 488.3h5.6l-2.8-5.1zM431.4 498.3h5.6l-2.8-5.1zM515.6 448.7h5.6l-2.8-5.1zM469.9 461.4h5.6l-2.8-5.1zM491.5 468.5h5.6l-2.8-5.1zM512.3 452.8h5.6l-2.8-5.1zM421.3 494.4h5.6l-2.8-5.1zM466.8 461.3h5.6l-2.8-5.1zM428.5 490.8h5.6l-2.8-5.1zM422.3 493.3h5.6l-2.8-5.1zM432.3 478.6h5.6l-2.8-5.1zM449.3 480.5h5.6l-2.8-5.1zM495.1 449.6h5.6l-2.8-5.1zM495.1 454.0h5.6l-2.8-5.1zM436.5 490.8h5.6l-2.8-5.1zM488.1 465.2h5.6l-2.8-5.1zM429.4 480.8h5.6l-2.8-5.1zM482.5 461.1h5.6l-2.8-5.1zM425.8 478.2h5.6l-2.8-5.1zM506.7 466.6h5.6l-2.8-5.1zM493.3 471.6h5.6l-2.8-5.1zM513.3 454.1h5.6l-2.8-5.1zM438.7 492.4h5.6l-2.8-5.1zM418.8 492.1h5.6l-2.8-5.1zM421.0 471.5h5.6l-2.8-5.1zM459.9 466.2h5.6l-2.8-5.1zM545.3 447.9h5.6l-2.8-5.1zM428.9 473.9h5.6l-2.8-5.1zM459.0 478.8h5.6l-2.8-5.1zM443.1 489.7h5.6l-2.8-5.1zM461.9 486.9h5.6l-2.8-5.1zM422.2 472.7h5.6l-2.8-5.1zM445.5 481.2h5.6l-2.8-5.1zM433.3 493.4h5.6l-2.8-5.1zM430.8 480.9h5.6l-2.8-5.1zM455.4 485.3h5.6l-2.8-5.1zM506.4 457.4h5.6l-2.8-5.1zM451.9 491.9h5.6l-2.8-5.1zM475.0 457.9h5.6l-2.8-5.1zM452.9 483.1h5.6l-2.8-5.1zM435.4 470.2h5.6l-2.8-5.1zM423.8 487.1h5.6l-2.8-5.1zM475.1 464.4h5.6l-2.8-5.1zM419.6 497.6h5.6l-2.8-5.1zM506.5 458.7h5.6l-2.8-5.1zM420.8 484.3h5.6l-2.8-5.1zM421.3 505.5h5.6l-2.8-5.1zM418.5 479.8h5.6l-2.8-5.1zM505.8 452.5h5.6l-2.8-5.1zM422.2 472.7h5.6l-2.8-5.1zM426.3 489.2h5.6l-2.8-5.1zM526.2 445.5h5.6l-2.8-5.1zM427.0 497.6h5.6l-2.8-5.1zM449.6 474.8h5.6l-2.8-5.1zM423.4 479.1h5.6l-2.8-5.1zM422.9 479.7h5.6l-2.8-5.1zM498.9 469.0h5.6l-2.8-5.1zM454.9 492.9h5.6l-2.8-5.1zM472.6 464.4h5.6l-2.8-5.1zM454.0 485.5h5.6l-2.8-5.1zM497.3 451.1h5.6l-2.8-5.1zM428.5 504.5h5.6l-2.8-5.1zM422.2 499.9h5.6l-2.8-5.1zM440.9 476.2h5.6l-2.8-5.1zM433.5 486.1h5.6l-2.8-5.1zM425.2 501.1h5.6l-2.8-5.1zM439.2 474.1h5.6l-2.8-5.1zM499.9 456.3h5.6l-2.8-5.1zM428.1 484.9h5.6l-2.8-5.1zM522.1 462.6h5.6l-2.8-5.1zM468.2 455.7h5.6l-2.8-5.1zM504.6 462.3h5.6l-2.8-5.1zM439.8 496.0h5.6l-2.8-5.1zM521.1 449.8h5.6l-2.8-5.1zM443.4 479.1h5.6l-2.8-5.1zM442.2 479.8h5.6l-2.8-5.1zM422.4 478.5h5.6l-2.8-5.1zM448.0 484.2h5.6l-2.8-5.1zM550.5 449.5h5.6l-2.8-5.1zM432.6 502.7h5.6l-2.8-5.1zM516.3 467.0h5.6l-2.8-5.1zM495.9 466.3h5.6l-2.8-5.1zM519.2 450.4h5.6l-2.8-5.1zM481.3 465.0h5.6l-2.8-5.1zM528.7 444.4h5.6l-2.8-5.1zM463.2 470.9h5.6l-2.8-5.1zM521.7 451.3h5.6l-2.8-5.1zM530.3 460.1h5.6l-2.8-5.1zM546.1 444.3h5.6l-2.8-5.1zM499.7 464.0h5.6l-2.8-5.1zM480.7 455.8h5.6l-2.8-5.1zM541.8 449.2h5.6l-2.8-5.1zM452.9 474.1h5.6l-2.8-5.1zM509.9 464.8h5.6l-2.8-5.1zM541.6 444.5h5.6l-2.8-5.1zM441.0 476.2h5.6l-2.8-5.1zM421.8 482.0h5.6l-2.8-5.1zM416.8 499.3h5.6l-2.8-5.1zM431.2 471.9h5.6l-2.8-5.1zM419.5 497.2h5.6l-2.8-5.1zM428.9 486.4h5.6l-2.8-5.1zM447.1 489.7h5.6l-2.8-5.1zM438.2 489.7h5.6l-2.8-5.1zM554.8 444.4h5.6l-2.8-5.1zM497.2 455.4h5.6l-2.8-5.1zM543.6 449.4h5.6l-2.8-5.1zM422.1 491.6h5.6l-2.8-5.1zM524.8 454.0h5.6l-2.8-5.1zM456.2 475.9h5.6l-2.8-5.1zM546.9 449.9h5.6l-2.8-5.1zM429.7 482.7h5.6l-2.8-5.1zM443.2 497.1h5.6l-2.8-5.1zM489.0 454.2h5.6l-2.8-5.1zM417.4 491.3h5.6l-2.8-5.1zM450.3 485.7h5.6l-2.8-5.1zM450.0 467.7h5.6l-2.8-5.1zM461.2 488.5h5.6l-2.8-5.1zM511.6 455.7h5.6l-2.8-5.1zM430.8 496.5h5.6l-2.8-5.1zM515.5 451.3h5.6l-2.8-5.1zM548.3 453.1h5.6l-2.8-5.1zM450.4 475.9h5.6l-2.8-5.1zM491.9 471.2h5.6l-2.8-5.1zM429.2 480.5h5.6l-2.8-5.1zM439.9 492.1h5.6l-2.8-5.1zM428.0 489.6h5.6l-2.8-5.1zM458.2 483.7h5.6l-2.8-5.1zM424.8 504.9h5.6l-2.8-5.1zM466.3 485.6h5.6l-2.8-5.1zM427.8 502.8h5.6l-2.8-5.1zM464.9 485.1h5.6l-2.8-5.1zM541.0 446.7h5.6l-2.8-5.1zM429.6 470.3h5.6l-2.8-5.1zM458.5 491.2h5.6l-2.8-5.1zM459.5 492.4h5.6l-2.8-5.1zM466.1 462.0h5.6l-2.8-5.1zM477.0 480.2h5.6l-2.8-5.1zM449.4 482.4h5.6l-2.8-5.1zM433.8 479.0h5.6l-2.8-5.1zM449.0 480.1h5.6l-2.8-5.1zM454.4 466.2h5.6l-2.8-5.1zM415.6 481.2h5.6l-2.8-5.1zM493.4 466.7h5.6l-2.8-5.1zM432.0 478.5h5.6l-2.8-5.1zM460.3 466.8h5.6l-2.8-5.1zM472.5 485.9h5.6l-2.8-5.1zM429.2 490.9h5.6l-2.8-5.1zM494.3 466.5h5.6l-2.8-5.1zM492.4 466.1h5.6l-2.8-5.1zM434.9 498.6h5.6l-2.8-5.1zM418.5 505.0h5.6l-2.8-5.1zM451.4 467.0h5.6l-2.8-5.1zM419.7 499.3h5.6l-2.8-5.1zM485.4 456.4h5.6l-2.8-5.1zM453.4 483.1h5.6l-2.8-5.1zM440.6 492.9h5.6l-2.8-5.1zM432.6 476.4h5.6l-2.8-5.1zM426.1 484.8h5.6l-2.8-5.1zM474.9 464.5h5.6l-2.8-5.1zM426.2 477.8h5.6l-2.8-5.1zM420.7 476.8h5.6l-2.8-5.1zM438.7 485.2h5.6l-2.8-5.1zM427.8 487.2h5.6l-2.8-5.1zM451.1 493.2h5.6l-2.8-5.1zM456.5 492.6h5.6l-2.8-5.1zM454.7 469.4h5.6l-2.8-5.1zM470.8 459.6h5.6l-2.8-5.1zM426.7 472.5h5.6l-2.8-5.1zM490.1 472.4h5.6l-2.8-5.1zM447.2 476.5h5.6l-2.8-5.1zM449.5 475.3h5.6l-2.8-5.1zM488.0 460.4h5.6l-2.8-5.1zM425.4 501.4h5.6l-2.8-5.1zM467.9 455.8h5.6l-2.8-5.1zM532.6 456.8h5.6l-2.8-5.1zM442.3 487.6h5.6l-2.8-5.1zM447.0 478.9h5.6l-2.8-5.1zM437.2 487.6h5.6l-2.8-5.1zM482.6 473.6h5.6l-2.8-5.1zM424.9 483.3h5.6l-2.8-5.1zM533.5 457.6h5.6l-2.8-5.1zM470.5 478.8h5.6l-2.8-5.1zM441.0 498.3h5.6l-2.8-5.1zM464.6 472.4h5.6l-2.8-5.1zM427.7 473.9h5.6l-2.8-5.1zM556.4 447.8h5.6l-2.8-5.1zM416.9 480.8h5.6l-2.8-5.1zM455.7 478.5h5.6l-2.8-5.1zM443.2 495.2h5.6l-2.8-5.1zM441.9 484.8h5.6l-2.8-5.1zM478.4 469.3h5.6l-2.8-5.1zM440.3 480.8h5.6l-2.8-5.1zM473.4 481.4h5.6l-2.8-5.1zM433.9 482.4h5.6l-2.8-5.1zM445.6 477.6h5.6l-2.8-5.1zM463.2 468.7h5.6l-2.8-5.1zM440.2 494.8h5.6l-2.8-5.1zM426.0 495.0h5.6l-2.8-5.1zM416.6 475.6h5.6l-2.8-5.1zM419.0 499.7h5.6l-2.8-5.1zM425.0 478.3h5.6l-2.8-5.1zM418.9 478.9h5.6l-2.8-5.1zM497.2 465.1h5.6l-2.8-5.1zM464.8 491.0h5.6l-2.8-5.1zM421.0 504.1h5.6l-2.8-5.1zM450.5 470.4h5.6l-2.8-5.1zM500.7 468.0h5.6l-2.8-5.1zM445.4 469.6h5.6l-2.8-5.1zM543.1 451.8h5.6l-2.8-5.1zM471.5 489.0h5.6l-2.8-5.1zM417.6 470.6h5.6l-2.8-5.1zM423.4 471.0h5.6l-2.8-5.1zM491.6 464.6h5.6l-2.8-5.1zM422.6 476.2h5.6l-2.8-5.1zM427.6 491.9h5.6l-2.8-5.1zM484.4 477.3h5.6l-2.8-5.1zM442.9 497.9h5.6l-2.8-5.1zM450.5 476.2h5.6l-2.8-5.1zM433.3 477.6h5.6l-2.8-5.1zM491.1 454.5h5.6l-2.8-5.1zM427.5 475.3h5.6l-2.8-5.1zM442.0 491.1h5.6l-2.8-5.1zM419.0 489.1h5.6l-2.8-5.1zM486.0 453.6h5.6l-2.8-5.1zM451.1 487.8h5.6l-2.8-5.1zM468.4 471.7h5.6l-2.8-5.1zM547.4 449.0h5.6l-2.8-5.1zM440.7 481.0h5.6l-2.8-5.1zM536.8 457.8h5.6l-2.8-5.1zM466.2 461.9h5.6l-2.8-5.1zM427.1 483.7h5.6l-2.8-5.1zM487.9 452.1h5.6l-2.8-5.1zM515.6 463.0h5.6l-2.8-5.1zM460.0 461.2h5.6l-2.8-5.1zM514.4 455.8h5.6l-2.8-5.1zM483.8 468.0h5.6l-2.8-5.1zM496.0 458.1h5.6l-2.8-5.1zM474.4 465.1h5.6l-2.8-5.1zM444.5 475.3h5.6l-2.8-5.1zM512.6 464.0h5.6l-2.8-5.1zM521.9 465.5h5.6l-2.8-5.1zM487.4 459.1h5.6l-2.8-5.1zM503.1 454.8h5.6l-2.8-5.1zM473.7 459.8h5.6l-2.8-5.1zM536.1 450.2h5.6l-2.8-5.1zM435.1 501.5h5.6l-2.8-5.1zM420.6 504.3h5.6l-2.8-5.1zM502.9 452.4h5.6l-2.8-5.1zM504.0 461.6h5.6l-2.8-5.1zM470.0 469.9h5.6l-2.8-5.1zM420.9 498.6h5.6l-2.8-5.1zM421.9 480.2h5.6l-2.8-5.1zM422.7 502.0h5.6l-2.8-5.1zM451.3 485.9h5.6l-2.8-5.1zM433.6 495.5h5.6l-2.8-5.1zM480.1 457.3h5.6l-2.8-5.1zM457.4 485.5h5.6l-2.8-5.1zM430.2 493.3h5.6l-2.8-5.1zM435.4 481.9h5.6l-2.8-5.1zM449.7 481.5h5.6l-2.8-5.1zM517.7 461.7h5.6l-2.8-5.1zM453.0 490.0h5.6l-2.8-5.1zM447.0 494.1h5.6l-2.8-5.1zM454.9 466.9h5.6l-2.8-5.1zM500.9 452.0h5.6l-2.8-5.1zM485.8 454.2h5.6l-2.8-5.1zM463.5 485.3h5.6l-2.8-5.1zM423.9 493.3h5.6l-2.8-5.1zM444.5 474.7h5.6l-2.8-5.1zM519.8 445.4h5.6l-2.8-5.1zM455.5 465.7h5.6l-2.8-5.1zM533.4 459.8h5.6l-2.8-5.1zM417.4 486.4h5.6l-2.8-5.1zM454.4 485.5h5.6l-2.8-5.1zM416.2 512.3h5.6l-2.8-5.1zM421.6 514.7h5.6l-2.8-5.1zM420.6 523.3h5.6l-2.8-5.1zM430.2 522.2h5.6l-2.8-5.1zM432.9 518.6h5.6l-2.8-5.1zM423.8 506.2h5.6l-2.8-5.1zM434.4 507.3h5.6l-2.8-5.1zM563.1 432.4h5.6l-2.8-5.1zM559.9 433.9h5.6l-2.8-5.1zM671.6 392.9h5.6l-2.8-5.1zM656.4 395.0h5.6l-2.8-5.1zM628.3 404.9h5.6l-2.8-5.1zM638.7 434.1h5.6l-2.8-5.1zM603.5 417.1h5.6l-2.8-5.1zM609.0 428.3h5.6l-2.8-5.1zM596.0 424.4h5.6l-2.8-5.1zM583.5 423.1h5.6l-2.8-5.1zM577.7 426.8h5.6l-2.8-5.1zM583.0 436.7h5.6l-2.8-5.1zM584.8 442.7h5.6l-2.8-5.1zM578.3 441.9h5.6l-2.8-5.1zM572.3 440.6h5.6l-2.8-5.1zM563.1 432.8h5.6l-2.8-5.1zM559.5 433.5h5.6l-2.8-5.1zM560.5 436.1h5.6l-2.8-5.1zM553.5 444.5h5.6l-2.8-5.1zM556.1 447.1h5.6l-2.8-5.1zM556.9 450.2h5.6l-2.8-5.1zM557.4 452.3h5.6l-2.8-5.1zM553.0 449.7h5.6l-2.8-5.1z" fill="#00b400"/>
<path d="M170.0 628.4h5.6l-2.8-5.1zM95.1 648.9h5.6l-2.8-5.1zM195.8 617.1h5.6l-2.8-5.1zM95.2 657.0h5.6l-2.8-5.1zM109.1 645.0h5.6l-2.8-5.1zM124.9 650.5h5.6l-2.8-5.1zM100.8 664.1h5.6l-2.8-5.1zM98.2 664.9h5.6l-2.8-5.1zM145.7 646.9h5.6l-2.8-5.1zM181.5 628.5h5.6l-2.8-5.1zM133.0 648.8h5.6l-2.8-5.1zM121.1 639.6h5.6l-2.8-5.1zM192.6 624.5h5.6l-2.8-5.1zM174.0 625.5h5.6l-2.8-5.1zM123.5 651.6h5.6l-2.8-5.1zM93.1 661.7h5.6l-2.8-5.1zM136.1 640.0h5.6l-2.8-5.1zM93.7 649.4h5.6l-2.8-5.1zM124.4 645.5h5.6l-2.8-5.1zM102.4 651.7h5.6l-2.8-5.1zM136.1 646.2h5.6l-2.8-5.1zM141.7 634.2h5.6l-2.8-5.1zM228.9 610.3h5.6l-2.8-5.1zM91.5 660.0h5.6l-2.8-5.1zM114.3 649.9h5.6l-2.8-5.1zM106.8 643.1h5.6l-2.8-5.1zM96.8 648.2h5.6l-2.8-5.1zM103.9 656.8h5.6l-2.8-5.1zM137.5 649.0h5.6l-2.8-5.1zM159.9 632.0h5.6l-2.8-5.1zM149.6 638.5h5.6l-2.8-5.1zM216.2 616.3h5.6l-2.8-5.1zM111.6 652.3h5.6l-2.8-5.1zM105.5 663.1h5.6l-2.8-5.1zM100.2 665.6h5.6l-2.8-5.1zM85.7 648.8h5.6l-2.8-5.1zM136.0 636.6h5.6l-2.8-5.1zM129.4 637.3h5.6l-2.8-5.1zM204.5 620.3h5.6l-2.8-5.1zM159.6 640.8h5.6l-2.8-5.1zM158.3 638.0h5.6l-2.8-5.1zM81.3 651.0h5.6l-2.8-5.1zM119.0 655.7h5.6l-2.8-5.1zM106.7 654.1h5.6l-2.8-5.1zM81.8 659.0h5.6l-2.8-5.1zM141.7 645.6h5.6l-2.8-5.1zM82.1 654.2h5.6l-2.8-5.1zM94.6 664.5h5.6l-2.8-5.1zM88.5 668.9h5.6l-2.8-5.1zM102.4 662.9h5.6l-2.8-5.1zM130.5 640.5h5.6l-2.8-5.1zM116.5 651.8h5.6l-2.8-5.1zM85.9 667.3h5.6l-2.8-5.1zM89.2 664.5h5.6l-2.8-5.1zM102.6 646.9h5.6l-2.8-5.1zM112.0 653.2h5.6l-2.8-5.1zM147.6 640.9h5.6l-2.8-5.1zM93.1 662.7h5.6l-2.8-5.1zM135.7 639.4h5.6l-2.8-5.1zM237.8 607.8h5.6l-2.8-5.1zM91.6 650.5h5.6l-2.8-5.1zM92.2 659.9h5.6l-2.8-5.1zM190.9 619.0h5.6l-2.8-5.1zM128.7 645.4h5.6l-2.8-5.1zM137.1 639.9h5.6l-2.8-5.1zM134.5 633.8h5.6l-2.8-5.1zM85.3 658.3h5.6l-2.8-5.1zM99.6 661.1h5.6l-2.8-5.1zM100.0 662.5h5.6l-2.8-5.1zM100.0 646.5h5.6l-2.8-5.1zM125.3 643.3h5.6l-2.8-5.1zM109.0 656.8h5.6l-2.8-5.1zM98.3 659.7h5.6l-2.8-5.1zM203.6 618.4h5.6l-2.8-5.1zM128.8 651.5h5.6l-2.8-5.1zM144.2 633.9h5.6l-2.8-5.1zM86.1 650.3h5.6l-2.8-5.1zM108.6 643.7h5.6l-2.8-5.1zM152.4 635.5h5.6l-2.8-5.1zM106.3 653.2h5.6l-2.8-5.1zM100.3 647.8h5.6l-2.8-5.1zM106.0 649.5h5.6l-2.8-5.1zM164.5 631.4h5.6l-2.8-5.1zM93.5 647.4h5.6l-2.8-5.1zM90.1 666.5h5.6l-2.8-5.1zM152.2 631.1h5.6l-2.8-5.1zM147.9 630.7h5.6l-2.8-5.1zM129.3 641.1h5.6l-2.8-5.1zM88.6 664.6h5.6l-2.8-5.1zM167.0 631.8h5.6l-2.8-5.1zM93.7 661.2h5.6l-2.8-5.1zM119.8 650.0h5.6l-2.8-5.1zM87.7 668.4h5.6l-2.8-5.1zM81.4 654.8h5.6l-2.8-5.1zM115.8 643.2h5.6l-2.8-5.1zM87.4 663.6h5.6l-2.8-5.1zM108.9 647.1h5.6l-2.8-5.1zM156.7 630.8h5.6l-2.8-5.1zM116.0 651.8h5.6l-2.8-5.1zM119.5 641.2h5.6l-2.8-5.1zM86.2 660.7h5.6l-2.8-5.1zM88.4 659.2h5.6l-2.8-5.1zM126.8 639.4h5.6l-2.8-5.1zM156.6 635.2h5.6l-2.8-5.1zM193.7 619.7h5.6l-2.8-5.1zM195.8 621.1h5.6l-2.8-5.1zM91.6 657.8h5.6l-2.8-5.1zM90.4 662.7h5.6l-2.8-5.1zM162.5 634.4h5.6l-2.8-5.1zM84.3 665.1h5.6l-2.8-5.1zM190.9 618.4h5.6l-2.8-5.1zM107.6 643.4h5.6l-2.8-5.1zM140.7 644.2h5.6l-2.8-5.1zM110.3 654.8h5.6l-2.8-5.1zM112.3 654.0h5.6l-2.8-5.1zM103.2 664.7h5.6l-2.8-5.1zM120.4 638.2h5.6l-2.8-5.1zM87.7 664.4h5.6l-2.8-5.1zM217.2 615.7h5.6l-2.8-5.1zM92.7 666.1h5.6l-2.8-5.1zM167.0 626.0h5.6l-2.8-5.1zM113.8 652.4h5.6l-2.8-5.1zM81.4 650.8h5.6l-2.8-5.1zM110.9 657.8h5.6l-2.8-5.1zM107.3 660.7h5.6l-2.8-5.1zM186.1 629.6h5.6l-2.8-5.1zM141.5 648.1h5.6l-2.8-5.1zM151.5 644.6h5.6l-2.8-5.1zM137.9 635.9h5.6l-2.8-5.1zM130.9 643.1h5.6l-2.8-5.1zM109.2 649.1h5.6l-2.8-5.1zM129.8 645.3h5.6l-2.8-5.1zM98.3 651.1h5.6l-2.8-5.1zM128.7 644.2h5.6l-2.8-5.1zM118.1 650.7h5.6l-2.8-5.1zM95.1 657.7h5.6l-2.8-5.1zM103.1 660.2h5.6l-2.8-5.1zM163.9 636.9h5.6l-2.8-5.1zM130.7 639.1h5.6l-2.8-5.1zM129.8 641.6h5.6l-2.8-5.1zM104.5 651.7h5.6l-2.8-5.1zM165.1 636.9h5.6l-2.8-5.1zM126.0 649.1h5.6l-2.8-5.1zM97.5 655.2h5.6l-2.8-5.1zM111.3 646.8h5.6l-2.8-5.1zM111.5 655.2h5.6l-2.8-5.1zM171.1 626.1h5.6l-2.8-5.1zM99.3 661.8h5.6l-2.8-5.1zM153.5 639.3h5.6l-2.8-5.1zM149.8 640.9h5.6l-2.8-5.1zM102.9 645.0h5.6l-2.8-5.1zM111.6 641.6h5.6l-2.8-5.1zM131.8 646.0h5.6l-2.8-5.1zM192.2 619.4h5.6l-2.8-5.1zM109.1 643.9h5.6l-2.8-5.1zM189.2 626.5h5.6l-2.8-5.1zM126.7 642.5h5.6l-2.8-5.1zM102.6 654.3h5.6l-2.8-5.1zM165.9 637.8h5.6l-2.8-5.1zM209.7 620.5h5.6l-2.8-5.1zM120.5 645.5h5.6l-2.8-5.1zM106.8 662.3h5.6l-2.8-5.1zM95.0 649.4h5.6l-2.8-5.1zM103.6 663.3h5.6l-2.8-5.1zM211.5 614.7h5.6l-2.8-5.1zM211.0 620.3h5.6l-2.8-5.1zM119.1 642.0h5.6l-2.8-5.1zM182.0 624.9h5.6l-2.8-5.1zM89.8 667.8h5.6l-2.8-5.1zM120.6 645.1h5.6l-2.8-5.1zM142.7 635.6h5.6l-2.8-5.1zM82.6 658.2h5.6l-2.8-5.1zM113.6 640.5h5.6l-2.8-5.1zM112.8 654.5h5.6l-2.8-5.1zM108.7 655.3h5.6l-2.8-5.1zM147.8 633.0h5.6l-2.8-5.1zM82.6 664.6h5.6l-2.8-5.1zM145.4 635.4h5.6l-2.8-5.1zM96.4 664.4h5.6l-2.8-5.1zM99.3 657.5h5.6l-2.8-5.1zM139.3 637.7h5.6l-2.8-5.1zM83.7 656.5h5.6l-2.8-5.1zM151.5 638.8h5.6l-2.8-5.1zM129.7 637.2h5.6l-2.8-5.1zM97.5 652.1h5.6l-2.8-5.1zM117.8 645.4h5.6l-2.8-5.1zM89.6 669.8h5.6l-2.8-5.1zM99.9 663.2h5.6l-2.8-5.1zM100.2 657.2h5.6l-2.8-5.1zM113.4 641.1h5.6l-2.8-5.1zM189.4 627.3h5.6l-2.8-5.1zM102.5 660.5h5.6l-2.8-5.1zM125.6 653.8h5.6l-2.8-5.1zM85.0 657.4h5.6l-2.8-5.1zM98.8 658.5h5.6l-2.8-5.1zM183.5 630.5h5.6l-2.8-5.1zM135.2 640.0h5.6l-2.8-5.1zM190.5 618.5h5.6l-2.8-5.1zM101.7 660.3h5.6l-2.8-5.1zM120.7 655.6h5.6l-2.8-5.1zM87.7 658.5h5.6l-2.8-5.1zM97.4 645.3h5.6l-2.8-5.1zM87.9 650.0h5.6l-2.8-5.1zM112.5 648.7h5.6l-2.8-5.1zM129.4 640.2h5.6l-2.8-5.1zM163.5 633.1h5.6l-2.8-5.1zM93.8 657.6h5.6l-2.8-5.1zM127.5 642.3h5.6l-2.8-5.1zM215.5 612.3h5.6l-2.8-5.1zM224.0 611.5h5.6l-2.8-5.1zM109.0 653.9h5.6l-2.8-5.1zM137.5 637.5h5.6l-2.8-5.1zM87.2 669.8h5.6l-2.8-5.1zM112.6 642.8h5.6l-2.8-5.1zM153.9 636.8h5.6l-2.8-5.1zM108.2 648.6h5.6l-2.8-5.1zM208.0 615.8h5.6l-2.8-5.1zM117.9 655.9h5.6l-2.8-5.1zM111.6 648.5h5.6l-2.8-5.1zM93.2 661.2h5.6l-2.8-5.1zM155.5 634.8h5.6l-2.8-5.1zM116.6 643.5h5.6l-2.8-5.1zM187.3 623.9h5.6l-2.8-5.1zM202.5 617.9h5.6l-2.8-5.1zM171.1 623.5h5.6l-2.8-5.1zM98.1 666.1h5.6l-2.8-5.1zM159.2 637.1h5.6l-2.8-5.1zM127.9 643.9h5.6l-2.8-5.1zM96.2 649.4h5.6l-2.8-5.1zM151.7 640.3h5.6l-2.8-5.1zM101.6 658.0h5.6l-2.8-5.1zM91.2 660.8h5.6l-2.8-5.1zM94.0 657.6h5.6l-2.8-5.1zM106.8 653.7h5.6l-2.8-5.1zM91.0 658.0h5.6l-2.8-5.1zM146.4 632.5h5.6l-2.8-5.1zM106.3 656.6h5.6l-2.8-5.1zM134.9 644.1h5.6l-2.8-5.1zM184.1 626.6h5.6l-2.8-5.1zM98.3 654.7h5.6l-2.8-5.1zM201.8 620.2h5.6l-2.8-5.1zM176.3 626.6h5.6l-2.8-5.1zM121.7 654.8h5.6l-2.8-5.1zM198.6 622.1h5.6l-2.8-5.1zM88.9 661.6h5.6l-2.8-5.1zM83.5 670.2h5.6l-2.8-5.1zM169.8 627.4h5.6l-2.8-5.1zM208.3 614.1h5.6l-2.8-5.1zM200.8 620.0h5.6l-2.8-5.1zM82.3 669.5h5.6l-2.8-5.1zM120.6 652.7h5.6l-2.8-5.1zM160.5 634.4h5.6l-2.8-5.1zM216.1 612.1h5.6l-2.8-5.1zM236.8 608.4h5.6l-2.8-5.1zM83.0 656.9h5.6l-2.8-5.1zM85.8 650.2h5.6l-2.8-5.1zM147.7 631.8h5.6l-2.8-5.1zM93.0 653.0h5.6l-2.8-5.1zM103.4 663.3h5.6l-2.8-5.1zM220.0 617.7h5.6l-2.8-5.1zM120.7 652.1h5.6l-2.8-5.1zM103.6 663.4h5.6l-2.8-5.1zM194.4 624.5h5.6l-2.8-5.1zM98.8 646.8h5.6l-2.8-5.1zM135.8 643.7h5.6l-2.8-5.1zM215.9 611.6h5.6l-2.8-5.1zM162.9 632.5h5.6l-2.8-5.1zM186.1 624.4h5.6l-2.8-5.1zM96.1 666.8h5.6l-2.8-5.1zM103.6 659.5h5.6l-2.8-5.1zM202.2 616.6h5.6l-2.8-5.1zM162.0 631.8h5.6l-2.8-5.1zM98.5 649.7h5.6l-2.8-5.1zM112.4 650.1h5.6l-2.8-5.1zM128.5 635.9h5.6l-2.8-5.1zM176.4 632.0h5.6l-2.8-5.1zM223.1 611.7h5.6l-2.8-5.1zM97.2 652.9h5.6l-2.8-5.1zM170.8 632.6h5.6l-2.8-5.1zM116.6 648.7h5.6l-2.8-5.1zM92.6 667.2h5.6l-2.8-5.1zM124.6 645.7h5.6l-2.8-5.1zM186.4 621.0h5.6l-2.8-5.1zM168.4 629.1h5.6l-2.8-5.1zM195.0 617.0h5.6l-2.8-5.1zM103.2 657.3h5.6l-2.8-5.1zM126.0 642.9h5.6l-2.8-5.1zM140.0 635.7h5.6l-2.8-5.1zM120.3 638.2h5.6l-2.8-5.1zM190.2 620.4h5.6l-2.8-5.1zM202.0 619.9h5.6l-2.8-5.1zM143.8 641.6h5.6l-2.8-5.1zM90.3 664.8h5.6l-2.8-5.1zM104.7 661.4h5.6l-2.8-5.1zM186.2 627.1h5.6l-2.8-5.1zM196.0 620.6h5.6l-2.8-5.1zM157.3 642.2h5.6l-2.8-5.1zM95.5 648.0h5.6l-2.8-5.1zM117.3 648.2h5.6l-2.8-5.1zM92.2 651.7h5.6l-2.8-5.1zM218.2 613.2h5.6l-2.8-5.1zM92.2 650.8h5.6l-2.8-5.1zM139.8 635.3h5.6l-2.8-5.1zM125.0 646.1h5.6l-2.8-5.1zM120.6 647.0h5.6l-2.8-5.1zM204.5 613.6h5.6l-2.8-5.1zM96.3 646.4h5.6l-2.8-5.1zM180.4 628.2h5.6l-2.8-5.1zM133.7 637.6h5.6l-2.8-5.1zM184.5 623.0h5.6l-2.8-5.1zM169.5 626.9h5.6l-2.8-5.1zM139.0 643.4h5.6l-2.8-5.1zM112.8 649.4h5.6l-2.8-5.1zM85.8 663.1h5.6l-2.8-5.1zM161.1 628.4h5.6l-2.8-5.1zM135.6 645.9h5.6l-2.8-5.1zM88.4 666.8h5.6l-2.8-5.1zM220.1 610.0h5.6l-2.8-5.1zM100.6 646.1h5.6l-2.8-5.1zM101.0 646.1h5.6l-2.8-5.1zM126.9 640.4h5.6l-2.8-5.1zM105.5 652.5h5.6l-2.8-5.1zM112.8 655.1h5.6l-2.8-5.1zM168.4 625.6h5.6l-2.8-5.1zM98.4 645.1h5.6l-2.8-5.1zM108.4 644.2h5.6l-2.8-5.1zM162.4 637.4h5.6l-2.8-5.1zM97.1 646.1h5.6l-2.8-5.1zM177.4 627.0h5.6l-2.8-5.1zM115.1 645.4h5.6l-2.8-5.1zM86.3 669.8h5.6l-2.8-5.1zM130.0 642.7h5.6l-2.8-5.1zM120.3 651.8h5.6l-2.8-5.1zM202.0 619.1h5.6l-2.8-5.1zM94.5 655.1h5.6l-2.8-5.1zM232.1 609.8h5.6l-2.8-5.1zM154.7 636.9h5.6l-2.8-5.1zM123.3 647.3h5.6l-2.8-5.1zM100.3 656.5h5.6l-2.8-5.1zM217.2 610.7h5.6l-2.8-5.1zM112.5 656.9h5.6l-2.8-5.1zM82.1 663.7h5.6l-2.8-5.1zM149.2 643.6h5.6l-2.8-5.1zM124.4 639.1h5.6l-2.8-5.1zM105.5 657.8h5.6l-2.8-5.1zM169.8 626.4h5.6l-2.8-5.1zM151.2 639.8h5.6l-2.8-5.1zM154.1 628.4h5.6l-2.8-5.1zM120.8 643.7h5.6l-2.8-5.1zM143.0 636.9h5.6l-2.8-5.1zM90.5 662.3h5.6l-2.8-5.1zM104.2 660.1h5.6l-2.8-5.1zM106.0 654.0h5.6l-2.8-5.1zM193.5 617.7h5.6l-2.8-5.1zM170.5 624.3h5.6l-2.8-5.1zM82.9 665.6h5.6l-2.8-5.1zM112.5 644.0h5.6l-2.8-5.1zM115.4 648.7h5.6l-2.8-5.1zM117.6 641.2h5.6l-2.8-5.1zM131.5 639.7h5.6l-2.8-5.1zM114.0 648.0h5.6l-2.8-5.1zM98.8 666.1h5.6l-2.8-5.1zM107.6 655.3h5.6l-2.8-5.1zM202.7 618.0h5.6l-2.8-5.1zM176.9 625.3h5.6l-2.8-5.1zM89.1 648.6h5.6l-2.8-5.1zM121.7 653.1h5.6l-2.8-5.1zM96.6 655.2h5.6l-2.8-5.1zM179.0 624.6h5.6l-2.8-5.1zM92.5 658.3h5.6l-2.8-5.1zM118.9 655.3h5.6l-2.8-5.1zM236.0 608.1h5.6l-2.8-5.1zM137.2 639.9h5.6l-2.8-5.1zM83.5 659.2h5.6l-2.8-5.1zM105.7 655.0h5.6l-2.8-5.1zM165.5 625.7h5.6l-2.8-5.1zM89.1 654.5h5.6l-2.8-5.1zM166.8 624.7h5.6l-2.8-5.1zM113.2 642.8h5.6l-2.8-5.1zM124.8 637.0h5.6l-2.8-5.1zM92.3 651.7h5.6l-2.8-5.1zM87.0 650.3h5.6l-2.8-5.1zM95.9 657.1h5.6l-2.8-5.1zM91.2 665.5h5.6l-2.8-5.1zM117.9 643.4h5.6l-2.8-5.1zM99.9 662.8h5.6l-2.8-5.1zM84.5 665.7h5.6l-2.8-5.1zM88.2 669.3h5.6l-2.8-5.1zM116.9 649.9h5.6l-2.8-5.1zM216.5 611.1h5.6l-2.8-5.1zM85.7 664.2h5.6l-2.8-5.1zM141.4 643.9h5.6l-2.8-5.1zM103.3 654.2h5.6l-2.8-5.1zM95.2 655.5h5.6l-2.8-5.1zM103.7 656.0h5.6l-2.8-5.1zM105.4 648.7h5.6l-2.8-5.1zM151.1 630.3h5.6l-2.8-5.1zM191.0 622.9h5.6l-2.8-5.1zM98.9 647.3h5.6l-2.8-5.1zM129.5 643.9h5.6l-2.8-5.1zM167.6 629.6h5.6l-2.8-5.1zM117.3 655.0h5.6l-2.8-5.1zM103.0 664.8h5.6l-2.8-5.1zM232.9 612.8h5.6l-2.8-5.1zM101.4 661.8h5.6l-2.8-5.1zM145.6 633.9h5.6l-2.8-5.1zM152.1 642.0h5.6l-2.8-5.1zM136.7 634.2h5.6l-2.8-5.1zM216.5 611.7h5.6l-2.8-5.1zM101.6 657.4h5.6l-2.8-5.1zM95.9 655.9h5.6l-2.8-5.1zM166.2 626.0h5.6l-2.8-5.1zM154.7 629.5h5.6l-2.8-5.1zM125.1 648.0h5.6l-2.8-5.1zM160.3 627.0h5.6l-2.8-5.1zM95.6 667.0h5.6l-2.8-5.1zM114.9 647.5h5.6l-2.8-5.1zM113.1 653.2h5.6l-2.8-5.1zM172.9 631.8h5.6l-2.8-5.1zM116.2 649.6h5.6l-2.8-5.1zM130.5 638.1h5.6l-2.8-5.1zM183.4 632.5h5.6l-2.8-5.1zM123.8 651.8h5.6l-2.8-5.1zM99.9 660.7h5.6l-2.8-5.1zM166.6 638.2h5.6l-2.8-5.1zM203.1 623.0h5.6l-2.8-5.1zM102.4 660.8h5.6l-2.8-5.1zM125.1 642.1h5.6l-2.8-5.1zM112.5 655.4h5.6l-2.8-5.1zM207.0 621.2h5.6l-2.8-5.1zM156.5 630.1h5.6l-2.8-5.1zM92.7 659.3h5.6l-2.8-5.1zM97.4 652.6h5.6l-2.8-5.1zM88.6 651.3h5.6l-2.8-5.1zM167.0 627.6h5.6l-2.8-5.1zM209.3 615.3h5.6l-2.8-5.1zM209.7 614.9h5.6l-2.8-5.1zM102.4 652.3h5.6l-2.8-5.1zM82.0 659.4h5.6l-2.8-5.1zM113.7 640.5h5.6l-2.8-5.1zM215.6 613.8h5.6l-2.8-5.1zM81.2 671.4h5.6l-2.8-5.1zM98.8 650.4h5.6l-2.8-5.1zM82.9 651.7h5.6l-2.8-5.1zM165.3 633.4h5.6l-2.8-5.1zM128.9 639.7h5.6l-2.8-5.1zM104.2 664.0h5.6l-2.8-5.1zM112.9 658.7h5.6l-2.8-5.1zM229.3 608.7h5.6l-2.8-5.1zM209.4 612.3h5.6l-2.8-5.1zM165.6 636.6h5.6l-2.8-5.1zM162.1 634.1h5.6l-2.8-5.1zM195.2 617.6h5.6l-2.8-5.1zM134.0 638.3h5.6l-2.8-5.1zM115.8 643.0h5.6l-2.8-5.1zM165.0 633.4h5.6l-2.8-5.1zM183.9 627.5h5.6l-2.8-5.1zM143.4 646.8h5.6l-2.8-5.1zM195.0 622.4h5.6l-2.8-5.1zM108.0 660.6h5.6l-2.8-5.1zM112.7 642.5h5.6l-2.8-5.1zM108.8 655.8h5.6l-2.8-5.1zM151.8 639.7h5.6l-2.8-5.1zM183.5 625.2h5.6l-2.8-5.1zM123.3 650.5h5.6l-2.8-5.1zM107.2 644.6h5.6l-2.8-5.1zM146.9 643.7h5.6l-2.8-5.1zM100.6 659.2h5.6l-2.8-5.1zM232.9 608.1h5.6l-2.8-5.1zM91.1 658.1h5.6l-2.8-5.1zM108.9 660.5h5.6l-2.8-5.1zM121.3 651.8h5.6l-2.8-5.1zM149.1 632.3h5.6l-2.8-5.1zM94.2 647.8h5.6l-2.8-5.1zM122.2 637.9h5.6l-2.8-5.1zM125.8 643.6h5.6l-2.8-5.1zM117.5 654.2h5.6l-2.8-5.1zM184.1 626.9h5.6l-2.8-5.1zM99.7 651.2h5.6l-2.8-5.1zM127.2 642.8h5.6l-2.8-5.1zM151.7 637.1h5.6l-2.8-5.1zM107.7 654.4h5.6l-2.8-5.1zM96.6 652.9h5.6l-2.8-5.1zM82.0 651.8h5.6l-2.8-5.1zM85.1 658.3h5.6l-2.8-5.1zM204.4 620.7h5.6l-2.8-5.1zM204.5 619.4h5.6l-2.8-5.1zM140.3 632.1h5.6l-2.8-5.1zM114.1 644.9h5.6l-2.8-5.1zM147.1 631.1h5.6l-2.8-5.1zM134.3 640.1h5.6l-2.8-5.1zM127.3 643.0h5.6l-2.8-5.1zM88.5 664.4h5.6l-2.8-5.1zM190.8 624.2h5.6l-2.8-5.1zM89.6 661.0h5.6l-2.8-5.1zM220.5 617.5h5.6l-2.8-5.1zM177.8 621.7h5.6l-2.8-5.1zM224.5 613.5h5.6l-2.8-5.1zM103.2 663.4h5.6l-2.8-5.1zM200.1 624.2h5.6l-2.8-5.1zM100.5 656.9h5.6l-2.8-5.1zM113.6 645.7h5.6l-2.8-5.1zM178.6 629.4h5.6l-2.8-5.1zM108.6 652.7h5.6l-2.8-5.1zM138.1 648.2h5.6l-2.8-5.1zM138.0 649.6h5.6l-2.8-5.1zM83.2 659.6h5.6l-2.8-5.1zM135.8 645.7h5.6l-2.8-5.1zM147.6 637.9h5.6l-2.8-5.1zM149.6 638.3h5.6l-2.8-5.1zM164.2 639.2h5.6l-2.8-5.1zM82.2 656.8h5.6l-2.8-5.1zM223.3 609.4h5.6l-2.8-5.1zM187.4 618.6h5.6l-2.8-5.1zM152.2 641.8h5.6l-2.8-5.1zM99.7 652.9h5.6l-2.8-5.1zM98.7 660.3h5.6l-2.8-5.1zM132.4 644.7h5.6l-2.8-5.1zM108.0 653.9h5.6l-2.8-5.1zM183.9 631.7h5.6l-2.8-5.1zM100.5 655.6h5.6l-2.8-5.1zM114.3 646.3h5.6l-2.8-5.1zM191.8 618.9h5.6l-2.8-5.1zM136.8 646.2h5.6l-2.8-5.1zM82.5 655.6h5.6l-2.8-5.1zM127.4 652.2h5.6l-2.8-5.1zM93.3 665.2h5.6l-2.8-5.1zM115.6 649.4h5.6l-2.8-5.1zM85.7 656.0h5.6l-2.8-5.1zM92.7 649.6h5.6l-2.8-5.1zM105.8 657.3h5.6l-2.8-5.1zM140.3 634.0h5.6l-2.8-5.1zM191.1 623.0h5.6l-2.8-5.1zM91.7 665.3h5.6l-2.8-5.1zM198.1 617.5h5.6l-2.8-5.1zM194.3 618.8h5.6l-2.8-5.1zM81.3 669.3h5.6l-2.8-5.1zM200.1 615.6h5.6l-2.8-5.1zM180.1 631.1h5.6l-2.8-5.1zM149.5 643.4h5.6l-2.8-5.1zM108.2 658.7h5.6l-2.8-5.1zM106.8 656.4h5.6l-2.8-5.1zM159.6 639.6h5.6l-2.8-5.1zM138.1 637.2h5.6l-2.8-5.1zM100.9 656.0h5.6l-2.8-5.1zM91.1 666.4h5.6l-2.8-5.1zM230.8 609.1h5.6l-2.8-5.1zM162.4 635.8h5.6l-2.8-5.1zM90.0 664.9h5.6l-2.8-5.1zM180.1 624.6h5.6l-2.8-5.1zM88.2 654.3h5.6l-2.8-5.1zM181.6 626.3h5.6l-2.8-5.1zM196.1 617.4h5.6l-2.8-5.1zM88.9 655.6h5.6l-2.8-5.1zM225.3 609.8h5.6l-2.8-5.1zM86.4 665.4h5.6l-2.8-5.1zM87.7 663.1h5.6l-2.8-5.1zM87.1 653.8h5.6l-2.8-5.1zM155.3 641.8h5.6l-2.8-5.1zM117.0 647.2h5.6l-2.8-5.1zM83.3 656.9h5.6l-2.8-5.1zM100.0 661.7h5.6l-2.8-5.1zM166.4 636.0h5.6l-2.8-5.1zM132.8 646.2h5.6l-2.8-5.1zM90.5 655.9h5.6l-2.8-5.1zM104.8 649.1h5.6l-2.8-5.1zM172.6 625.7h5.6l-2.8-5.1zM108.0 647.8h5.6l-2.8-5.1zM216.9 615.8h5.6l-2.8-5.1zM125.7 643.0h5.6l-2.8-5.1zM121.8 647.7h5.6l-2.8-5.1zM216.1 612.6h5.6l-2.8-5.1zM101.5 646.3h5.6l-2.8-5.1zM128.6 648.9h5.6l-2.8-5.1zM92.8 656.2h5.6l-2.8-5.1zM125.8 643.1h5.6l-2.8-5.1zM205.6 622.2h5.6l-2.8-5.1zM113.3 642.7h5.6l-2.8-5.1zM150.0 641.6h5.6l-2.8-5.1zM154.6 632.9h5.6l-2.8-5.1zM130.4 639.9h5.6l-2.8-5.1zM121.4 646.1h5.6l-2.8-5.1zM125.4 653.4h5.6l-2.8-5.1zM91.4 667.7h5.6l-2.8-5.1zM150.7 643.6h5.6l-2.8-5.1zM117.5 656.7h5.6l-2.8-5.1zM82.9 668.4h5.6l-2.8-5.1zM197.6 619.4h5.6l-2.8-5.1zM201.2 616.6h5.6l-2.8-5.1zM176.2 628.2h5.6l-2.8-5.1zM117.2 642.7h5.6l-2.8-5.1zM190.7 625.8h5.6l-2.8-5.1zM87.5 670.2h5.6l-2.8-5.1zM98.2 653.2h5.6l-2.8-5.1zM117.6 649.3h5.6l-2.8-5.1zM231.5 613.0h5.6l-2.8-5.1zM149.4 635.5h5.6l-2.8-5.1zM88.9 649.2h5.6l-2.8-5.1zM130.9 644.8h5.6l-2.8-5.1zM121.5 655.1h5.6l-2.8-5.1zM117.5 645.3h5.6l-2.8-5.1zM118.0 641.9h5.6l-2.8-5.1zM142.0 640.7h5.6l-2.8-5.1zM118.9 643.0h5.6l-2.8-5.1zM107.0 652.5h5.6l-2.8-5.1zM121.4 655.1h5.6l-2.8-5.1zM137.5 636.2h5.6l-2.8-5.1zM85.0 652.4h5.6l-2.8-5.1zM110.1 656.6h5.6l-2.8-5.1zM230.8 609.1h5.6l-2.8-5.1zM184.3 624.9h5.6l-2.8-5.1zM133.6 643.0h5.6l-2.8-5.1zM84.2 650.5h5.6l-2.8-5.1zM156.1 638.5h5.6l-2.8-5.1zM113.7 656.8h5.6l-2.8-5.1zM197.8 618.5h5.6l-2.8-5.1zM85.9 661.0h5.6l-2.8-5.1zM153.4 631.9h5.6l-2.8-5.1zM84.2 660.0h5.6l-2.8-5.1zM83.6 665.8h5.6l-2.8-5.1zM148.0 634.4h5.6l-2.8-5.1zM121.3 641.9h5.6l-2.8-5.1zM95.2 649.9h5.6l-2.8-5.1zM196.2 620.7h5.6l-2.8-5.1zM166.7 629.5h5.6l-2.8-5.1zM193.0 623.4h5.6l-2.8-5.1zM153.4 634.7h5.6l-2.8-5.1zM137.3 636.0h5.6l-2.8-5.1zM157.0 635.6h5.6l-2.8-5.1zM150.4 630.7h5.6l-2.8-5.1zM108.9 646.4h5.6l-2.8-5.1zM207.1 612.8h5.6l-2.8-5.1zM121.2 653.2h5.6l-2.8-5.1zM185.0 628.2h5.6l-2.8-5.1zM105.6 647.7h5.6l-2.8-5.1zM164.1 629.7h5.6l-2.8-5.1zM168.5 629.0h5.6l-2.8-5.1zM178.4 628.9h5.6l-2.8-5.1zM196.1 626.7h5.6l-2.8-5.1zM113.6 658.2h5.6l-2.8-5.1zM81.9 669.3h5.6l-2.8-5.1zM83.3 661.5h5.6l-2.8-5.1zM114.6 653.7h5.6l-2.8-5.1zM106.9 646.7h5.6l-2.8-5.1zM185.4 625.8h5.6l-2.8-5.1zM177.0 628.2h5.6l-2.8-5.1zM83.7 666.5h5.6l-2.8-5.1zM97.9 655.4h5.6l-2.8-5.1zM81.2 655.7h5.6l-2.8-5.1zM155.7 639.8h5.6l-2.8-5.1zM150.0 636.6h5.6l-2.8-5.1zM170.9 632.8h5.6l-2.8-5.1zM96.9 657.2h5.6l-2.8-5.1zM143.1 643.5h5.6l-2.8-5.1zM96.2 652.5h5.6l-2.8-5.1zM109.8 643.4h5.6l-2.8-5.1zM110.3 655.4h5.6l-2.8-5.1zM139.8 635.0h5.6l-2.8-5.1zM170.7 624.9h5.6l-2.8-5.1zM175.8 623.8h5.6l-2.8-5.1zM88.1 653.6h5.6l-2.8-5.1zM130.4 639.6h5.6l-2.8-5.1zM227.7 614.2h5.6l-2.8-5.1zM103.9 659.5h5.6l-2.8-5.1zM162.1 634.3h5.6l-2.8-5.1zM101.2 664.8h5.6l-2.8-5.1zM82.1 657.0h5.6l-2.8-5.1zM107.5 646.3h5.6l-2.8-5.1zM119.5 654.3h5.6l-2.8-5.1zM82.8 668.2h5.6l-2.8-5.1zM106.3 642.9h5.6l-2.8-5.1zM237.6 607.9h5.6l-2.8-5.1zM97.4 647.8h5.6l-2.8-5.1zM112.3 643.0h5.6l-2.8-5.1zM94.7 651.6h5.6l-2.8-5.1zM139.9 639.6h5.6l-2.8-5.1zM105.9 653.6h5.6l-2.8-5.1zM182.4 629.4h5.6l-2.8-5.1zM109.8 659.3h5.6l-2.8-5.1zM187.7 625.0h5.6l-2.8-5.1zM125.1 642.4h5.6l-2.8-5.1zM91.0 667.0h5.6l-2.8-5.1zM144.9 632.2h5.6l-2.8-5.1zM229.5 608.1h5.6l-2.8-5.1zM163.2 629.0h5.6l-2.8-5.1zM133.4 648.3h5.6l-2.8-5.1zM110.6 650.8h5.6l-2.8-5.1zM155.6 630.7h5.6l-2.8-5.1zM148.2 636.9h5.6l-2.8-5.1zM95.3 661.6h5.6l-2.8-5.1zM84.1 655.2h5.6l-2.8-5.1zM89.7 650.8h5.6l-2.8-5.1zM132.3 637.3h5.6l-2.8-5.1zM188.9 618.9h5.6l-2.8-5.1zM147.5 644.4h5.6l-2.8-5.1zM90.4 652.2h5.6l-2.8-5.1zM179.6 627.1h5.6l-2.8-5.1zM109.2 649.5h5.6l-2.8-5.1zM109.9 660.2h5.6l-2.8-5.1zM231.9 608.7h5.6l-2.8-5.1zM134.9 649.7h5.6l-2.8-5.1zM89.7 666.6h5.6l-2.8-5.1zM182.4 629.7h5.6l-2.8-5.1zM143.6 632.6h5.6l-2.8-5.1zM88.5 665.5h5.6l-2.8-5.1zM168.6 628.5h5.6l-2.8-5.1zM159.7 632.8h5.6l-2.8-5.1zM175.7 622.3h5.6l-2.8-5.1zM114.2 654.5h5.6l-2.8-5.1zM124.6 651.0h5.6l-2.8-5.1zM105.6 654.2h5.6l-2.8-5.1zM82.9 660.4h5.6l-2.8-5.1zM86.8 667.7h5.6l-2.8-5.1zM158.1 633.6h5.6l-2.8-5.1zM87.1 664.1h5.6l-2.8-5.1zM169.6 632.3h5.6l-2.8-5.1zM82.3 670.3h5.6l-2.8-5.1zM120.5 648.6h5.6l-2.8-5.1zM195.8 618.8h5.6l-2.8-5.1zM83.2 670.0h5.6l-2.8-5.1zM102.6 644.6h5.6l-2.8-5.1zM91.2 669.4h5.6l-2.8-5.1zM172.7 625.6h5.6l-2.8-5.1zM92.0 666.9h5.6l-2.8-5.1zM155.5 637.0h5.6l-2.8-5.1zM90.8 656.5h5.6l-2.8-5.1zM81.4 659.2h5.6l-2.8-5.1zM85.2 671.2h5.6l-2.8-5.1zM88.7 669.4h5.6l-2.8-5.1zM206.3 620.3h5.6l-2.8-5.1zM84.1 664.7h5.6l-2.8-5.1zM127.4 644.4h5.6l-2.8-5.1zM91.9 658.3h5.6l-2.8-5.1zM191.3 618.5h5.6l-2.8-5.1zM223.2 612.1h5.6l-2.8-5.1zM102.2 649.0h5.6l-2.8-5.1zM123.1 648.7h5.6l-2.8-5.1zM138.6 647.7h5.6l-2.8-5.1zM129.9 643.9h5.6l-2.8-5.1zM97.7 645.5h5.6l-2.8-5.1zM108.3 648.3h5.6l-2.8-5.1zM90.2 656.7h5.6l-2.8-5.1zM83.6 669.9h5.6l-2.8-5.1zM126.2 651.6h5.6l-2.8-5.1zM162.5 636.6h5.6l-2.8-5.1zM177.8 625.3h5.6l-2.8-5.1zM170.0 626.4h5.6l-2.8-5.1zM136.2 643.3h5.6l-2.8-5.1zM182.8 621.8h5.6l-2.8-5.1zM109.9 657.5h5.6l-2.8-5.1zM192.2 628.1h5.6l-2.8-5.1zM89.8 652.2h5.6l-2.8-5.1zM88.9 664.1h5.6l-2.8-5.1zM174.2 631.3h5.6l-2.8-5.1zM184.0 626.0h5.6l-2.8-5.1zM137.4 648.6h5.6l-2.8-5.1zM152.3 639.4h5.6l-2.8-5.1zM141.6 640.0h5.6l-2.8-5.1zM177.4 629.2h5.6l-2.8-5.1zM90.6 656.8h5.6l-2.8-5.1zM118.4 646.4h5.6l-2.8-5.1zM137.2 639.0h5.6l-2.8-5.1zM114.9 647.5h5.6l-2.8-5.1zM112.8 658.4h5.6l-2.8-5.1zM87.6 648.4h5.6l-2.8-5.1zM168.1 629.7h5.6l-2.8-5.1zM121.7 648.1h5.6l-2.8-5.1zM112.3 645.2h5.6l-2.8-5.1zM82.3 669.2h5.6l-2.8-5.1zM104.1 653.2h5.6l-2.8-5.1zM107.8 643.4h5.6l-2.8-5.1zM233.0 611.9h5.6l-2.8-5.1zM100.0 650.1h5.6l-2.8-5.1zM162.7 637.6h5.6l-2.8-5.1zM124.3 643.7h5.6l-2.8-5.1zM99.3 662.2h5.6l-2.8-5.1zM216.6 617.9h5.6l-2.8-5.1zM89.5 660.9h5.6l-2.8-5.1zM166.6 631.2h5.6l-2.8-5.1zM91.9 648.2h5.6l-2.8-5.1zM170.7 624.2h5.6l-2.8-5.1zM193.8 623.9h5.6l-2.8-5.1zM124.8 652.3h5.6l-2.8-5.1zM146.4 631.9h5.6l-2.8-5.1zM141.6 638.7h5.6l-2.8-5.1zM100.7 664.5h5.6l-2.8-5.1zM170.3 625.1h5.6l-2.8-5.1zM98.9 652.3h5.6l-2.8-5.1zM139.1 637.8h5.6l-2.8-5.1zM120.6 652.4h5.6l-2.8-5.1zM94.8 662.0h5.6l-2.8-5.1zM108.5 660.7h5.6l-2.8-5.1zM108.2 654.2h5.6l-2.8-5.1zM89.2 656.9h5.6l-2.8-5.1zM147.6 640.6h5.6l-2.8-5.1zM109.7 642.3h5.6l-2.8-5.1zM90.2 659.9h5.6l-2.8-5.1zM94.0 653.0h5.6l-2.8-5.1zM146.7 645.4h5.6l-2.8-5.1zM130.4 639.3h5.6l-2.8-5.1zM141.2 636.4h5.6l-2.8-5.1zM184.9 621.0h5.6l-2.8-5.1zM101.9 653.5h5.6l-2.8-5.1zM93.5 650.7h5.6l-2.8-5.1zM90.8 651.9h5.6l-2.8-5.1zM108.7 649.7h5.6l-2.8-5.1zM178.1 626.6h5.6l-2.8-5.1zM125.0 643.6h5.6l-2.8-5.1zM182.4 631.8h5.6l-2.8-5.1zM118.9 654.9h5.6l-2.8-5.1zM100.8 665.5h5.6l-2.8-5.1zM131.9 646.2h5.6l-2.8-5.1zM113.9 645.1h5.6l-2.8-5.1zM91.1 667.0h5.6l-2.8-5.1zM111.5 654.1h5.6l-2.8-5.1zM123.2 646.5h5.6l-2.8-5.1zM97.0 649.3h5.6l-2.8-5.1zM109.1 655.2h5.6l-2.8-5.1zM134.5 633.6h5.6l-2.8-5.1zM165.6 631.1h5.6l-2.8-5.1zM86.1 654.4h5.6l-2.8-5.1zM97.4 663.4h5.6l-2.8-5.1zM135.5 638.9h5.6l-2.8-5.1zM100.6 650.6h5.6l-2.8-5.1zM103.5 650.9h5.6l-2.8-5.1zM187.5 627.9h5.6l-2.8-5.1zM162.6 638.9h5.6l-2.8-5.1zM153.4 630.1h5.6l-2.8-5.1zM84.3 652.7h5.6l-2.8-5.1zM101.5 655.5h5.6l-2.8-5.1zM198.6 621.4h5.6l-2.8-5.1zM119.4 642.7h5.6l-2.8-5.1zM176.4 626.3h5.6l-2.8-5.1zM84.4 671.1h5.6l-2.8-5.1zM101.3 662.5h5.6l-2.8-5.1zM89.7 662.2h5.6l-2.8-5.1zM111.2 657.9h5.6l-2.8-5.1zM105.2 645.1h5.6l-2.8-5.1zM96.3 663.4h5.6l-2.8-5.1zM151.2 640.2h5.6l-2.8-5.1zM103.7 649.3h5.6l-2.8-5.1zM87.4 670.4h5.6l-2.8-5.1zM84.2 662.8h5.6l-2.8-5.1zM110.5 644.9h5.6l-2.8-5.1zM120.1 654.7h5.6l-2.8-5.1zM100.6 647.9h5.6l-2.8-5.1zM148.7 640.6h5.6l-2.8-5.1zM129.8 638.2h5.6l-2.8-5.1zM222.2 610.1h5.6l-2.8-5.1zM94.2 651.5h5.6l-2.8-5.1zM130.2 643.2h5.6l-2.8-5.1zM136.0 645.6h5.6l-2.8-5.1zM233.8 609.7h5.6l-2.8-5.1zM84.1 667.7h5.6l-2.8-5.1zM82.5 656.7h5.6l-2.8-5.1zM91.7 660.4h5.6l-2.8-5.1zM184.8 620.7h5.6l-2.8-5.1zM104.9 661.0h5.6l-2.8-5.1zM160.6 627.9h5.6l-2.8-5.1zM160.1 638.6h5.6l-2.8-5.1zM116.9 642.0h5.6l-2.8-5.1zM154.4 633.1h5.6l-2.8-5.1zM91.0 650.8h5.6l-2.8-5.1zM116.2 641.7h5.6l-2.8-5.1zM114.3 650.0h5.6l-2.8-5.1zM135.8 640.1h5.6l-2.8-5.1zM190.7 618.2h5.6l-2.8-5.1zM108.4 660.5h5.6l-2.8-5.1zM217.0 618.3h5.6l-2.8-5.1zM179.8 627.9h5.6l-2.8-5.1zM186.5 625.7h5.6l-2.8-5.1zM89.7 653.2h5.6l-2.8-5.1zM88.2 667.7h5.6l-2.8-5.1zM107.6 650.5h5.6l-2.8-5.1zM133.7 635.5h5.6l-2.8-5.1zM164.4 636.9h5.6l-2.8-5.1zM189.3 628.2h5.6l-2.8-5.1zM107.2 645.4h5.6l-2.8-5.1zM178.7 630.5h5.6l-2.8-5.1zM112.8 646.9h5.6l-2.8-5.1zM92.5 665.2h5.6l-2.8-5.1zM123.2 651.5h5.6l-2.8-5.1zM109.4 647.9h5.6l-2.8-5.1zM130.2 647.9h5.6l-2.8-5.1zM226.9 610.7h5.6l-2.8-5.1zM161.6 632.0h5.6l-2.8-5.1zM215.6 617.4h5.6l-2.8-5.1zM136.3 639.3h5.6l-2.8-5.1zM103.0 662.7h5.6l-2.8-5.1zM191.0 620.7h5.6l-2.8-5.1zM87.2 652.6h5.6l-2.8-5.1zM83.9 667.3h5.6l-2.8-5.1zM132.4 643.8h5.6l-2.8-5.1zM133.9 640.8h5.6l-2.8-5.1zM136.6 634.4h5.6l-2.8-5.1zM88.6 650.9h5.6l-2.8-5.1zM157.1 637.3h5.6l-2.8-5.1zM193.0 624.5h5.6l-2.8-5.1zM84.8 649.1h5.6l-2.8-5.1zM99.6 661.6h5.6l-2.8-5.1zM92.8 640.0h5.6l-2.8-5.1zM184.2 609.7h5.6l-2.8-5.1zM133.7 633.2h5.6l-2.8-5.1zM177.5 615.5h5.6l-2.8-5.1zM126.8 623.3h5.6l-2.8-5.1zM188.0 614.9h5.6l-2.8-5.1zM106.6 639.9h5.6l-2.8-5.1zM127.9 633.1h5.6l-2.8-5.1zM112.9 639.9h5.6l-2.8-5.1zM162.0 618.3h5.6l-2.8-5.1zM139.1 629.8h5.6l-2.8-5.1zM133.9 634.3h5.6l-2.8-5.1zM81.7 649.5h5.6l-2.8-5.1zM168.9 618.0h5.6l-2.8-5.1zM213.9 601.5h5.6l-2.8-5.1zM110.0 638.4h5.6l-2.8-5.1zM202.6 609.5h5.6l-2.8-5.1zM154.4 614.3h5.6l-2.8-5.1zM90.4 633.3h5.6l-2.8-5.1zM140.3 620.2h5.6l-2.8-5.1zM102.4 636.6h5.6l-2.8-5.1zM86.9 648.1h5.6l-2.8-5.1zM208.7 609.0h5.6l-2.8-5.1zM122.3 625.1h5.6l-2.8-5.1zM145.8 618.8h5.6l-2.8-5.1zM172.0 622.1h5.6l-2.8-5.1zM86.7 635.6h5.6l-2.8-5.1zM110.9 628.7h5.6l-2.8-5.1zM119.6 639.4h5.6l-2.8-5.1zM207.1 613.6h5.6l-2.8-5.1zM98.7 633.7h5.6l-2.8-5.1zM82.9 639.5h5.6l-2.8-5.1zM85.3 642.6h5.6l-2.8-5.1zM106.2 639.1h5.6l-2.8-5.1zM138.8 625.9h5.6l-2.8-5.1zM106.2 640.1h5.6l-2.8-5.1zM163.0 622.1h5.6l-2.8-5.1zM125.8 627.2h5.6l-2.8-5.1zM104.8 629.9h5.6l-2.8-5.1zM125.1 630.4h5.6l-2.8-5.1zM95.6 644.7h5.6l-2.8-5.1zM229.0 608.3h5.6l-2.8-5.1zM199.7 610.3h5.6l-2.8-5.1zM94.7 635.2h5.6l-2.8-5.1zM174.9 623.1h5.6l-2.8-5.1zM89.5 632.6h5.6l-2.8-5.1zM111.7 631.7h5.6l-2.8-5.1zM144.9 614.2h5.6l-2.8-5.1zM211.2 605.5h5.6l-2.8-5.1zM109.2 632.6h5.6l-2.8-5.1zM94.7 646.7h5.6l-2.8-5.1zM143.5 628.8h5.6l-2.8-5.1zM85.8 642.6h5.6l-2.8-5.1zM173.6 623.5h5.6l-2.8-5.1zM88.9 638.8h5.6l-2.8-5.1zM134.8 633.9h5.6l-2.8-5.1zM101.7 630.2h5.6l-2.8-5.1zM102.6 638.3h5.6l-2.8-5.1zM112.5 635.0h5.6l-2.8-5.1zM227.9 604.7h5.6l-2.8-5.1zM201.6 605.9h5.6l-2.8-5.1zM118.9 638.8h5.6l-2.8-5.1zM101.8 635.5h5.6l-2.8-5.1zM142.2 617.8h5.6l-2.8-5.1zM167.5 620.4h5.6l-2.8-5.1zM88.2 647.9h5.6l-2.8-5.1zM86.4 644.9h5.6l-2.8-5.1zM111.2 628.7h5.6l-2.8-5.1zM86.9 649.5h5.6l-2.8-5.1zM193.7 609.4h5.6l-2.8-5.1zM192.0 617.7h5.6l-2.8-5.1zM134.4 621.4h5.6l-2.8-5.1zM132.4 635.2h5.6l-2.8-5.1zM172.9 620.1h5.6l-2.8-5.1zM210.8 606.5h5.6l-2.8-5.1zM138.5 630.8h5.6l-2.8-5.1zM96.7 644.4h5.6l-2.8-5.1zM82.9 643.5h5.6l-2.8-5.1zM141.1 616.5h5.6l-2.8-5.1zM121.7 622.8h5.6l-2.8-5.1zM118.3 632.3h5.6l-2.8-5.1zM120.4 619.5h5.6l-2.8-5.1zM88.0 644.6h5.6l-2.8-5.1zM91.1 636.0h5.6l-2.8-5.1zM196.6 615.0h5.6l-2.8-5.1zM230.6 602.9h5.6l-2.8-5.1zM81.6 647.3h5.6l-2.8-5.1zM145.1 619.2h5.6l-2.8-5.1zM82.5 642.0h5.6l-2.8-5.1zM100.1 639.3h5.6l-2.8-5.1zM97.6 631.6h5.6l-2.8-5.1zM164.2 611.5h5.6l-2.8-5.1zM98.9 637.2h5.6l-2.8-5.1zM108.6 633.1h5.6l-2.8-5.1zM126.3 621.2h5.6l-2.8-5.1zM117.2 634.9h5.6l-2.8-5.1zM108.6 640.2h5.6l-2.8-5.1zM95.5 632.3h5.6l-2.8-5.1zM150.3 620.8h5.6l-2.8-5.1zM89.0 644.8h5.6l-2.8-5.1zM158.8 618.5h5.6l-2.8-5.1zM90.8 642.0h5.6l-2.8-5.1zM180.6 615.2h5.6l-2.8-5.1zM126.0 631.5h5.6l-2.8-5.1zM147.0 620.3h5.6l-2.8-5.1zM95.6 638.2h5.6l-2.8-5.1zM137.1 632.1h5.6l-2.8-5.1zM138.2 621.1h5.6l-2.8-5.1zM98.8 640.2h5.6l-2.8-5.1zM175.1 614.8h5.6l-2.8-5.1zM163.3 626.7h5.6l-2.8-5.1zM116.0 639.8h5.6l-2.8-5.1zM121.4 632.2h5.6l-2.8-5.1zM222.2 604.1h5.6l-2.8-5.1zM110.9 642.3h5.6l-2.8-5.1zM85.9 638.8h5.6l-2.8-5.1zM126.5 632.5h5.6l-2.8-5.1zM150.9 629.0h5.6l-2.8-5.1zM158.7 612.9h5.6l-2.8-5.1zM86.4 634.3h5.6l-2.8-5.1zM120.8 619.8h5.6l-2.8-5.1zM133.5 628.3h5.6l-2.8-5.1zM97.0 644.3h5.6l-2.8-5.1zM118.6 639.3h5.6l-2.8-5.1zM112.2 635.8h5.6l-2.8-5.1zM135.8 620.8h5.6l-2.8-5.1zM187.1 606.2h5.6l-2.8-5.1zM101.3 634.8h5.6l-2.8-5.1zM230.9 605.2h5.6l-2.8-5.1zM83.8 639.5h5.6l-2.8-5.1zM147.0 627.6h5.6l-2.8-5.1zM89.3 645.3h5.6l-2.8-5.1zM115.9 632.3h5.6l-2.8-5.1zM119.5 628.7h5.6l-2.8-5.1zM174.4 620.1h5.6l-2.8-5.1zM91.9 632.0h5.6l-2.8-5.1zM205.6 611.4h5.6l-2.8-5.1zM150.9 618.3h5.6l-2.8-5.1zM103.0 643.7h5.6l-2.8-5.1zM134.4 616.7h5.6l-2.8-5.1zM110.3 632.5h5.6l-2.8-5.1zM86.1 649.4h5.6l-2.8-5.1zM199.2 604.7h5.6l-2.8-5.1zM119.0 622.6h5.6l-2.8-5.1zM171.8 621.9h5.6l-2.8-5.1zM190.2 615.7h5.6l-2.8-5.1zM90.2 632.4h5.6l-2.8-5.1zM88.0 646.7h5.6l-2.8-5.1zM204.9 610.3h5.6l-2.8-5.1zM99.9 643.5h5.6l-2.8-5.1zM90.2 637.5h5.6l-2.8-5.1zM81.3 650.9h5.6l-2.8-5.1zM118.7 635.6h5.6l-2.8-5.1zM194.4 611.1h5.6l-2.8-5.1zM185.5 619.1h5.6l-2.8-5.1zM87.2 645.5h5.6l-2.8-5.1zM99.2 635.3h5.6l-2.8-5.1zM110.4 642.5h5.6l-2.8-5.1zM85.6 641.0h5.6l-2.8-5.1zM90.8 648.4h5.6l-2.8-5.1zM129.2 630.9h5.6l-2.8-5.1zM132.6 631.1h5.6l-2.8-5.1zM109.9 633.8h5.6l-2.8-5.1zM176.7 619.3h5.6l-2.8-5.1zM234.3 603.6h5.6l-2.8-5.1zM213.2 609.2h5.6l-2.8-5.1zM140.8 621.6h5.6l-2.8-5.1zM139.8 615.7h5.6l-2.8-5.1zM88.4 638.0h5.6l-2.8-5.1zM90.4 632.9h5.6l-2.8-5.1zM169.5 621.3h5.6l-2.8-5.1zM148.2 616.3h5.6l-2.8-5.1zM170.8 622.3h5.6l-2.8-5.1zM148.8 616.7h5.6l-2.8-5.1zM139.4 621.9h5.6l-2.8-5.1zM103.1 631.8h5.6l-2.8-5.1zM221.3 607.4h5.6l-2.8-5.1zM94.4 635.2h5.6l-2.8-5.1zM131.0 618.2h5.6l-2.8-5.1zM106.4 637.1h5.6l-2.8-5.1zM127.2 635.5h5.6l-2.8-5.1zM141.5 625.8h5.6l-2.8-5.1zM142.8 628.3h5.6l-2.8-5.1zM113.1 624.9h5.6l-2.8-5.1zM191.3 605.7h5.6l-2.8-5.1zM89.5 636.1h5.6l-2.8-5.1zM156.3 615.9h5.6l-2.8-5.1zM82.6 643.0h5.6l-2.8-5.1zM81.6 639.7h5.6l-2.8-5.1zM114.9 627.2h5.6l-2.8-5.1zM81.4 639.8h5.6l-2.8-5.1zM100.8 635.0h5.6l-2.8-5.1zM118.7 627.7h5.6l-2.8-5.1zM108.6 628.6h5.6l-2.8-5.1zM208.3 611.0h5.6l-2.8-5.1zM128.7 617.6h5.6l-2.8-5.1zM99.8 644.3h5.6l-2.8-5.1zM124.0 622.6h5.6l-2.8-5.1zM201.2 614.5h5.6l-2.8-5.1zM90.3 640.4h5.6l-2.8-5.1zM138.9 616.8h5.6l-2.8-5.1zM108.1 637.8h5.6l-2.8-5.1zM159.6 622.1h5.6l-2.8-5.1zM149.0 619.5h5.6l-2.8-5.1zM86.2 634.1h5.6l-2.8-5.1zM208.4 612.3h5.6l-2.8-5.1zM86.7 645.9h5.6l-2.8-5.1zM94.4 636.5h5.6l-2.8-5.1zM96.8 644.4h5.6l-2.8-5.1zM200.9 613.9h5.6l-2.8-5.1zM114.8 640.1h5.6l-2.8-5.1zM102.3 638.6h5.6l-2.8-5.1zM159.5 616.0h5.6l-2.8-5.1zM114.9 625.4h5.6l-2.8-5.1zM192.7 605.8h5.6l-2.8-5.1zM91.4 636.3h5.6l-2.8-5.1zM152.8 623.7h5.6l-2.8-5.1zM133.3 632.5h5.6l-2.8-5.1zM178.9 612.7h5.6l-2.8-5.1zM134.8 619.4h5.6l-2.8-5.1zM100.6 632.2h5.6l-2.8-5.1zM86.8 639.2h5.6l-2.8-5.1zM233.5 606.0h5.6l-2.8-5.1zM87.6 636.8h5.6l-2.8-5.1zM143.9 622.9h5.6l-2.8-5.1zM83.1 636.6h5.6l-2.8-5.1zM139.6 625.8h5.6l-2.8-5.1zM87.1 645.9h5.6l-2.8-5.1zM100.4 639.2h5.6l-2.8-5.1zM134.0 622.7h5.6l-2.8-5.1zM116.4 630.2h5.6l-2.8-5.1zM135.6 631.5h5.6l-2.8-5.1zM183.9 614.7h5.6l-2.8-5.1zM169.5 620.0h5.6l-2.8-5.1zM181.1 611.9h5.6l-2.8-5.1zM140.0 622.5h5.6l-2.8-5.1zM99.6 642.4h5.6l-2.8-5.1zM98.7 641.5h5.6l-2.8-5.1zM128.2 625.9h5.6l-2.8-5.1zM167.1 621.5h5.6l-2.8-5.1zM193.8 606.4h5.6l-2.8-5.1zM158.6 620.4h5.6l-2.8-5.1zM122.7 625.9h5.6l-2.8-5.1zM83.0 642.4h5.6l-2.8-5.1zM134.4 622.0h5.6l-2.8-5.1zM89.0 640.6h5.6l-2.8-5.1zM86.3 636.5h5.6l-2.8-5.1zM122.3 625.9h5.6l-2.8-5.1zM129.7 627.4h5.6l-2.8-5.1zM115.6 625.5h5.6l-2.8-5.1zM82.5 644.0h5.6l-2.8-5.1zM104.3 634.7h5.6l-2.8-5.1zM108.1 639.6h5.6l-2.8-5.1zM128.8 632.8h5.6l-2.8-5.1zM81.6 637.8h5.6l-2.8-5.1zM97.4 636.3h5.6l-2.8-5.1zM116.9 629.2h5.6l-2.8-5.1zM121.7 630.5h5.6l-2.8-5.1zM153.1 623.0h5.6l-2.8-5.1zM204.5 608.9h5.6l-2.8-5.1zM83.8 649.8h5.6l-2.8-5.1zM134.7 627.0h5.6l-2.8-5.1zM86.0 645.8h5.6l-2.8-5.1zM114.0 635.4h5.6l-2.8-5.1zM104.5 643.2h5.6l-2.8-5.1zM113.4 629.4h5.6l-2.8-5.1zM238.2 603.9h5.6l-2.8-5.1zM103.3 637.0h5.6l-2.8-5.1zM89.8 635.8h5.6l-2.8-5.1zM192.4 604.3h5.6l-2.8-5.1zM118.7 635.8h5.6l-2.8-5.1zM168.5 622.3h5.6l-2.8-5.1zM89.9 646.9h5.6l-2.8-5.1zM112.1 639.1h5.6l-2.8-5.1zM125.9 635.5h5.6l-2.8-5.1zM126.7 623.0h5.6l-2.8-5.1zM92.6 639.5h5.6l-2.8-5.1zM84.8 637.0h5.6l-2.8-5.1zM226.6 607.2h5.6l-2.8-5.1zM220.4 602.5h5.6l-2.8-5.1zM127.0 627.0h5.6l-2.8-5.1zM89.2 636.9h5.6l-2.8-5.1zM171.2 618.2h5.6l-2.8-5.1zM147.0 628.6h5.6l-2.8-5.1zM144.4 613.2h5.6l-2.8-5.1zM225.0 605.5h5.6l-2.8-5.1zM100.4 632.1h5.6l-2.8-5.1zM131.4 628.0h5.6l-2.8-5.1zM124.4 627.7h5.6l-2.8-5.1zM91.8 643.4h5.6l-2.8-5.1zM135.2 621.9h5.6l-2.8-5.1zM206.7 613.5h5.6l-2.8-5.1zM86.2 640.0h5.6l-2.8-5.1zM123.0 623.9h5.6l-2.8-5.1zM176.5 621.7h5.6l-2.8-5.1zM91.6 640.0h5.6l-2.8-5.1zM234.9 604.7h5.6l-2.8-5.1zM88.9 640.1h5.6l-2.8-5.1zM132.2 631.5h5.6l-2.8-5.1zM95.6 635.2h5.6l-2.8-5.1zM216.3 594.5h5.6l-2.8-5.1zM232.3 597.7h5.6l-2.8-5.1zM400.9 553.7h5.6l-2.8-5.1zM346.8 573.4h5.6l-2.8-5.1zM334.8 577.5h5.6l-2.8-5.1zM326.9 579.3h5.6l-2.8-5.1zM318.7 583.8h5.6l-2.8-5.1zM316.1 584.4h5.6l-2.8-5.1zM301.9 586.1h5.6l-2.8-5.1zM296.5 591.3h5.6l-2.8-5.1zM286.8 590.7h5.6l-2.8-5.1zM287.3 595.3h5.6l-2.8-5.1zM284.2 595.3h5.6l-2.8-5.1zM280.9 595.8h5.6l-2.8-5.1zM275.3 583.1h5.6l-2.8-5.1zM270.7 591.5h5.6l-2.8-5.1zM269.4 600.4h5.6l-2.8-5.1zM266.9 602.2h5.6l-2.8-5.1zM264.3 603.5h5.6l-2.8-5.1zM261.0 604.8h5.6l-2.8-5.1zM254.9 606.1h5.6l-2.8-5.1zM252.8 607.3h5.6l-2.8-5.1zM247.7 607.3h5.6l-2.8-5.1zM246.5 609.9h5.6l-2.8-5.1zM259.2 588.7h5.6l-2.8-5.1zM247.0 592.0h5.6l-2.8-5.1zM243.1 589.5h5.6l-2.8-5.1zM238.0 602.7h5.6l-2.8-5.1zM232.4 598.4h5.6l-2.8-5.1zM241.3 607.3h5.6l-2.8-5.1zM238.8 611.2h5.6l-2.8-5.1zM236.2 612.4h5.6l-2.8-5.1zM233.7 609.4h5.6l-2.8-5.1zM229.9 605.6h5.6l-2.8-5.1zM231.1 615.0h5.6l-2.8-5.1zM227.3 609.4h5.6l-2.8-5.1zM227.8 613.7h5.6l-2.8-5.1zM223.5 608.6h5.6l-2.8-5.1zM224.8 616.3h5.6l-2.8-5.1zM222.2 617.5h5.6l-2.8-5.1z" fill="#0000ff"/>
<path d="M416.0 661.8h5.6l-2.8-5.1zM422.2 665.3h5.6l-2.8-5.1zM453.8 652.3h5.6l-2.8-5.1zM432.9 663.2h5.6l-2.8-5.1zM433.3 638.7h5.6l-2.8-5.1zM421.5 644.5h5.6l-2.8-5.1zM449.6 654.4h5.6l-2.8-5.1zM445.9 651.3h5.6l-2.8-5.1zM417.6 660.0h5.6l-2.8-5.1zM469.5 628.8h5.6l-2.8-5.1zM475.9 634.3h5.6l-2.8-5.1zM443.0 656.8h5.6l-2.8-5.1zM497.5 620.7h5.6l-2.8-5.1zM423.1 643.1h5.6l-2.8-5.1zM436.6 654.9h5.6l-2.8-5.1zM424.5 664.5h5.6l-2.8-5.1zM460.0 651.5h5.6l-2.8-5.1zM479.2 625.4h5.6l-2.8-5.1zM432.2 641.5h5.6l-2.8-5.1zM481.2 635.3h5.6l-2.8-5.1zM415.9 644.4h5.6l-2.8-5.1zM436.5 643.7h5.6l-2.8-5.1zM423.5 665.5h5.6l-2.8-5.1zM473.0 639.0h5.6l-2.8-5.1zM415.6 661.4h5.6l-2.8-5.1zM481.8 638.4h5.6l-2.8-5.1zM466.2 629.3h5.6l-2.8-5.1zM432.8 656.6h5.6l-2.8-5.1zM421.0 645.7h5.6l-2.8-5.1zM435.4 660.1h5.6l-2.8-5.1zM470.6 634.2h5.6l-2.8-5.1zM476.1 630.0h5.6l-2.8-5.1zM473.5 643.8h5.6l-2.8-5.1zM447.4 643.8h5.6l-2.8-5.1zM475.5 645.6h5.6l-2.8-5.1zM486.4 624.4h5.6l-2.8-5.1zM476.3 631.6h5.6l-2.8-5.1zM460.1 647.6h5.6l-2.8-5.1zM416.6 659.2h5.6l-2.8-5.1zM441.6 651.4h5.6l-2.8-5.1zM459.3 646.7h5.6l-2.8-5.1zM439.0 642.3h5.6l-2.8-5.1zM465.1 639.0h5.6l-2.8-5.1zM432.9 659.9h5.6l-2.8-5.1zM463.7 636.1h5.6l-2.8-5.1zM435.7 661.2h5.6l-2.8-5.1zM435.2 638.5h5.6l-2.8-5.1zM485.1 621.3h5.6l-2.8-5.1zM494.8 625.7h5.6l-2.8-5.1zM456.0 647.7h5.6l-2.8-5.1zM427.4 650.1h5.6l-2.8-5.1zM495.1 630.5h5.6l-2.8-5.1zM422.8 648.3h5.6l-2.8-5.1zM436.0 636.9h5.6l-2.8-5.1zM486.7 632.7h5.6l-2.8-5.1zM471.8 645.7h5.6l-2.8-5.1zM459.5 645.2h5.6l-2.8-5.1zM438.3 649.0h5.6l-2.8-5.1zM462.0 632.7h5.6l-2.8-5.1zM445.8 638.9h5.6l-2.8-5.1zM483.6 632.1h5.6l-2.8-5.1zM460.4 650.4h5.6l-2.8-5.1zM421.6 643.0h5.6l-2.8-5.1zM499.6 629.2h5.6l-2.8-5.1zM489.2 630.5h5.6l-2.8-5.1zM417.8 658.0h5.6l-2.8-5.1zM479.7 623.5h5.6l-2.8-5.1zM424.5 667.9h5.6l-2.8-5.1zM470.3 630.2h5.6l-2.8-5.1zM487.8 637.3h5.6l-2.8-5.1zM421.6 656.7h5.6l-2.8-5.1zM444.4 637.8h5.6l-2.8-5.1zM415.7 646.0h5.6l-2.8-5.1zM472.2 646.2h5.6l-2.8-5.1zM482.5 640.5h5.6l-2.8-5.1zM423.0 659.2h5.6l-2.8-5.1zM429.2 648.5h5.6l-2.8-5.1zM426.5 653.3h5.6l-2.8-5.1zM418.5 665.2h5.6l-2.8-5.1zM488.0 639.3h5.6l-2.8-5.1zM420.7 670.4h5.6l-2.8-5.1zM470.0 646.7h5.6l-2.8-5.1zM462.6 632.6h5.6l-2.8-5.1zM428.5 667.4h5.6l-2.8-5.1zM469.4 646.2h5.6l-2.8-5.1zM462.7 637.3h5.6l-2.8-5.1zM491.2 634.2h5.6l-2.8-5.1zM458.3 641.7h5.6l-2.8-5.1zM453.4 648.5h5.6l-2.8-5.1zM433.4 641.9h5.6l-2.8-5.1zM461.5 645.2h5.6l-2.8-5.1zM420.0 651.5h5.6l-2.8-5.1zM437.0 658.9h5.6l-2.8-5.1zM440.7 636.7h5.6l-2.8-5.1zM461.8 648.6h5.6l-2.8-5.1zM418.6 666.7h5.6l-2.8-5.1zM483.1 631.7h5.6l-2.8-5.1zM491.7 630.2h5.6l-2.8-5.1zM429.3 658.9h5.6l-2.8-5.1zM424.9 649.9h5.6l-2.8-5.1zM474.0 636.7h5.6l-2.8-5.1zM462.7 638.5h5.6l-2.8-5.1zM471.4 627.2h5.6l-2.8-5.1zM445.5 635.1h5.6l-2.8-5.1zM489.5 623.3h5.6l-2.8-5.1zM438.5 659.4h5.6l-2.8-5.1zM488.9 632.7h5.6l-2.8-5.1zM437.0 660.7h5.6l-2.8-5.1zM469.9 642.9h5.6l-2.8-5.1zM435.8 648.4h5.6l-2.8-5.1zM446.6 635.9h5.6l-2.8-5.1zM496.2 628.3h5.6l-2.8-5.1zM470.4 645.4h5.6l-2.8-5.1zM420.3 654.1h5.6l-2.8-5.1zM496.4 629.1h5.6l-2.8-5.1zM463.4 634.6h5.6l-2.8-5.1zM432.9 657.1h5.6l-2.8-5.1zM444.4 658.2h5.6l-2.8-5.1zM437.9 650.7h5.6l-2.8-5.1zM422.9 652.6h5.6l-2.8-5.1zM420.6 658.6h5.6l-2.8-5.1zM446.9 640.4h5.6l-2.8-5.1zM419.0 671.1h5.6l-2.8-5.1zM420.2 673.5h5.6l-2.8-5.1zM487.9 628.5h5.6l-2.8-5.1zM454.0 646.6h5.6l-2.8-5.1zM467.6 646.1h5.6l-2.8-5.1zM442.9 634.3h5.6l-2.8-5.1zM488.2 634.0h5.6l-2.8-5.1zM420.6 644.8h5.6l-2.8-5.1zM446.9 644.9h5.6l-2.8-5.1zM430.4 656.8h5.6l-2.8-5.1zM419.6 661.2h5.6l-2.8-5.1zM427.2 661.3h5.6l-2.8-5.1zM470.7 644.1h5.6l-2.8-5.1zM484.6 635.3h5.6l-2.8-5.1zM429.0 648.8h5.6l-2.8-5.1zM442.8 657.8h5.6l-2.8-5.1zM439.2 665.0h5.6l-2.8-5.1zM419.5 644.9h5.6l-2.8-5.1zM443.0 636.2h5.6l-2.8-5.1zM446.3 643.2h5.6l-2.8-5.1zM468.5 640.5h5.6l-2.8-5.1zM455.8 644.1h5.6l-2.8-5.1zM437.9 651.0h5.6l-2.8-5.1zM460.8 638.2h5.6l-2.8-5.1zM426.3 654.7h5.6l-2.8-5.1zM454.8 637.1h5.6l-2.8-5.1zM425.6 666.3h5.6l-2.8-5.1zM418.4 665.0h5.6l-2.8-5.1zM426.3 647.7h5.6l-2.8-5.1zM453.5 649.3h5.6l-2.8-5.1zM455.2 643.3h5.6l-2.8-5.1zM451.2 644.9h5.6l-2.8-5.1zM438.3 664.0h5.6l-2.8-5.1zM430.0 642.5h5.6l-2.8-5.1zM470.9 634.1h5.6l-2.8-5.1zM418.0 665.5h5.6l-2.8-5.1zM446.9 655.3h5.6l-2.8-5.1zM440.2 647.3h5.6l-2.8-5.1zM441.9 649.3h5.6l-2.8-5.1zM438.3 655.3h5.6l-2.8-5.1zM452.3 648.5h5.6l-2.8-5.1zM439.3 648.4h5.6l-2.8-5.1zM472.2 641.4h5.6l-2.8-5.1zM489.2 629.0h5.6l-2.8-5.1zM421.5 645.6h5.6l-2.8-5.1zM426.3 645.4h5.6l-2.8-5.1zM429.4 657.9h5.6l-2.8-5.1zM444.4 657.5h5.6l-2.8-5.1zM433.9 644.3h5.6l-2.8-5.1zM429.3 643.1h5.6l-2.8-5.1zM495.4 630.3h5.6l-2.8-5.1zM435.5 660.5h5.6l-2.8-5.1zM494.0 627.8h5.6l-2.8-5.1zM480.7 636.3h5.6l-2.8-5.1zM455.9 638.1h5.6l-2.8-5.1zM446.9 655.7h5.6l-2.8-5.1zM447.9 648.0h5.6l-2.8-5.1zM421.7 666.4h5.6l-2.8-5.1zM447.9 642.2h5.6l-2.8-5.1zM465.6 632.5h5.6l-2.8-5.1zM431.7 641.7h5.6l-2.8-5.1zM496.5 628.6h5.6l-2.8-5.1zM416.9 647.7h5.6l-2.8-5.1zM482.2 634.9h5.6l-2.8-5.1zM455.3 643.5h5.6l-2.8-5.1zM426.2 656.0h5.6l-2.8-5.1zM437.7 638.8h5.6l-2.8-5.1zM475.0 643.5h5.6l-2.8-5.1zM439.6 652.0h5.6l-2.8-5.1zM437.9 660.4h5.6l-2.8-5.1zM431.6 656.8h5.6l-2.8-5.1zM471.9 633.4h5.6l-2.8-5.1zM421.0 657.8h5.6l-2.8-5.1zM467.0 645.1h5.6l-2.8-5.1zM431.1 643.6h5.6l-2.8-5.1zM440.7 658.1h5.6l-2.8-5.1zM433.7 655.8h5.6l-2.8-5.1zM417.5 646.2h5.6l-2.8-5.1zM463.3 631.6h5.6l-2.8-5.1zM460.0 650.8h5.6l-2.8-5.1zM449.9 645.7h5.6l-2.8-5.1zM453.4 644.7h5.6l-2.8-5.1zM418.3 672.6h5.6l-2.8-5.1zM475.9 632.3h5.6l-2.8-5.1zM438.6 640.4h5.6l-2.8-5.1zM448.5 646.9h5.6l-2.8-5.1zM471.5 630.9h5.6l-2.8-5.1zM417.6 667.0h5.6l-2.8-5.1zM427.6 655.7h5.6l-2.8-5.1zM416.4 644.6h5.6l-2.8-5.1zM427.8 658.2h5.6l-2.8-5.1zM481.6 643.3h5.6l-2.8-5.1zM490.7 630.5h5.6l-2.8-5.1zM416.1 672.0h5.6l-2.8-5.1zM462.2 648.2h5.6l-2.8-5.1zM418.2 670.9h5.6l-2.8-5.1zM460.4 640.1h5.6l-2.8-5.1zM451.7 636.2h5.6l-2.8-5.1zM476.1 629.6h5.6l-2.8-5.1zM499.9 621.1h5.6l-2.8-5.1zM497.1 630.4h5.6l-2.8-5.1zM439.7 655.3h5.6l-2.8-5.1zM450.6 652.5h5.6l-2.8-5.1zM479.3 628.4h5.6l-2.8-5.1zM444.1 655.5h5.6l-2.8-5.1zM494.7 635.6h5.6l-2.8-5.1zM457.6 643.3h5.6l-2.8-5.1zM489.6 631.2h5.6l-2.8-5.1zM417.5 644.0h5.6l-2.8-5.1zM458.9 639.3h5.6l-2.8-5.1zM421.7 669.9h5.6l-2.8-5.1zM433.0 641.3h5.6l-2.8-5.1zM494.4 627.3h5.6l-2.8-5.1zM478.7 635.0h5.6l-2.8-5.1zM464.8 639.3h5.6l-2.8-5.1zM458.6 643.7h5.6l-2.8-5.1zM497.2 620.7h5.6l-2.8-5.1zM497.7 636.2h5.6l-2.8-5.1zM470.0 634.2h5.6l-2.8-5.1zM422.4 644.6h5.6l-2.8-5.1zM469.4 645.7h5.6l-2.8-5.1zM429.4 660.4h5.6l-2.8-5.1zM461.0 649.0h5.6l-2.8-5.1zM429.7 648.4h5.6l-2.8-5.1zM465.7 643.4h5.6l-2.8-5.1zM456.9 641.7h5.6l-2.8-5.1zM450.0 642.8h5.6l-2.8-5.1zM432.9 651.6h5.6l-2.8-5.1zM446.6 649.4h5.6l-2.8-5.1zM462.8 630.8h5.6l-2.8-5.1zM439.0 651.3h5.6l-2.8-5.1zM431.4 639.9h5.6l-2.8-5.1zM431.3 642.6h5.6l-2.8-5.1zM466.2 627.7h5.6l-2.8-5.1zM437.4 650.8h5.6l-2.8-5.1zM428.6 648.0h5.6l-2.8-5.1zM456.4 640.5h5.6l-2.8-5.1zM478.9 625.5h5.6l-2.8-5.1zM466.6 641.4h5.6l-2.8-5.1zM421.7 659.3h5.6l-2.8-5.1zM441.1 656.0h5.6l-2.8-5.1zM482.2 641.3h5.6l-2.8-5.1zM480.6 625.9h5.6l-2.8-5.1zM429.6 659.1h5.6l-2.8-5.1zM419.7 656.4h5.6l-2.8-5.1zM438.5 649.1h5.6l-2.8-5.1zM472.6 641.8h5.6l-2.8-5.1zM438.0 653.9h5.6l-2.8-5.1zM448.1 644.3h5.6l-2.8-5.1zM468.1 641.4h5.6l-2.8-5.1zM428.1 663.3h5.6l-2.8-5.1zM427.5 648.6h5.6l-2.8-5.1zM447.2 655.6h5.6l-2.8-5.1zM417.9 674.4h5.6l-2.8-5.1zM430.9 639.3h5.6l-2.8-5.1zM427.5 661.0h5.6l-2.8-5.1zM415.7 647.8h5.6l-2.8-5.1zM446.2 636.1h5.6l-2.8-5.1zM459.8 642.9h5.6l-2.8-5.1zM462.7 650.0h5.6l-2.8-5.1zM428.3 665.5h5.6l-2.8-5.1zM473.5 637.2h5.6l-2.8-5.1zM428.2 648.5h5.6l-2.8-5.1zM453.6 667.9h5.6l-2.8-5.1zM507.2 614.9h5.6l-2.8-5.1zM505.2 621.5h5.6l-2.8-5.1zM501.9 623.5h5.6l-2.8-5.1zM505.8 625.5h5.6l-2.8-5.1zM504.5 628.8h5.6l-2.8-5.1zM509.8 626.2h5.6l-2.8-5.1zM513.8 628.8h5.6l-2.8-5.1zM500.5 633.5h5.6l-2.8-5.1zM504.5 636.8h5.6l-2.8-5.1zM509.8 635.5h5.6l-2.8-5.1zM497.9 629.5h5.6l-2.8-5.1zM515.2 613.6h5.6l-2.8-5.1zM519.2 614.9h5.6l-2.8-5.1zM521.5 610.2h5.6l-2.8-5.1zM514.2 620.2h5.6l-2.8-5.1zM512.5 622.2h5.6l-2.8-5.1zM518.5 624.2h5.6l-2.8-5.1zM522.5 621.5h5.6l-2.8-5.1zM523.8 622.9h5.6l-2.8-5.1zM525.8 616.2h5.6l-2.8-5.1zM527.8 620.9h5.6l-2.8-5.1zM530.4 614.2h5.6l-2.8-5.1zM533.8 617.5h5.6l-2.8-5.1zM536.2 610.6h5.6l-2.8-5.1zM535.1 613.6h5.6l-2.8-5.1zM540.4 610.9h5.6l-2.8-5.1zM542.4 610.6h5.6l-2.8-5.1zM545.7 610.9h5.6l-2.8-5.1zM552.4 608.9h5.6l-2.8-5.1zM553.7 604.9h5.6l-2.8-5.1zM557.0 606.0h5.6l-2.8-5.1zM560.1 599.6h5.6l-2.8-5.1zM571.0 600.7h5.6l-2.8-5.1zM579.6 592.9h5.6l-2.8-5.1zM582.3 593.6h5.6l-2.8-5.1zM583.0 595.6h5.6l-2.8-5.1zM663.7 563.3h5.6l-2.8-5.1zM639.8 570.6h5.6l-2.8-5.1zM620.0 575.5h5.6l-2.8-5.1zM604.3 586.2h5.6l-2.8-5.1z" fill="#00ff00"/>
<text transform="translate(185.6,11.7) scale(1.237,1)" font-size="17.5" text-anchor="start" font-family="Liberation Serif, serif" textLength="105.5" lengthAdjust="spacing" stroke="#000" stroke-width="0.15" >semi−analytic</text>
<text transform="translate(538.6,11.7) scale(1.244,1)" font-size="17.5" text-anchor="start" font-family="Liberation Serif, serif" textLength="75.2" lengthAdjust="spacing" stroke="#000" stroke-width="0.15" >numerical</text>
<text transform="translate(72.9,54.6) scale(1.100,1)" font-size="18" text-anchor="end" font-family="Liberation Serif, serif" textLength="28.5" lengthAdjust="spacing" stroke="#000" stroke-width="0.2" >100</text>
<text transform="translate(72.9,158.8) scale(1.080,1)" font-size="18" text-anchor="end" font-family="Liberation Serif, serif" textLength="18.1" lengthAdjust="spacing" stroke="#000" stroke-width="0.2" >10</text>
<text transform="translate(72.9,221.8) scale(1.100,1)" font-size="18" text-anchor="end" font-family="Liberation Serif, serif" textLength="28.5" lengthAdjust="spacing" stroke="#000" stroke-width="0.2" >100</text>
<text transform="translate(72.9,326.0) scale(1.080,1)" font-size="18" text-anchor="end" font-family="Liberation Serif, serif" textLength="18.1" lengthAdjust="spacing" stroke="#000" stroke-width="0.2" >10</text>
<text transform="translate(72.9,389.0) scale(1.100,1)" font-size="18" text-anchor="end" font-family="Liberation Serif, serif" textLength="28.5" lengthAdjust="spacing" stroke="#000" stroke-width="0.2" >100</text>
<text transform="translate(72.9,493.2) scale(1.080,1)" font-size="18" text-anchor="end" font-family="Liberation Serif, serif" textLength="18.1" lengthAdjust="spacing" stroke="#000" stroke-width="0.2" >10</text>
<text transform="translate(72.9,556.2) scale(1.100,1)" font-size="18" text-anchor="end" font-family="Liberation Serif, serif" textLength="28.5" lengthAdjust="spacing" stroke="#000" stroke-width="0.2" >100</text>
<text transform="translate(72.9,660.4) scale(1.080,1)" font-size="18" text-anchor="end" font-family="Liberation Serif, serif" textLength="18.1" lengthAdjust="spacing" stroke="#000" stroke-width="0.2" >10</text>
<text transform="translate(123.9,718.9) scale(1.080,1)" font-size="18" text-anchor="end" font-family="Liberation Serif, serif" textLength="18.1" lengthAdjust="spacing" stroke="#000" stroke-width="0.2" >10</text>
<text transform="translate(137.1,714.1) scale(1.000,1)" font-size="12" text-anchor="end" font-family="Liberation Serif, serif" stroke="#000" stroke-width="0.25">8</text>
<text transform="translate(216.7,718.9) scale(1.080,1)" font-size="18" text-anchor="end" font-family="Liberation Serif, serif" textLength="18.1" lengthAdjust="spacing" stroke="#000" stroke-width="0.2" >10</text>
<text transform="translate(229.9,714.1) scale(1.000,1)" font-size="12" text-anchor="end" font-family="Liberation Serif, serif" stroke="#000" stroke-width="0.25">9</text>
<text transform="translate(309.5,718.9) scale(1.080,1)" font-size="18" text-anchor="end" font-family="Liberation Serif, serif" textLength="18.1" lengthAdjust="spacing" stroke="#000" stroke-width="0.2" >10</text>
<text transform="translate(322.7,714.1) scale(1.000,1)" font-size="12" text-anchor="end" font-family="Liberation Serif, serif" stroke="#000" stroke-width="0.25">10</text>
<text transform="translate(402.3,718.9) scale(1.080,1)" font-size="18" text-anchor="end" font-family="Liberation Serif, serif" textLength="18.1" lengthAdjust="spacing" stroke="#000" stroke-width="0.2" >10</text>
<text transform="translate(415.5,714.1) scale(1.000,1)" font-size="12" text-anchor="end" font-family="Liberation Serif, serif" stroke="#000" stroke-width="0.25">11</text>
<text transform="translate(458.3,718.9) scale(1.080,1)" font-size="18" text-anchor="end" font-family="Liberation Serif, serif" textLength="18.1" lengthAdjust="spacing" stroke="#000" stroke-width="0.2" >10</text>
<text transform="translate(471.5,714.1) scale(1.000,1)" font-size="12" text-anchor="end" font-family="Liberation Serif, serif" stroke="#000" stroke-width="0.25">8</text>
<text transform="translate(551.1,718.9) scale(1.080,1)" font-size="18" text-anchor="end" font-family="Liberation Serif, serif" textLength="18.1" lengthAdjust="spacing" stroke="#000" stroke-width="0.2" >10</text>
<text transform="translate(564.3,714.1) scale(1.000,1)" font-size="12" text-anchor="end" font-family="Liberation Serif, serif" stroke="#000" stroke-width="0.25">9</text>
<text transform="translate(643.9,718.9) scale(1.080,1)" font-size="18" text-anchor="end" font-family="Liberation Serif, serif" textLength="18.1" lengthAdjust="spacing" stroke="#000" stroke-width="0.2" >10</text>
<text transform="translate(657.1,714.1) scale(1.000,1)" font-size="12" text-anchor="end" font-family="Liberation Serif, serif" stroke="#000" stroke-width="0.25">10</text>
<text transform="translate(736.7,718.9) scale(1.080,1)" font-size="18" text-anchor="end" font-family="Liberation Serif, serif" textLength="18.1" lengthAdjust="spacing" stroke="#000" stroke-width="0.2" >10</text>
<text transform="translate(749.9,714.1) scale(1.000,1)" font-size="12" text-anchor="end" font-family="Liberation Serif, serif" stroke="#000" stroke-width="0.25">11</text>
<text transform="translate(315.4,759.4) scale(1.265,1)" font-size="21.5" text-anchor="start" font-family="Liberation Serif, serif" textLength="58.1" lengthAdjust="spacing" >scaled</text>
<text transform="translate(401.8,759.4) scale(1.248,1)" font-size="21.5" text-anchor="start" font-family="Liberation Serif, serif" textLength="46.3" lengthAdjust="spacing" >mass</text>
<text transform="translate(474.0,760.4) scale(1.000,1)" font-size="24" text-anchor="start" font-family="Liberation Serif, serif" >(</text>
<text transform="translate(482.8,759.4) scale(0.940,1)" font-size="21.5" text-anchor="start" font-family="Liberation Serif, serif" textLength="18.7" lengthAdjust="spacing" >M</text>
<circle cx="503.9" cy="761.6" r="4.2" fill="none" stroke="#000" stroke-width="0.9"/><circle cx="503.9" cy="761.6" r="1.0" fill="#000"/>
<text transform="translate(511.4,760.4) scale(1.000,1)" font-size="24" text-anchor="start" font-family="Liberation Serif, serif" >)</text>
<g transform="translate(18.4,0) rotate(-90)">
<text transform="translate(-587.2,0.0) scale(1.289,1)" font-size="23" text-anchor="start" font-family="Liberation Serif, serif" textLength="62.5" lengthAdjust="spacing" >scaled</text>
<text transform="translate(-493.2,0.0) scale(1.020,1)" font-size="23" text-anchor="start" font-family="Liberation Serif, serif" textLength="43.7" lengthAdjust="spacing" >peak</text>
<text transform="translate(-435.4,0.0) scale(1.240,1)" font-size="23" text-anchor="start" font-family="Liberation Serif, serif" textLength="75.5" lengthAdjust="spacing" >circular</text>
<text transform="translate(-328.5,0.0) scale(1.149,1)" font-size="23" text-anchor="start" font-family="Liberation Serif, serif" textLength="77.6" lengthAdjust="spacing" >velocity</text>
<text transform="translate(-227.3,0.0) scale(1.000,1)" font-size="27" text-anchor="start" font-family="Liberation Serif, serif" >(</text>
<text transform="translate(-217.0,0.0) scale(1.145,1)" font-size="23" text-anchor="start" font-family="Liberation Serif, serif" textLength="30.7" lengthAdjust="spacing" >km</text>
<text transform="translate(-174.4,0.0) scale(1.199,1)" font-size="23" text-anchor="start" font-family="Liberation Serif, serif" textLength="9.5" lengthAdjust="spacing" >s</text>
<text transform="translate(-161.4,-6.0) scale(1.000,1)" font-size="15" text-anchor="start" font-family="Liberation Serif, serif" stroke="#fff" stroke-width="0.1" >−</text>
<text transform="translate(-151.0,-6.9) scale(1.000,1)" font-size="14" text-anchor="start" font-family="Liberation Serif, serif" >1</text>
<text transform="translate(-143.5,0.0) scale(1.000,1)" font-size="27" text-anchor="start" font-family="Liberation Serif, serif" >)</text>
</g>
</svg>
</body></html>
